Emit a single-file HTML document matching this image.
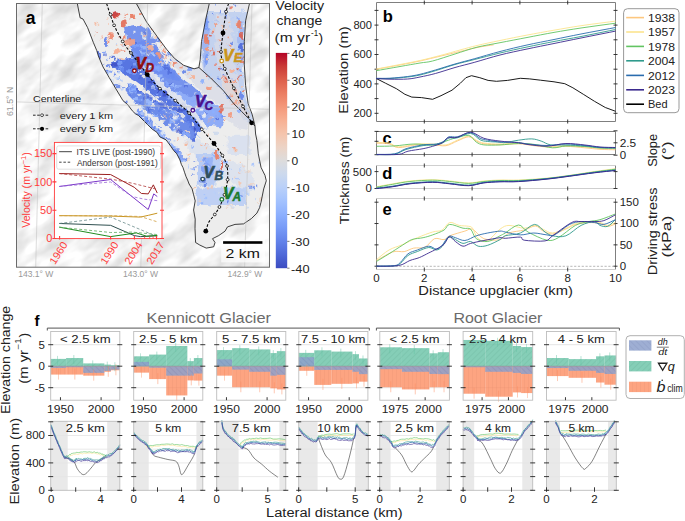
<!DOCTYPE html>
<html><head><meta charset="utf-8"><style>
html,body{margin:0;padding:0;background:#fff;}
svg{display:block;font-family:"Liberation Sans",sans-serif;}
</style></head><body>
<svg width="685" height="521" viewBox="0 0 685 521">
<defs>
<pattern id="hq" patternUnits="userSpaceOnUse" width="4" height="4" patternTransform="rotate(45)"><rect width="4" height="4" fill="#66c2a5"/><line x1="0" y1="0" x2="0" y2="4" stroke="#4fa88a" stroke-width="0.8"/></pattern>
<pattern id="hb" patternUnits="userSpaceOnUse" width="4" height="4"><rect width="4" height="4" fill="#fc8d62"/><line x1="0" y1="0" x2="0" y2="4" stroke="#e87a52" stroke-width="0.7"/></pattern>
<pattern id="hd" patternUnits="userSpaceOnUse" width="4" height="4" patternTransform="rotate(-45)"><rect width="4" height="4" fill="#8da0cb"/><line x1="0" y1="0" x2="0" y2="4" stroke="#7385b8" stroke-width="0.8"/></pattern>
</defs>
<clipPath id="mapclip"><rect x="16.5" y="3.5" width="253" height="263.7"/></clipPath>
<g clip-path="url(#mapclip)">
<rect x="16.5" y="3.5" width="253" height="263.7" fill="#f2f2f2"/>
<filter id="hs" x="0" y="0" width="100%" height="100%" color-interpolation-filters="sRGB"><feTurbulence type="fractalNoise" baseFrequency="0.03 0.065" numOctaves="3" seed="11"/><feColorMatrix type="matrix" values="0.32 0 0 0 0.79  0.32 0 0 0 0.79  0.32 0 0 0 0.79  0 0 0 0 1"/></filter>
<g transform="rotate(-35 140 135)"><rect x="-60" y="-80" width="400" height="430" filter="url(#hs)"/></g>
<path d="M77.3,3.5 L80.1,17.8 L83,19 L87.6,27.6 L93.4,42.6 L96.8,50.7 L98.4,56.1 L103,66.9 L109.2,77.6 L113.8,85.3 L118.4,93 L123,100.7 L127.7,104.6 L132.3,110.8 L135.4,113.8 L138.4,115.4 L143,120 L147.6,124.6 L152.3,129.2 L156.9,132.3 L159.9,136.9 L163,138.4 L166.1,139.9 L170.7,146.1 L173.8,150.7 L176.8,153.8 L179.9,159.9 L181.4,164.5 L183,167.6 L184.5,172.2 L186.1,176.8 L187.6,180 L189.1,184 L192.1,188.8 L193.6,194.8 L195.2,200.9 L193.6,210 L195.2,219.1 L195,228.7 L195.6,242.5 L199.7,245 L206.2,248.1 L213.7,246.8 L215,242.5 L212.5,238.7 L218.7,235.6 L225,231.2 L227.5,226.9 L235,224.4 L243.5,223.9 L251.5,218.5 L256.9,213.1 L259.6,207.7 L261,202.3 L263.7,188.9 L266.3,180.8 L265,175.4 L261,167.3 L258.3,153.8 L256.9,140.4 L255.6,134 L255,126 L252.1,114.2 L248.2,103.8 L245.6,85.6 L244.3,64.9 L244.3,41.5 L245.6,20.8 L249.5,3.5 Z M136.3,3.5 L146.6,22 L157,36.3 L166.5,49.2 L174.5,58.4 L183.7,65.3 L194.1,68.8 L198.9,67.5 L200.2,59.7 L201.5,41.5 L205.4,20.8 L209.3,3.5 Z" fill="#ededed" fill-rule="evenodd"/>
<filter id="rag" x="-5%" y="-5%" width="110%" height="110%"><feTurbulence type="fractalNoise" baseFrequency="0.18" numOctaves="2" seed="4" result="n"/><feDisplacementMap in="SourceGraphic" in2="n" scale="6" xChannelSelector="R" yChannelSelector="G"/></filter>
<clipPath id="glclip"><path clip-rule="evenodd" d="M77.3,3.5 L80.1,17.8 L83,19 L87.6,27.6 L93.4,42.6 L96.8,50.7 L98.4,56.1 L103,66.9 L109.2,77.6 L113.8,85.3 L118.4,93 L123,100.7 L127.7,104.6 L132.3,110.8 L135.4,113.8 L138.4,115.4 L143,120 L147.6,124.6 L152.3,129.2 L156.9,132.3 L159.9,136.9 L163,138.4 L166.1,139.9 L170.7,146.1 L173.8,150.7 L176.8,153.8 L179.9,159.9 L181.4,164.5 L183,167.6 L184.5,172.2 L186.1,176.8 L187.6,180 L189.1,184 L192.1,188.8 L193.6,194.8 L195.2,200.9 L193.6,210 L195.2,219.1 L195,228.7 L195.6,242.5 L199.7,245 L206.2,248.1 L213.7,246.8 L215,242.5 L212.5,238.7 L218.7,235.6 L225,231.2 L227.5,226.9 L235,224.4 L243.5,223.9 L251.5,218.5 L256.9,213.1 L259.6,207.7 L261,202.3 L263.7,188.9 L266.3,180.8 L265,175.4 L261,167.3 L258.3,153.8 L256.9,140.4 L255.6,134 L255,126 L252.1,114.2 L248.2,103.8 L245.6,85.6 L244.3,64.9 L244.3,41.5 L245.6,20.8 L249.5,3.5 Z M136.3,3.5 L146.6,22 L157,36.3 L166.5,49.2 L174.5,58.4 L183.7,65.3 L194.1,68.8 L198.9,67.5 L200.2,59.7 L201.5,41.5 L205.4,20.8 L209.3,3.5 Z"/></clipPath>
<g clip-path="url(#glclip)"><g filter="url(#rag)">
<polygon points="203,12 246.5,12 243.5,30 243,70 245,95 250,112 254,125 246,122 236,108 224,92 212,80 203,72 201,55 202,30" fill="#bfcff0" opacity="0.9"/>
<polygon points="203,3.5 247,3.5 246.5,12 203,12" fill="#e9e9ee" opacity="0.8"/>
<polygon points="216,14 230,14 233,40 236,70 240,90 246,110 240,112 230,98 222,84 217,60 215,35" fill="#d8dbe8" opacity="0.85"/>
<polygon points="222,75 232,80 242,100 250,116 244,118 234,106 224,92" fill="#e2d6d4" opacity="0.8"/>
<polygon points="203,14 208,14 209,40 208,60 204,70 202,50" fill="#8ea8f2" opacity="0.7"/>
<polygon points="239,20 243.5,20 243,60 240,62 238,40" fill="#98b0f2" opacity="0.7"/>
<polygon points="125,27 135,25 149,29 155,40 160,50 164,60 172,68 182.5,79 196,88 205.5,97.6 215,105 224,115 224,120 221,127 210.7,126.1 200,123 190.7,115.3 180,104 170,96 160,86 150,73 140,60 132,50 127,40" fill="#6b8bee" opacity="0.92"/>
<polygon points="130.7,43 146.1,41.5 153.7,44.6 160,52 165,62 172,70 180,80 165,78 152,72 140,62 132,57" fill="#6d8def" opacity="0.9"/>
<polygon points="111,62 124.6,58.5 135.3,57.5 146,70.5 161.4,84.5 176,97 186,107 196,118 203,128 198,133 188,126 180,114.5 169.1,106.8 158.3,99.1 149.1,91.5 141.5,85.3 135.3,80.7 127.6,76.1 118.4,70 112,67.5" fill="#4f6fe0" opacity="0.95"/>
<polygon points="127.6,83.3 138.4,89.4 149.1,95.6 158.3,101.7 169.1,107.8 180,115.5 190,124 198,135 196,142 185,135 172.2,130 161.4,120.6 150.7,113 143,108.3 135.3,102.2 129.2,96.1 124.6,89.9" fill="#6383e8" opacity="0.92"/>
<polygon points="138.4,108.3 146,114.5 150.7,120.6 158,130 168,140 178,150 184,158 181,163 172,154 161,144 152.2,135.5 144.5,128.5 139.9,122.2 135.3,114.5" fill="#7898f2" opacity="0.9"/>
<polygon points="169.2,89.2 183,93.8 193.8,95.4 206,98.4 218.4,106.1 224.5,115.3 221.4,127.6 210.7,126.1 200,123 190.7,115.3 180,106.1 169.2,98.4" fill="#93b0f8" opacity="0.85"/>
<polygon points="170,50 190,60 205,72 222,88 236,104 246,116 248,130 238,128 228,120 218,104 200,90 185,75 170,62" fill="#d6d9e6" opacity="0.7"/>
<polygon points="196.9,153 219.9,153 219.9,172 214,185.7 196.9,185.7" fill="#a9c2f6" opacity="0.8"/>
<polygon points="196.9,187.6 246.8,187.6 246.8,204.9 196.9,204.9" fill="#b3c9f6" opacity="0.8"/>
<polygon points="227.6,135.8 250.6,135.8 250.6,155 227.6,155" fill="#c3d2f2" opacity="0.45"/>
<ellipse cx="208" cy="167" rx="6" ry="9" fill="#7d9cf4" opacity="0.85"/>
<ellipse cx="203" cy="180" rx="4" ry="3" fill="#5a78e0" opacity="0.85"/>
<polygon points="185,140 200,140 215,150 225,160 245,165 255,180 250,195 235,185 220,175 205,160 190,152" fill="#c0d0f0" opacity="0.35"/>
<ellipse cx="115.35" cy="15.35" rx="3.85" ry="3.05" fill="#c53334" opacity="0.9"/>
<ellipse cx="123.8" cy="23.8" rx="3.1" ry="3.8" fill="#e36c55" opacity="0.9"/>
<ellipse cx="132" cy="16.9" rx="2" ry="3.1" fill="#e9785d" opacity="0.9"/>
<ellipse cx="110.7" cy="36.1" rx="2.3" ry="3.9" fill="#ee8468" opacity="0.9"/>
<ellipse cx="129.9" cy="42.2" rx="4.6" ry="3.8" fill="#f6a385" opacity="0.9"/>
<ellipse cx="116.85" cy="51.4" rx="3.85" ry="2.3" fill="#f7ac8e" opacity="0.9"/>
<ellipse cx="140.5" cy="13.5" rx="1.5" ry="1.5" fill="#f18f71" opacity="0.9"/>
<ellipse cx="154" cy="28.5" rx="2" ry="2.5" fill="#eb7d62" opacity="0.9"/>
<ellipse cx="150.5" cy="47.5" rx="2.5" ry="2.5" fill="#f7b093" opacity="0.9"/>
<ellipse cx="159" cy="54.5" rx="2" ry="2.5" fill="#f4987a" opacity="0.9"/>
<ellipse cx="241.5" cy="62" rx="1.5" ry="2" fill="#eb7d62" opacity="0.9"/>
<ellipse cx="234.5" cy="81" rx="1.5" ry="3" fill="#f4987a" opacity="0.9"/>
<ellipse cx="207" cy="41" rx="1" ry="3" fill="#eb7d62" opacity="0.9"/>
<ellipse cx="216" cy="155" rx="2" ry="5" fill="#eb7d62" opacity="0.9"/>
<ellipse cx="222.5" cy="165" rx="1.5" ry="5" fill="#dd5f4b" opacity="0.9"/>
<ellipse cx="237.5" cy="102" rx="2.5" ry="2" fill="#f6a385" opacity="0.9"/>
<ellipse cx="206" cy="39" rx="2" ry="5" fill="#eb7d62" opacity="0.9"/>
<ellipse cx="207.5" cy="48.5" rx="1.5" ry="2.5" fill="#f4987a" opacity="0.9"/>
<ellipse cx="239.5" cy="25" rx="2.5" ry="5" fill="#eb7d62" opacity="0.9"/>
<ellipse cx="241" cy="36" rx="2" ry="3" fill="#dd5f4b" opacity="0.9"/>
<ellipse cx="237.5" cy="56.5" rx="1.5" ry="2.5" fill="#f4987a" opacity="0.9"/>
<ellipse cx="231.5" cy="71" rx="2.5" ry="2" fill="#f7b093" opacity="0.9"/>
<ellipse cx="215.5" cy="25.5" rx="1.5" ry="1.5" fill="#f4987a" opacity="0.9"/>
<ellipse cx="205.5" cy="23" rx="2.5" ry="7" fill="#779af7" opacity="0.9"/>
<ellipse cx="241.5" cy="47.5" rx="2.5" ry="4.5" fill="#4e68d8" opacity="0.9"/>
<ellipse cx="207" cy="59" rx="2" ry="5" fill="#779af7" opacity="0.9"/>
<ellipse cx="241" cy="96" rx="2" ry="4" fill="#6282ea" opacity="0.9"/>
<ellipse cx="229" cy="97" rx="3" ry="2" fill="#8db0fe" opacity="0.9"/>
<ellipse cx="221.5" cy="108" rx="2.5" ry="5" fill="#e36c55" opacity="0.9"/>
<ellipse cx="230" cy="115" rx="2" ry="3" fill="#f4987a" opacity="0.9"/>
<ellipse cx="212" cy="112" rx="2" ry="2" fill="#8db0fe" opacity="0.9"/>
<ellipse cx="106" cy="42" rx="2" ry="5" fill="#6282ea" opacity="0.9"/>
<ellipse cx="99" cy="56" rx="2" ry="4" fill="#4e68d8" opacity="0.9"/>
<ellipse cx="144.5" cy="35.5" rx="2.5" ry="4.5" fill="#ccd9ed" opacity="0.9"/>
<ellipse cx="171" cy="52.5" rx="3" ry="2.5" fill="#779af7" opacity="0.9"/>
<ellipse cx="178.5" cy="60.5" rx="2.5" ry="2.5" fill="#8db0fe" opacity="0.9"/>
<ellipse cx="189" cy="68.5" rx="3" ry="2.5" fill="#779af7" opacity="0.9"/>
<ellipse cx="162" cy="42" rx="2" ry="2" fill="#f4987a" opacity="0.9"/>
<ellipse cx="193" cy="77" rx="3" ry="2" fill="#f7b093" opacity="0.9"/>
<ellipse cx="174" cy="64" rx="2" ry="2" fill="#eb7d62" opacity="0.9"/>
<ellipse cx="202.5" cy="82" rx="2.5" ry="2" fill="#8db0fe" opacity="0.9"/>
<ellipse cx="209" cy="88" rx="3" ry="2" fill="#f4987a" opacity="0.9"/>
<ellipse cx="184" cy="72" rx="2" ry="2" fill="#6282ea" opacity="0.9"/>
<rect x="106.05" y="17.54" width="2.63" height="1.11" fill="#f5c4ac" opacity="0.85"/>
<rect x="100.64" y="37.55" width="1.15" height="1.85" fill="#f4987a" opacity="0.85"/>
<rect x="125.99" y="39.15" width="1.15" height="1.88" fill="#f7b093" opacity="0.85"/>
<rect x="140.8" y="24.48" width="1.36" height="1.18" fill="#eb7d62" opacity="0.85"/>
<rect x="121.42" y="44.1" width="1.26" height="1.86" fill="#f4987a" opacity="0.85"/>
<rect x="109.21" y="37.39" width="1.16" height="1.09" fill="#f4987a" opacity="0.85"/>
<rect x="117.27" y="36.59" width="2.94" height="1.7" fill="#dd5f4b" opacity="0.85"/>
<rect x="108.5" y="22.42" width="1.45" height="2.17" fill="#f7b093" opacity="0.85"/>
<rect x="122.34" y="36.26" width="3.19" height="2.09" fill="#eb7d62" opacity="0.85"/>
<rect x="124.58" y="13.66" width="2.28" height="1.25" fill="#eb7d62" opacity="0.85"/>
<rect x="94.88" y="34.45" width="1.1" height="2" fill="#ecd3c5" opacity="0.85"/>
<rect x="121.27" y="49.45" width="3.05" height="1.51" fill="#eb7d62" opacity="0.85"/>
<rect x="123.63" y="38.99" width="2.14" height="2.26" fill="#eb7d62" opacity="0.85"/>
<rect x="115.82" y="43.21" width="1.15" height="2.05" fill="#b9d0f9" opacity="0.85"/>
<rect x="122.57" y="44.06" width="2.11" height="2.07" fill="#b9d0f9" opacity="0.85"/>
<rect x="108.11" y="40.55" width="2.23" height="1.33" fill="#eb7d62" opacity="0.85"/>
<rect x="93.41" y="22.38" width="1.98" height="2.31" fill="#f7b093" opacity="0.85"/>
<rect x="95.81" y="30.08" width="1.69" height="1.21" fill="#dd5f4b" opacity="0.85"/>
<rect x="141.16" y="23.92" width="2.04" height="1.54" fill="#dd5f4b" opacity="0.85"/>
<rect x="96.45" y="21.6" width="1.58" height="1.73" fill="#f5c4ac" opacity="0.85"/>
<rect x="96.85" y="24.1" width="1.36" height="1.8" fill="#f5c4ac" opacity="0.85"/>
<rect x="121.81" y="57.65" width="2.73" height="1.77" fill="#f5c4ac" opacity="0.85"/>
<rect x="127.57" y="46.99" width="2.14" height="2.31" fill="#ecd3c5" opacity="0.85"/>
<rect x="129.24" y="37.96" width="2" height="1.59" fill="#dd5f4b" opacity="0.85"/>
<rect x="126.23" y="13.11" width="1.17" height="1.31" fill="#f4987a" opacity="0.85"/>
<rect x="119.88" y="57.45" width="2.53" height="1.11" fill="#f4987a" opacity="0.85"/>
<rect x="124.91" y="17.43" width="1.63" height="1.52" fill="#eb7d62" opacity="0.85"/>
<rect x="115.82" y="15.77" width="2.22" height="2.47" fill="#dd5f4b" opacity="0.85"/>
<rect x="116.45" y="14.29" width="1.26" height="1.51" fill="#eb7d62" opacity="0.85"/>
<rect x="116.11" y="44.6" width="2.29" height="1.31" fill="#f5c4ac" opacity="0.85"/>
<rect x="109.04" y="70.7" width="3.29" height="2.14" fill="#779af7" opacity="0.85"/>
<rect x="117.4" y="57.83" width="1.92" height="1.25" fill="#6282ea" opacity="0.85"/>
<rect x="113.31" y="73.37" width="1.82" height="1.33" fill="#6282ea" opacity="0.85"/>
<rect x="112.94" y="60.67" width="1.07" height="1.04" fill="#779af7" opacity="0.85"/>
<rect x="111.81" y="55.81" width="2.51" height="1.52" fill="#4e68d8" opacity="0.85"/>
<rect x="109.12" y="56.61" width="1.57" height="1.3" fill="#6282ea" opacity="0.85"/>
<rect x="122.73" y="60.32" width="2.61" height="2.25" fill="#6282ea" opacity="0.85"/>
<rect x="118.75" y="64.34" width="1.45" height="2.18" fill="#779af7" opacity="0.85"/>
<rect x="118.05" y="63.89" width="2.86" height="1.13" fill="#6282ea" opacity="0.85"/>
<rect x="104.25" y="53.81" width="1.38" height="2.36" fill="#4e68d8" opacity="0.85"/>
<rect x="108.76" y="66.46" width="1.33" height="1.02" fill="#4e68d8" opacity="0.85"/>
<rect x="116.24" y="65.8" width="3.33" height="1.65" fill="#6282ea" opacity="0.85"/>
<rect x="106.3" y="58.79" width="1.6" height="1.88" fill="#779af7" opacity="0.85"/>
<rect x="113.61" y="75.03" width="1.15" height="2.11" fill="#779af7" opacity="0.85"/>
<rect x="112.92" y="74.81" width="3.2" height="1.2" fill="#6282ea" opacity="0.85"/>
<rect x="111" y="55.49" width="1.01" height="2.2" fill="#6282ea" opacity="0.85"/>
<rect x="103.01" y="51.85" width="2.71" height="1.8" fill="#779af7" opacity="0.85"/>
<rect x="114.01" y="57.45" width="1.69" height="2.16" fill="#4e68d8" opacity="0.85"/>
<rect x="106.93" y="65.24" width="3.02" height="1.76" fill="#6282ea" opacity="0.85"/>
<rect x="103.04" y="63.26" width="1.18" height="1.36" fill="#6282ea" opacity="0.85"/>
<rect x="152.76" y="45.14" width="1.31" height="2.17" fill="#dddcdc" opacity="0.85"/>
<rect x="155.19" y="36.86" width="2.17" height="2.12" fill="#f5c4ac" opacity="0.85"/>
<rect x="163.9" y="54.36" width="3.47" height="2.25" fill="#f7b093" opacity="0.85"/>
<rect x="164.23" y="51.06" width="1.89" height="1.14" fill="#f4987a" opacity="0.85"/>
<rect x="159.89" y="61.2" width="2.28" height="1.1" fill="#f7b093" opacity="0.85"/>
<rect x="147.77" y="51.11" width="3.28" height="2.23" fill="#f4987a" opacity="0.85"/>
<rect x="164.36" y="56.83" width="2.29" height="1.74" fill="#f4987a" opacity="0.85"/>
<rect x="145.37" y="32.88" width="2.72" height="1.64" fill="#f5c4ac" opacity="0.85"/>
<rect x="145.31" y="43.03" width="2.52" height="1.33" fill="#f4987a" opacity="0.85"/>
<rect x="160.35" y="57.65" width="3.32" height="1.4" fill="#f7b093" opacity="0.85"/>
<rect x="155.71" y="39.06" width="3.33" height="1.94" fill="#6282ea" opacity="0.85"/>
<rect x="151.37" y="53.74" width="3.34" height="1.16" fill="#dddcdc" opacity="0.85"/>
<rect x="165.93" y="54.75" width="3.09" height="1.59" fill="#6282ea" opacity="0.85"/>
<rect x="158.47" y="40.76" width="1.57" height="1.3" fill="#dddcdc" opacity="0.85"/>
<rect x="175.93" y="64.63" width="1.11" height="1.28" fill="#f4987a" opacity="0.85"/>
<rect x="162.9" y="53.73" width="2.26" height="1.3" fill="#6282ea" opacity="0.85"/>
<rect x="157.98" y="61.48" width="1.21" height="2.44" fill="#f7b093" opacity="0.85"/>
<rect x="179.45" y="65.8" width="3.2" height="1.58" fill="#f4987a" opacity="0.85"/>
<rect x="157.05" y="60.94" width="1.36" height="2.24" fill="#dddcdc" opacity="0.85"/>
<rect x="184.03" y="70.61" width="1.35" height="1.79" fill="#6282ea" opacity="0.85"/>
<rect x="174.11" y="70.65" width="1.04" height="2.03" fill="#dddcdc" opacity="0.85"/>
<rect x="180.97" y="64.67" width="1.57" height="1.05" fill="#f7b093" opacity="0.85"/>
<rect x="162.6" y="52.57" width="1.13" height="1.03" fill="#6282ea" opacity="0.85"/>
<rect x="172.11" y="62.96" width="1.17" height="2.11" fill="#f4987a" opacity="0.85"/>
<rect x="188.55" y="72.31" width="1.59" height="2.13" fill="#f7b093" opacity="0.85"/>
<rect x="168.74" y="64.18" width="2.92" height="1.93" fill="#dddcdc" opacity="0.85"/>
<rect x="159.91" y="62.58" width="2.73" height="1.93" fill="#f7b093" opacity="0.85"/>
<rect x="140.75" y="33.03" width="1.67" height="2.01" fill="#dddcdc" opacity="0.85"/>
<rect x="153.06" y="54.48" width="2.77" height="1.43" fill="#8db0fe" opacity="0.85"/>
<rect x="189.19" y="78.41" width="2.12" height="1.4" fill="#f7b093" opacity="0.85"/>
<rect x="144.48" y="34.52" width="2.87" height="1.39" fill="#f4987a" opacity="0.85"/>
<rect x="160.64" y="45.8" width="3.1" height="1" fill="#f4987a" opacity="0.85"/>
<rect x="162.33" y="49.64" width="3.5" height="1.88" fill="#f4987a" opacity="0.85"/>
<rect x="164.65" y="60.75" width="1.35" height="2.3" fill="#8db0fe" opacity="0.85"/>
<rect x="147.64" y="53.61" width="1.86" height="1.45" fill="#dddcdc" opacity="0.85"/>
<rect x="168.99" y="63.44" width="1.3" height="1.96" fill="#f5c4ac" opacity="0.85"/>
<rect x="154.35" y="42.92" width="2.42" height="2.33" fill="#dddcdc" opacity="0.85"/>
<rect x="169.89" y="58.71" width="1.9" height="2.03" fill="#6282ea" opacity="0.85"/>
<rect x="177.78" y="73.14" width="1.54" height="1.41" fill="#f7b093" opacity="0.85"/>
<rect x="163.07" y="62.29" width="2.08" height="1.47" fill="#f5c4ac" opacity="0.85"/>
<rect x="161.45" y="119.76" width="2.91" height="2.21" fill="#dddcdc" opacity="0.85"/>
<rect x="233.41" y="147.79" width="3.14" height="2.46" fill="#f5c4ac" opacity="0.85"/>
<rect x="213.09" y="149.26" width="3.24" height="1.13" fill="#b9d0f9" opacity="0.85"/>
<rect x="206.38" y="126.98" width="2.09" height="2.15" fill="#ccd9ed" opacity="0.85"/>
<rect x="202.46" y="117.17" width="1.56" height="1.9" fill="#b9d0f9" opacity="0.85"/>
<rect x="175.07" y="112.14" width="3.1" height="1.36" fill="#f5c4ac" opacity="0.85"/>
<rect x="187.06" y="135.48" width="1.14" height="1.29" fill="#8db0fe" opacity="0.85"/>
<rect x="157.3" y="105.95" width="2.06" height="1.56" fill="#dddcdc" opacity="0.85"/>
<rect x="187.85" y="137.78" width="1.5" height="2.2" fill="#ccd9ed" opacity="0.85"/>
<rect x="170.77" y="105.5" width="2.9" height="1.44" fill="#dddcdc" opacity="0.85"/>
<rect x="204.91" y="152.75" width="2.21" height="2.37" fill="#b9d0f9" opacity="0.85"/>
<rect x="185.41" y="104.91" width="3.44" height="1.21" fill="#b9d0f9" opacity="0.85"/>
<rect x="190.47" y="139.84" width="1.79" height="1.17" fill="#ccd9ed" opacity="0.85"/>
<rect x="209.8" y="116.5" width="1.93" height="1.5" fill="#ecd3c5" opacity="0.85"/>
<rect x="159.81" y="95.48" width="1.2" height="1.63" fill="#ccd9ed" opacity="0.85"/>
<rect x="200.5" y="143.12" width="1.95" height="2.15" fill="#f7b093" opacity="0.85"/>
<rect x="223.98" y="120.27" width="1.12" height="1.71" fill="#f4987a" opacity="0.85"/>
<rect x="198.74" y="121.24" width="1.81" height="2.11" fill="#dddcdc" opacity="0.85"/>
<rect x="223.06" y="143.67" width="1.1" height="1.05" fill="#ccd9ed" opacity="0.85"/>
<rect x="204.51" y="115.41" width="1.84" height="2.43" fill="#b9d0f9" opacity="0.85"/>
<rect x="173.6" y="140.16" width="1.79" height="1.41" fill="#b9d0f9" opacity="0.85"/>
<rect x="214.94" y="131.69" width="3.01" height="2.42" fill="#ccd9ed" opacity="0.85"/>
<rect x="172.59" y="120.1" width="2.23" height="2.39" fill="#ecd3c5" opacity="0.85"/>
<rect x="177.3" y="138.45" width="1.38" height="1.35" fill="#f4987a" opacity="0.85"/>
<rect x="191.47" y="144.87" width="2.49" height="1.77" fill="#8db0fe" opacity="0.85"/>
<rect x="155.83" y="92.37" width="2.38" height="1.49" fill="#8db0fe" opacity="0.85"/>
<rect x="213.88" y="121.29" width="1.59" height="1.63" fill="#f5c4ac" opacity="0.85"/>
<rect x="217.32" y="149.29" width="2.66" height="1.18" fill="#f7b093" opacity="0.85"/>
<rect x="176.44" y="129.68" width="1.93" height="2.11" fill="#f5c4ac" opacity="0.85"/>
<rect x="171.2" y="109.69" width="3.27" height="1.28" fill="#ccd9ed" opacity="0.85"/>
<rect x="222.76" y="135.73" width="3.48" height="1.15" fill="#dddcdc" opacity="0.85"/>
<rect x="190.35" y="116.17" width="3.19" height="1.35" fill="#b9d0f9" opacity="0.85"/>
<rect x="202.49" y="155.11" width="1.93" height="2.3" fill="#dddcdc" opacity="0.85"/>
<rect x="204.27" y="144.25" width="2.66" height="1.01" fill="#f4987a" opacity="0.85"/>
<rect x="169.59" y="115.81" width="1.35" height="1.31" fill="#f7b093" opacity="0.85"/>
<rect x="232.26" y="147.03" width="3.05" height="1.61" fill="#f4987a" opacity="0.85"/>
<rect x="166.66" y="111.85" width="1.51" height="2.19" fill="#dddcdc" opacity="0.85"/>
<rect x="155.69" y="97.1" width="1.99" height="1.83" fill="#ccd9ed" opacity="0.85"/>
<rect x="208.78" y="117.84" width="1.68" height="2.48" fill="#f7b093" opacity="0.85"/>
<rect x="217.08" y="151.86" width="2.04" height="1.03" fill="#f4987a" opacity="0.85"/>
<rect x="208" y="117.35" width="2.01" height="2.41" fill="#8db0fe" opacity="0.85"/>
<rect x="223.83" y="118.44" width="3.21" height="1.69" fill="#ecd3c5" opacity="0.85"/>
<rect x="185.7" y="130.1" width="3.32" height="2.11" fill="#ecd3c5" opacity="0.85"/>
<rect x="163.13" y="109.83" width="2.3" height="2.39" fill="#ccd9ed" opacity="0.85"/>
<rect x="184.54" y="142.75" width="2.98" height="2.21" fill="#f7b093" opacity="0.85"/>
<rect x="205.83" y="147.72" width="1.4" height="2.18" fill="#f5c4ac" opacity="0.85"/>
<rect x="205.89" y="133.03" width="1.49" height="1.71" fill="#f5c4ac" opacity="0.85"/>
<rect x="164.08" y="115.14" width="1.37" height="2.46" fill="#f5c4ac" opacity="0.85"/>
<rect x="203.96" y="128.5" width="2.57" height="1.46" fill="#8db0fe" opacity="0.85"/>
<rect x="177.74" y="107.45" width="1.97" height="1.55" fill="#dddcdc" opacity="0.85"/>
<rect x="221.45" y="75.37" width="2.7" height="2" fill="#6282ea" opacity="0.85"/>
<rect x="219.22" y="10.85" width="1.75" height="1.44" fill="#6282ea" opacity="0.85"/>
<rect x="224.21" y="79.88" width="1.08" height="1.16" fill="#eb7d62" opacity="0.85"/>
<rect x="237.33" y="62.84" width="1.11" height="1.6" fill="#dd5f4b" opacity="0.85"/>
<rect x="231.33" y="94.76" width="1.05" height="1.08" fill="#8db0fe" opacity="0.85"/>
<rect x="243.97" y="22.32" width="2.64" height="2.12" fill="#8db0fe" opacity="0.85"/>
<rect x="239.99" y="74.42" width="1.52" height="1.39" fill="#f4987a" opacity="0.85"/>
<rect x="243.44" y="56.4" width="1.53" height="2.16" fill="#6282ea" opacity="0.85"/>
<rect x="210" y="33.76" width="2.05" height="1.38" fill="#779af7" opacity="0.85"/>
<rect x="209.55" y="50.21" width="2.32" height="1.33" fill="#eb7d62" opacity="0.85"/>
<rect x="242.98" y="22.74" width="2.63" height="1.14" fill="#ccd9ed" opacity="0.85"/>
<rect x="225.03" y="83.58" width="2.86" height="1.3" fill="#ccd9ed" opacity="0.85"/>
<rect x="230.23" y="49.13" width="2.66" height="1.32" fill="#eb7d62" opacity="0.85"/>
<rect x="227.71" y="45.15" width="2.59" height="1.53" fill="#b9d0f9" opacity="0.85"/>
<rect x="214.23" y="63.38" width="1.64" height="2.16" fill="#eb7d62" opacity="0.85"/>
<rect x="235.19" y="90.41" width="1.46" height="1.35" fill="#dd5f4b" opacity="0.85"/>
<rect x="220.05" y="45.6" width="1.1" height="1.59" fill="#779af7" opacity="0.85"/>
<rect x="217.04" y="15.44" width="1.74" height="1.27" fill="#f4987a" opacity="0.85"/>
<rect x="228.28" y="26.89" width="2.3" height="1.57" fill="#b9d0f9" opacity="0.85"/>
<rect x="233.96" y="55.75" width="1.13" height="1.17" fill="#f4987a" opacity="0.85"/>
<rect x="219.29" y="33.92" width="1.02" height="1.77" fill="#ccd9ed" opacity="0.85"/>
<rect x="242.85" y="72.58" width="2.2" height="1.72" fill="#ccd9ed" opacity="0.85"/>
<rect x="235.21" y="32.07" width="2.88" height="1.05" fill="#ccd9ed" opacity="0.85"/>
<rect x="205.04" y="74.68" width="2.37" height="1.24" fill="#dd5f4b" opacity="0.85"/>
<rect x="209.58" y="74.15" width="2.05" height="1.77" fill="#b9d0f9" opacity="0.85"/>
<rect x="224.41" y="10.46" width="2.3" height="2.19" fill="#6282ea" opacity="0.85"/>
<rect x="234.34" y="3.74" width="2.76" height="1.89" fill="#6282ea" opacity="0.85"/>
<rect x="212.55" y="78.35" width="1.26" height="2.07" fill="#f4987a" opacity="0.85"/>
<rect x="234.16" y="34.12" width="2.15" height="1.52" fill="#ccd9ed" opacity="0.85"/>
<rect x="244.57" y="107.62" width="1.18" height="1.61" fill="#b9d0f9" opacity="0.85"/>
<rect x="212.5" y="30.62" width="2.55" height="2.13" fill="#eb7d62" opacity="0.85"/>
<rect x="209.21" y="48.48" width="2.25" height="1.46" fill="#ccd9ed" opacity="0.85"/>
<rect x="233.49" y="103.33" width="1.91" height="1.87" fill="#f4987a" opacity="0.85"/>
<rect x="237.88" y="48.81" width="2.22" height="1.68" fill="#b9d0f9" opacity="0.85"/>
<rect x="216.55" y="19.6" width="1.06" height="1.05" fill="#779af7" opacity="0.85"/>
<rect x="233.46" y="89.2" width="1.14" height="1.71" fill="#eb7d62" opacity="0.85"/>
<rect x="225.63" y="80.71" width="2.83" height="1.91" fill="#dd5f4b" opacity="0.85"/>
<rect x="205.14" y="27.07" width="1.23" height="1.04" fill="#8db0fe" opacity="0.85"/>
<rect x="239.6" y="76.89" width="1.6" height="1.12" fill="#8db0fe" opacity="0.85"/>
<rect x="238.01" y="78.62" width="1.61" height="1.4" fill="#f4987a" opacity="0.85"/>
<rect x="217.67" y="40.54" width="3.01" height="1.6" fill="#f4987a" opacity="0.85"/>
<rect x="229.68" y="6.62" width="1.86" height="1.52" fill="#8db0fe" opacity="0.85"/>
<rect x="216.65" y="85.45" width="2.12" height="1.26" fill="#8db0fe" opacity="0.85"/>
<rect x="227.58" y="36.59" width="1.91" height="1.63" fill="#f4987a" opacity="0.85"/>
<rect x="200.21" y="60.43" width="2.02" height="1.96" fill="#b9d0f9" opacity="0.85"/>
<rect x="227.74" y="21.59" width="2.7" height="2.13" fill="#f5c4ac" opacity="0.85"/>
<rect x="223.92" y="15.86" width="2.32" height="1.1" fill="#ccd9ed" opacity="0.85"/>
<rect x="237.77" y="76.47" width="1.74" height="1.48" fill="#dd5f4b" opacity="0.85"/>
<rect x="242.81" y="90.19" width="1.88" height="1.78" fill="#eb7d62" opacity="0.85"/>
<rect x="209.89" y="33.79" width="2.87" height="1.6" fill="#dd5f4b" opacity="0.85"/>
<rect x="245.31" y="17.85" width="2.24" height="1.83" fill="#779af7" opacity="0.85"/>
<rect x="216.73" y="41.22" width="1.32" height="2.01" fill="#ccd9ed" opacity="0.85"/>
<rect x="235.62" y="22.84" width="1.91" height="1.93" fill="#f5c4ac" opacity="0.85"/>
<rect x="206.05" y="57.06" width="2.84" height="1.29" fill="#f5c4ac" opacity="0.85"/>
<rect x="239.67" y="75.23" width="2.5" height="2.17" fill="#eb7d62" opacity="0.85"/>
<rect x="228.94" y="43.79" width="1.49" height="2.15" fill="#f4987a" opacity="0.85"/>
<rect x="204.88" y="47.96" width="3.05" height="1.95" fill="#f4987a" opacity="0.85"/>
<rect x="220.88" y="25.95" width="2.33" height="1.13" fill="#f5c4ac" opacity="0.85"/>
<rect x="242.49" y="57.28" width="1.03" height="2.03" fill="#dd5f4b" opacity="0.85"/>
<rect x="233.29" y="61.56" width="2.32" height="1.56" fill="#b9d0f9" opacity="0.85"/>
<rect x="240.94" y="85.04" width="2.22" height="1.78" fill="#f5c4ac" opacity="0.85"/>
<rect x="232.06" y="79.34" width="2.83" height="1.77" fill="#f5c4ac" opacity="0.85"/>
<rect x="232.62" y="78.06" width="1.94" height="1.38" fill="#8db0fe" opacity="0.85"/>
<rect x="242.95" y="31.36" width="1.83" height="1.86" fill="#b9d0f9" opacity="0.85"/>
<rect x="212" y="52.56" width="1.95" height="1.75" fill="#dd5f4b" opacity="0.85"/>
<rect x="224.88" y="80.35" width="2.82" height="2.07" fill="#eb7d62" opacity="0.85"/>
<rect x="237.35" y="48.48" width="2.02" height="2.17" fill="#779af7" opacity="0.85"/>
<rect x="212.06" y="28.49" width="2.49" height="2.14" fill="#f5c4ac" opacity="0.85"/>
<rect x="224.92" y="14.83" width="2.2" height="1.65" fill="#6282ea" opacity="0.85"/>
<rect x="224.59" y="77.79" width="2.72" height="1.63" fill="#dd5f4b" opacity="0.85"/>
<rect x="235.62" y="56.46" width="3.06" height="1.22" fill="#ccd9ed" opacity="0.85"/>
<rect x="236.61" y="17.32" width="3.05" height="1.43" fill="#779af7" opacity="0.85"/>
<rect x="212.12" y="47.67" width="1.13" height="1.09" fill="#dd5f4b" opacity="0.85"/>
<rect x="230.17" y="81.96" width="2.21" height="1.13" fill="#f4987a" opacity="0.85"/>
<rect x="225.3" y="28.61" width="2.67" height="1.47" fill="#f5c4ac" opacity="0.85"/>
<rect x="209.27" y="78.14" width="2.5" height="1.98" fill="#b9d0f9" opacity="0.85"/>
<rect x="216.95" y="77.74" width="2.7" height="1.98" fill="#6282ea" opacity="0.85"/>
<rect x="231.18" y="94.24" width="1.98" height="1.94" fill="#f5c4ac" opacity="0.85"/>
<rect x="212.84" y="47.01" width="1.53" height="1.51" fill="#b9d0f9" opacity="0.85"/>
<rect x="238.35" y="44.88" width="2.36" height="1.38" fill="#6282ea" opacity="0.85"/>
<rect x="220.57" y="77.56" width="2.37" height="1.43" fill="#f4987a" opacity="0.85"/>
<rect x="241.01" y="9.68" width="2.72" height="2.09" fill="#b9d0f9" opacity="0.85"/>
<rect x="225.47" y="43.38" width="2.21" height="1.79" fill="#f5c4ac" opacity="0.85"/>
<rect x="212" y="14.88" width="1.3" height="1.28" fill="#6282ea" opacity="0.85"/>
<rect x="216.63" y="20.86" width="2.88" height="1.95" fill="#b9d0f9" opacity="0.85"/>
<rect x="229.26" y="83.5" width="3.03" height="1.11" fill="#ccd9ed" opacity="0.85"/>
<rect x="237.83" y="101.14" width="1.41" height="1.83" fill="#ccd9ed" opacity="0.85"/>
<rect x="232.22" y="16.69" width="1.25" height="1.5" fill="#b9d0f9" opacity="0.85"/>
<rect x="222.72" y="68.19" width="2.01" height="2.09" fill="#6282ea" opacity="0.85"/>
<rect x="211.84" y="22.26" width="2.25" height="1.88" fill="#b9d0f9" opacity="0.85"/>
<rect x="240.36" y="57.75" width="2.17" height="1.8" fill="#6282ea" opacity="0.85"/>
<rect x="218" y="52" width="3" height="1.09" fill="#eb7d62" opacity="0.85"/>
<rect x="230.53" y="6.34" width="2.27" height="1.82" fill="#eb7d62" opacity="0.85"/>
<rect x="238.81" y="14" width="2.01" height="1.91" fill="#b9d0f9" opacity="0.85"/>
<rect x="230.01" y="42.62" width="2.79" height="1.44" fill="#6282ea" opacity="0.85"/>
<rect x="237.37" y="67.83" width="2.9" height="1.34" fill="#eb7d62" opacity="0.85"/>
<rect x="220.27" y="67.82" width="2.72" height="1.35" fill="#6282ea" opacity="0.85"/>
<rect x="219.38" y="61.94" width="1.57" height="1.61" fill="#f5c4ac" opacity="0.85"/>
<rect x="231.42" y="95.66" width="1.69" height="1.38" fill="#f4987a" opacity="0.85"/>
<rect x="219.15" y="67.85" width="1.84" height="1.69" fill="#dd5f4b" opacity="0.85"/>
<rect x="214.42" y="3.73" width="1.4" height="2.11" fill="#779af7" opacity="0.85"/>
<rect x="237.87" y="109.45" width="2.27" height="1.74" fill="#8db0fe" opacity="0.85"/>
<rect x="221.98" y="92.23" width="1.21" height="1.22" fill="#779af7" opacity="0.85"/>
<rect x="220.24" y="14.77" width="2.94" height="1.02" fill="#b9d0f9" opacity="0.85"/>
<rect x="237.75" y="68.77" width="1.54" height="1.36" fill="#dd5f4b" opacity="0.85"/>
<rect x="227.18" y="70.66" width="2.9" height="1.6" fill="#ccd9ed" opacity="0.85"/>
<rect x="238.9" y="70.31" width="2.91" height="1.54" fill="#779af7" opacity="0.85"/>
<rect x="232.64" y="72.48" width="3.07" height="1.79" fill="#b9d0f9" opacity="0.85"/>
<rect x="222.82" y="51.25" width="1.21" height="1.77" fill="#f5c4ac" opacity="0.85"/>
<rect x="243" y="76.35" width="1.89" height="1.01" fill="#8db0fe" opacity="0.85"/>
<rect x="201.8" y="157.28" width="2.18" height="1.41" fill="#f5c4ac" opacity="0.85"/>
<rect x="203.65" y="194.01" width="1.47" height="1.08" fill="#a3c2fe" opacity="0.85"/>
<rect x="242.54" y="191.69" width="1.36" height="2.14" fill="#ccd9ed" opacity="0.85"/>
<rect x="233.4" y="192.55" width="2.15" height="2.4" fill="#ccd9ed" opacity="0.85"/>
<rect x="187.46" y="153.63" width="3.21" height="2.03" fill="#f5c4ac" opacity="0.85"/>
<rect x="191.14" y="168.66" width="2.82" height="1.25" fill="#a3c2fe" opacity="0.85"/>
<rect x="249.29" y="186.54" width="1.79" height="2.42" fill="#6282ea" opacity="0.85"/>
<rect x="218.78" y="190.61" width="1.36" height="2.2" fill="#ccd9ed" opacity="0.85"/>
<rect x="258.45" y="159.84" width="3" height="1.72" fill="#a3c2fe" opacity="0.85"/>
<rect x="245.54" y="206.7" width="2.96" height="1.85" fill="#ccd9ed" opacity="0.85"/>
<rect x="206.55" y="187.31" width="2.63" height="2.2" fill="#f5c4ac" opacity="0.85"/>
<rect x="210.57" y="186.35" width="3.44" height="2.25" fill="#f5c4ac" opacity="0.85"/>
<rect x="249.11" y="185.08" width="3.44" height="1.37" fill="#ecd3c5" opacity="0.85"/>
<rect x="237.73" y="186.11" width="3.24" height="2.21" fill="#ccd9ed" opacity="0.85"/>
<rect x="238.02" y="169.29" width="1.67" height="1.24" fill="#a3c2fe" opacity="0.85"/>
<rect x="243.78" y="196.99" width="1.72" height="1.21" fill="#a3c2fe" opacity="0.85"/>
<rect x="260.1" y="197.84" width="2.37" height="2.17" fill="#ecd3c5" opacity="0.85"/>
<rect x="211.71" y="155.1" width="2.38" height="2.2" fill="#8db0fe" opacity="0.85"/>
<rect x="245.65" y="193.33" width="3.46" height="1.46" fill="#b9d0f9" opacity="0.85"/>
<rect x="237.18" y="177.92" width="1.52" height="1.38" fill="#a3c2fe" opacity="0.85"/>
<rect x="226.62" y="182.17" width="1.89" height="1.09" fill="#ecd3c5" opacity="0.85"/>
<rect x="229.63" y="203.82" width="3.21" height="1.78" fill="#ecd3c5" opacity="0.85"/>
<rect x="223.97" y="162.11" width="1.53" height="1.14" fill="#a3c2fe" opacity="0.85"/>
<rect x="238.98" y="171.77" width="2.41" height="1.6" fill="#f5c4ac" opacity="0.85"/>
<rect x="250.99" y="164.78" width="3.31" height="1.74" fill="#a3c2fe" opacity="0.85"/>
<rect x="193.17" y="187.96" width="2.97" height="1.23" fill="#f5c4ac" opacity="0.85"/>
<rect x="200.76" y="202.25" width="2.41" height="1.88" fill="#8db0fe" opacity="0.85"/>
<rect x="205.14" y="196.75" width="2.06" height="2.42" fill="#a3c2fe" opacity="0.85"/>
<rect x="230.67" y="186.52" width="1.33" height="2.27" fill="#ccd9ed" opacity="0.85"/>
<rect x="200.48" y="160.84" width="1.21" height="1.08" fill="#f5c4ac" opacity="0.85"/>
<rect x="213.46" y="192.33" width="2.22" height="2.27" fill="#b9d0f9" opacity="0.85"/>
<rect x="251.45" y="188.39" width="3.31" height="2.06" fill="#b9d0f9" opacity="0.85"/>
<rect x="204.8" y="183.87" width="2.6" height="2.43" fill="#6282ea" opacity="0.85"/>
<rect x="224" y="160.96" width="3.12" height="1.56" fill="#8db0fe" opacity="0.85"/>
<rect x="187.97" y="165.35" width="1.88" height="2.35" fill="#b9d0f9" opacity="0.85"/>
<rect x="245.55" y="192.58" width="2.62" height="2.48" fill="#b9d0f9" opacity="0.85"/>
<rect x="192.78" y="169.06" width="1.01" height="1.3" fill="#6282ea" opacity="0.85"/>
<rect x="208.01" y="185.49" width="2.89" height="1.16" fill="#ccd9ed" opacity="0.85"/>
<rect x="213.62" y="173.4" width="1.94" height="1.57" fill="#ecd3c5" opacity="0.85"/>
<rect x="203.36" y="158.59" width="2.69" height="1.02" fill="#6282ea" opacity="0.85"/>
<rect x="255.27" y="197.93" width="1.39" height="2.25" fill="#b9d0f9" opacity="0.85"/>
<rect x="256.92" y="202.01" width="3.22" height="1.21" fill="#ecd3c5" opacity="0.85"/>
<rect x="258.76" y="205.56" width="1.96" height="1.03" fill="#b9d0f9" opacity="0.85"/>
<rect x="219.83" y="170.39" width="3.06" height="1.72" fill="#6282ea" opacity="0.85"/>
<rect x="213.18" y="169.92" width="2.84" height="1.27" fill="#ecd3c5" opacity="0.85"/>
<rect x="227.61" y="158.68" width="3.18" height="1.4" fill="#ecd3c5" opacity="0.85"/>
<rect x="228.97" y="167.79" width="3.01" height="1.39" fill="#b9d0f9" opacity="0.85"/>
<rect x="209.49" y="204.19" width="1.29" height="2.47" fill="#b9d0f9" opacity="0.85"/>
<rect x="233.59" y="197.26" width="3.31" height="1.84" fill="#a3c2fe" opacity="0.85"/>
<rect x="207.04" y="165.47" width="1.5" height="1.55" fill="#ccd9ed" opacity="0.85"/>
<rect x="192.51" y="167.37" width="3.24" height="1.09" fill="#6282ea" opacity="0.85"/>
<rect x="234.27" y="176.53" width="2.27" height="1.77" fill="#ecd3c5" opacity="0.85"/>
<rect x="225.55" y="161.15" width="2.09" height="2.37" fill="#8db0fe" opacity="0.85"/>
<rect x="206.32" y="160.84" width="3.11" height="1.78" fill="#8db0fe" opacity="0.85"/>
<rect x="239.79" y="161.8" width="1.2" height="1.13" fill="#f5c4ac" opacity="0.85"/>
<rect x="241.28" y="195.68" width="1.44" height="1.21" fill="#6282ea" opacity="0.85"/>
<rect x="239.5" y="198.7" width="2.46" height="1.3" fill="#b9d0f9" opacity="0.85"/>
<rect x="238.3" y="181.17" width="3.1" height="2.37" fill="#f5c4ac" opacity="0.85"/>
<rect x="247.42" y="170.11" width="3.1" height="2.3" fill="#ecd3c5" opacity="0.85"/>
<rect x="191.96" y="174.57" width="2.91" height="1.2" fill="#6282ea" opacity="0.85"/>
<rect x="205.5" y="161.16" width="3.08" height="1.55" fill="#8db0fe" opacity="0.85"/>
<rect x="239.07" y="184.5" width="3.15" height="1.53" fill="#ecd3c5" opacity="0.85"/>
<rect x="212.47" y="164.68" width="3.08" height="2.37" fill="#a3c2fe" opacity="0.85"/>
<rect x="239.76" y="172.88" width="2.88" height="1.09" fill="#a3c2fe" opacity="0.85"/>
<rect x="246.95" y="158.06" width="1.61" height="1.13" fill="#f5c4ac" opacity="0.85"/>
<rect x="199.04" y="156.16" width="1.63" height="2.23" fill="#b9d0f9" opacity="0.85"/>
<rect x="241.88" y="165.69" width="3.09" height="1.96" fill="#ecd3c5" opacity="0.85"/>
<rect x="225.26" y="192.16" width="1.26" height="2.3" fill="#6282ea" opacity="0.85"/>
<rect x="198.78" y="166.38" width="2.16" height="1.88" fill="#a3c2fe" opacity="0.85"/>
<rect x="206.53" y="157.32" width="2.01" height="1.21" fill="#f5c4ac" opacity="0.85"/>
<rect x="202.51" y="163.62" width="2.67" height="1.69" fill="#ecd3c5" opacity="0.85"/>
<rect x="197.65" y="199.56" width="3.34" height="1.58" fill="#ecd3c5" opacity="0.85"/>
<rect x="230.97" y="186.17" width="1.09" height="2.46" fill="#b9d0f9" opacity="0.85"/>
<rect x="244.82" y="170.31" width="1.6" height="1.5" fill="#ecd3c5" opacity="0.85"/>
<rect x="249.91" y="183.87" width="3.46" height="1.48" fill="#ecd3c5" opacity="0.85"/>
<rect x="224.84" y="207.47" width="3.34" height="1.37" fill="#ecd3c5" opacity="0.85"/>
<rect x="193.39" y="161.25" width="1.81" height="1.3" fill="#6282ea" opacity="0.85"/>
<rect x="186.6" y="158.36" width="3.42" height="2.16" fill="#ecd3c5" opacity="0.85"/>
<rect x="233.76" y="198.56" width="3.21" height="2.33" fill="#b9d0f9" opacity="0.85"/>
<rect x="251.65" y="187.26" width="3.29" height="1.94" fill="#6282ea" opacity="0.85"/>
<rect x="226.75" y="205.46" width="2.55" height="1.38" fill="#f5c4ac" opacity="0.85"/>
<rect x="188.04" y="156.78" width="1.87" height="1.25" fill="#b9d0f9" opacity="0.85"/>
<rect x="230.76" y="207.37" width="2.28" height="1.4" fill="#ecd3c5" opacity="0.85"/>
<rect x="230.45" y="205.92" width="2.1" height="1.77" fill="#ccd9ed" opacity="0.85"/>
<rect x="255.5" y="184.64" width="1.69" height="2.1" fill="#6282ea" opacity="0.85"/>
<rect x="227.07" y="200.38" width="2.52" height="1.86" fill="#6282ea" opacity="0.85"/>
<rect x="214.77" y="182.91" width="1.92" height="2.34" fill="#ccd9ed" opacity="0.85"/>
<rect x="232.19" y="178.14" width="1.78" height="1.36" fill="#8db0fe" opacity="0.85"/>
<rect x="199.54" y="182.75" width="3.42" height="1.59" fill="#ccd9ed" opacity="0.85"/>
<rect x="209.94" y="169.53" width="1.67" height="2.32" fill="#8db0fe" opacity="0.85"/>
<rect x="161.49" y="131.76" width="2.9" height="1.71" fill="#b9d0f9" opacity="0.85"/>
<rect x="147.73" y="104.77" width="3.41" height="1.86" fill="#8db0fe" opacity="0.85"/>
<rect x="120.93" y="88.79" width="1.88" height="1.79" fill="#b9d0f9" opacity="0.85"/>
<rect x="129.61" y="85.42" width="2.97" height="2.27" fill="#8db0fe" opacity="0.85"/>
<rect x="129.26" y="83" width="2.34" height="2.2" fill="#8db0fe" opacity="0.85"/>
<rect x="146.79" y="113.97" width="1.22" height="2.38" fill="#8db0fe" opacity="0.85"/>
<rect x="116.84" y="85.84" width="3.43" height="2.34" fill="#6282ea" opacity="0.85"/>
<rect x="133.71" y="101.07" width="1.1" height="2.01" fill="#8db0fe" opacity="0.85"/>
<rect x="128.7" y="94.1" width="2.4" height="1.86" fill="#6282ea" opacity="0.85"/>
<rect x="141.04" y="105.54" width="1.47" height="1.27" fill="#b9d0f9" opacity="0.85"/>
<rect x="146.29" y="119.45" width="2.81" height="2.04" fill="#6282ea" opacity="0.85"/>
<rect x="147.76" y="123.49" width="1.49" height="1.75" fill="#b9d0f9" opacity="0.85"/>
<rect x="107.93" y="71.84" width="2.5" height="1.22" fill="#b9d0f9" opacity="0.85"/>
<rect x="110.25" y="79.33" width="1.25" height="2.36" fill="#b9d0f9" opacity="0.85"/>
<rect x="115.06" y="67.53" width="2.47" height="1.26" fill="#6282ea" opacity="0.85"/>
<rect x="114.93" y="84.01" width="3.19" height="1.73" fill="#6282ea" opacity="0.85"/>
<rect x="127.66" y="86.85" width="3.18" height="1.5" fill="#b9d0f9" opacity="0.85"/>
<rect x="117.04" y="71.03" width="1.71" height="1.36" fill="#6282ea" opacity="0.85"/>
<rect x="106.69" y="71.59" width="2.36" height="2.18" fill="#b9d0f9" opacity="0.85"/>
<rect x="141.17" y="109.69" width="1.68" height="2.16" fill="#8db0fe" opacity="0.85"/>
<rect x="158.96" y="126.41" width="2.94" height="1.35" fill="#6282ea" opacity="0.85"/>
<rect x="156.17" y="123" width="1.88" height="1.62" fill="#b9d0f9" opacity="0.85"/>
<rect x="121.23" y="79.8" width="2.52" height="1.33" fill="#b9d0f9" opacity="0.85"/>
<rect x="98.64" y="54.4" width="1.41" height="1.3" fill="#8db0fe" opacity="0.85"/>
<rect x="144.71" y="119.24" width="3.35" height="1.85" fill="#6282ea" opacity="0.85"/>
<rect x="157.25" y="131.25" width="3.07" height="1.94" fill="#8db0fe" opacity="0.85"/>
<rect x="116.24" y="78.63" width="3.41" height="1.25" fill="#8db0fe" opacity="0.85"/>
<rect x="158.63" y="123.74" width="1.59" height="1.36" fill="#b9d0f9" opacity="0.85"/>
<rect x="152.68" y="126.79" width="1.33" height="2.06" fill="#b9d0f9" opacity="0.85"/>
<rect x="154.99" y="115.86" width="2.15" height="2.15" fill="#6282ea" opacity="0.85"/>
<rect x="124.2" y="101.55" width="1.91" height="1.25" fill="#6282ea" opacity="0.85"/>
<rect x="123.96" y="89.52" width="1.23" height="1.43" fill="#b9d0f9" opacity="0.85"/>
<rect x="117.63" y="77.06" width="1.35" height="1.04" fill="#8db0fe" opacity="0.85"/>
<rect x="146.02" y="119.1" width="3.05" height="2.06" fill="#6282ea" opacity="0.85"/>
<rect x="132.91" y="87.25" width="2.1" height="2" fill="#6282ea" opacity="0.85"/>
<rect x="124.13" y="100.65" width="3.43" height="2.36" fill="#6282ea" opacity="0.85"/>
<rect x="121.94" y="87.77" width="3.21" height="1.04" fill="#6282ea" opacity="0.85"/>
<rect x="147.12" y="111.04" width="3.36" height="1.54" fill="#6282ea" opacity="0.85"/>
<rect x="105.28" y="69.86" width="3.22" height="1.82" fill="#6282ea" opacity="0.85"/>
<rect x="155.32" y="128" width="1.57" height="1.69" fill="#b9d0f9" opacity="0.85"/>
<rect x="141.19" y="114.73" width="1.2" height="1.61" fill="#6282ea" opacity="0.85"/>
<rect x="140.28" y="105.8" width="3.1" height="2.42" fill="#b9d0f9" opacity="0.85"/>
<rect x="114.18" y="82.99" width="2.77" height="1.64" fill="#6282ea" opacity="0.85"/>
<rect x="117.91" y="71.25" width="2.12" height="2.26" fill="#b9d0f9" opacity="0.85"/>
<rect x="138.85" y="103.24" width="1.08" height="2.26" fill="#6282ea" opacity="0.85"/>
<rect x="137.1" y="113.47" width="1.97" height="1.53" fill="#6282ea" opacity="0.85"/>
<rect x="115.4" y="77.36" width="3.19" height="1.91" fill="#b9d0f9" opacity="0.85"/>
<rect x="119.54" y="80.07" width="2.25" height="1.39" fill="#b9d0f9" opacity="0.85"/>
<rect x="146.62" y="114.29" width="1.35" height="2.05" fill="#b9d0f9" opacity="0.85"/>
<rect x="166.27" y="137.23" width="1.6" height="2.2" fill="#6282ea" opacity="0.85"/>
<rect x="200.57" y="100.43" width="4.04" height="3.41" fill="#84a7fc" opacity="0.75"/>
<rect x="191.5" y="115.13" width="5.13" height="3.01" fill="#6a8bef" opacity="0.75"/>
<rect x="139.93" y="45.95" width="5.56" height="3.51" fill="#a3c2fe" opacity="0.75"/>
<rect x="169.11" y="83.01" width="3.21" height="2.01" fill="#4e68d8" opacity="0.75"/>
<rect x="132.28" y="44.4" width="5.7" height="3.25" fill="#84a7fc" opacity="0.75"/>
<rect x="141.29" y="52.34" width="4.82" height="2.15" fill="#a3c2fe" opacity="0.75"/>
<rect x="152.98" y="76.2" width="2.4" height="2.23" fill="#4e68d8" opacity="0.75"/>
<rect x="138.53" y="44.19" width="4.15" height="4.13" fill="#84a7fc" opacity="0.75"/>
<rect x="158.12" y="75.42" width="4.39" height="2.27" fill="#a3c2fe" opacity="0.75"/>
<rect x="156.03" y="67.34" width="4.84" height="4" fill="#6a8bef" opacity="0.75"/>
<rect x="134.25" y="40.93" width="2.57" height="3.8" fill="#4e68d8" opacity="0.75"/>
<rect x="160.43" y="61.9" width="3.38" height="3.54" fill="#b9d0f9" opacity="0.75"/>
<rect x="186.25" y="107.97" width="3.91" height="1.59" fill="#84a7fc" opacity="0.75"/>
<rect x="160.77" y="79.02" width="3.1" height="2.26" fill="#b9d0f9" opacity="0.75"/>
<rect x="172.1" y="91.85" width="5.1" height="2.59" fill="#6a8bef" opacity="0.75"/>
<rect x="198.02" y="117.09" width="5.48" height="4.07" fill="#6a8bef" opacity="0.75"/>
<rect x="215.32" y="116.91" width="3.56" height="2.14" fill="#4e68d8" opacity="0.75"/>
<rect x="147.18" y="50.7" width="3.05" height="2.8" fill="#6a8bef" opacity="0.75"/>
<rect x="160.08" y="58.26" width="3.7" height="2.34" fill="#a3c2fe" opacity="0.75"/>
<rect x="199.4" y="108.93" width="3.13" height="2.49" fill="#a3c2fe" opacity="0.75"/>
<rect x="168.47" y="69.35" width="2.56" height="4.31" fill="#4e68d8" opacity="0.75"/>
<rect x="154.97" y="76.27" width="3.41" height="3.75" fill="#a3c2fe" opacity="0.75"/>
<rect x="195.92" y="114.96" width="5.92" height="1.6" fill="#6a8bef" opacity="0.75"/>
<rect x="183.92" y="83.63" width="4.79" height="3.69" fill="#4e68d8" opacity="0.75"/>
<rect x="220.78" y="115.08" width="4.93" height="2.32" fill="#6a8bef" opacity="0.75"/>
<rect x="157.74" y="66.86" width="5.97" height="3.74" fill="#84a7fc" opacity="0.75"/>
<rect x="163.32" y="64.31" width="3.64" height="1.93" fill="#4e68d8" opacity="0.75"/>
<rect x="165.18" y="81.97" width="4.74" height="2.83" fill="#84a7fc" opacity="0.75"/>
<rect x="170.09" y="83.93" width="3.89" height="3.44" fill="#a3c2fe" opacity="0.75"/>
<rect x="175.5" y="85.41" width="5.98" height="2.2" fill="#a3c2fe" opacity="0.75"/>
<rect x="190.3" y="109.27" width="2.29" height="3.89" fill="#6a8bef" opacity="0.75"/>
<rect x="183.36" y="83.21" width="6" height="1.7" fill="#b9d0f9" opacity="0.75"/>
<rect x="218.79" y="112.29" width="4.61" height="4.23" fill="#84a7fc" opacity="0.75"/>
<rect x="140.23" y="50.65" width="2.41" height="2.57" fill="#b9d0f9" opacity="0.75"/>
<rect x="169.48" y="73.79" width="5.19" height="3.78" fill="#6a8bef" opacity="0.75"/>
<rect x="173.39" y="92.35" width="4.49" height="3.07" fill="#a3c2fe" opacity="0.75"/>
<rect x="150.31" y="52.07" width="3.75" height="3.08" fill="#a3c2fe" opacity="0.75"/>
<rect x="154.23" y="66.61" width="4.59" height="3.93" fill="#84a7fc" opacity="0.75"/>
<rect x="163.93" y="67.3" width="5.74" height="3.43" fill="#4e68d8" opacity="0.75"/>
<rect x="142.45" y="31.64" width="3.59" height="1.91" fill="#4e68d8" opacity="0.75"/>
<rect x="191.37" y="100.53" width="3.61" height="1.62" fill="#84a7fc" opacity="0.75"/>
<rect x="179.83" y="103.46" width="5.08" height="1.85" fill="#6a8bef" opacity="0.75"/>
<rect x="144.78" y="59.23" width="5.45" height="3.15" fill="#a3c2fe" opacity="0.75"/>
<rect x="154.58" y="65.27" width="5.54" height="3.54" fill="#84a7fc" opacity="0.75"/>
<rect x="204.4" y="112.38" width="3.03" height="2.11" fill="#4e68d8" opacity="0.75"/>
<rect x="111.78" y="62.61" width="5.81" height="3.97" fill="#3b4cc0" opacity="0.75"/>
<rect x="172.99" y="108.46" width="3.18" height="2.13" fill="#4e68d8" opacity="0.75"/>
<rect x="130.04" y="65.12" width="2.38" height="3.85" fill="#3b4cc0" opacity="0.75"/>
<rect x="138.01" y="75.07" width="4.33" height="2.46" fill="#4e68d8" opacity="0.75"/>
<rect x="139.48" y="76.98" width="4.19" height="2.14" fill="#4e68d8" opacity="0.75"/>
<rect x="166" y="98.32" width="2.35" height="1.92" fill="#6282ea" opacity="0.75"/>
<rect x="181.64" y="115.26" width="5.62" height="3.24" fill="#6282ea" opacity="0.75"/>
<rect x="126.08" y="70.31" width="5.77" height="2.49" fill="#84a7fc" opacity="0.75"/>
<rect x="138.91" y="77.23" width="2.43" height="2.22" fill="#4e68d8" opacity="0.75"/>
<rect x="157.62" y="85.2" width="2.79" height="2.71" fill="#4e68d8" opacity="0.75"/>
<rect x="133.05" y="64.67" width="2.42" height="1.66" fill="#4e68d8" opacity="0.75"/>
<rect x="135.3" y="59.83" width="3.57" height="3.05" fill="#6282ea" opacity="0.75"/>
<rect x="184.38" y="115.65" width="2.81" height="4.27" fill="#6282ea" opacity="0.75"/>
<rect x="183.54" y="108.85" width="2.66" height="2.66" fill="#6282ea" opacity="0.75"/>
<rect x="179.82" y="102.32" width="4.62" height="3.4" fill="#3b4cc0" opacity="0.75"/>
<rect x="132.35" y="72.45" width="3.83" height="2.21" fill="#84a7fc" opacity="0.75"/>
<rect x="142.52" y="86.12" width="5.79" height="2.19" fill="#6282ea" opacity="0.75"/>
<rect x="150.25" y="80.51" width="3.2" height="3.31" fill="#3b4cc0" opacity="0.75"/>
<rect x="148.79" y="80.11" width="2.58" height="3.14" fill="#3b4cc0" opacity="0.75"/>
<rect x="173.89" y="99.58" width="3.79" height="3.75" fill="#4e68d8" opacity="0.75"/>
<rect x="165.05" y="101.05" width="2.19" height="2.68" fill="#6282ea" opacity="0.75"/>
<rect x="161.44" y="88.27" width="2.34" height="4.35" fill="#84a7fc" opacity="0.75"/>
<rect x="157.12" y="88.32" width="2.64" height="4.18" fill="#3b4cc0" opacity="0.75"/>
<rect x="133.39" y="62.77" width="4.19" height="3.76" fill="#84a7fc" opacity="0.75"/>
<rect x="187.76" y="111.24" width="5.72" height="2" fill="#4e68d8" opacity="0.75"/>
<rect x="143.17" y="71.52" width="5.49" height="3.1" fill="#84a7fc" opacity="0.75"/>
<rect x="172.44" y="101.13" width="3.61" height="3.22" fill="#6282ea" opacity="0.75"/>
<rect x="183.24" y="108.81" width="5.41" height="1.9" fill="#4e68d8" opacity="0.75"/>
<rect x="175.78" y="110.64" width="4.45" height="2.33" fill="#3b4cc0" opacity="0.75"/>
<rect x="181.98" y="103.17" width="4.04" height="3.32" fill="#4e68d8" opacity="0.75"/>
<rect x="160.48" y="92.8" width="3.93" height="2.38" fill="#6282ea" opacity="0.75"/>
<rect x="119.24" y="65.98" width="3.56" height="4.36" fill="#84a7fc" opacity="0.75"/>
<rect x="142.43" y="71.84" width="3.61" height="2.35" fill="#4e68d8" opacity="0.75"/>
<rect x="183.7" y="113.6" width="5.09" height="2.1" fill="#6282ea" opacity="0.75"/>
<rect x="129.92" y="58.48" width="5.45" height="3.67" fill="#6282ea" opacity="0.75"/>
<rect x="179.02" y="109.69" width="3.68" height="1.59" fill="#84a7fc" opacity="0.75"/>
<rect x="146.78" y="84.21" width="4.63" height="4.31" fill="#4e68d8" opacity="0.75"/>
<rect x="185.69" y="121.02" width="2.54" height="1.54" fill="#4e68d8" opacity="0.75"/>
<rect x="162.48" y="92.36" width="5.08" height="4.21" fill="#3b4cc0" opacity="0.75"/>
<rect x="135.19" y="69.08" width="2.07" height="3.77" fill="#3b4cc0" opacity="0.75"/>
<rect x="119.88" y="68.32" width="4.12" height="3.35" fill="#6282ea" opacity="0.75"/>
<rect x="192.85" y="126.68" width="2.01" height="4.05" fill="#3b4cc0" opacity="0.75"/>
<rect x="118.14" y="61.59" width="4.18" height="2.37" fill="#84a7fc" opacity="0.75"/>
<rect x="172.7" y="99.77" width="2.83" height="2.06" fill="#84a7fc" opacity="0.75"/>
<rect x="178.67" y="108.22" width="5.93" height="3.34" fill="#3b4cc0" opacity="0.75"/>
<rect x="186.97" y="133.1" width="2.41" height="2.6" fill="#8db0fe" opacity="0.75"/>
<rect x="147.3" y="100.66" width="3.98" height="3.23" fill="#8db0fe" opacity="0.75"/>
<rect x="130.1" y="89.97" width="4.77" height="3.3" fill="#a3c2fe" opacity="0.75"/>
<rect x="158.04" y="107.21" width="4.44" height="3.45" fill="#4e68d8" opacity="0.75"/>
<rect x="191.6" y="132.44" width="4.87" height="1.59" fill="#6a8bef" opacity="0.75"/>
<rect x="146.66" y="103.76" width="3.3" height="1.78" fill="#a3c2fe" opacity="0.75"/>
<rect x="172.74" y="111.08" width="4.49" height="3.76" fill="#8db0fe" opacity="0.75"/>
<rect x="144.73" y="97.96" width="3.65" height="1.56" fill="#6a8bef" opacity="0.75"/>
<rect x="191.93" y="137.97" width="4.08" height="3.83" fill="#4e68d8" opacity="0.75"/>
<rect x="169.42" y="119.36" width="2.67" height="4.34" fill="#8db0fe" opacity="0.75"/>
<rect x="171.82" y="118" width="4.62" height="3.29" fill="#a3c2fe" opacity="0.75"/>
<rect x="137.66" y="89.18" width="3.21" height="2.73" fill="#6a8bef" opacity="0.75"/>
<rect x="183.53" y="122.67" width="3.11" height="1.53" fill="#6a8bef" opacity="0.75"/>
<rect x="129.93" y="88.55" width="5.13" height="3.48" fill="#8db0fe" opacity="0.75"/>
<rect x="135.14" y="89" width="5.93" height="2.65" fill="#4e68d8" opacity="0.75"/>
<rect x="132.78" y="97.87" width="5.18" height="2.36" fill="#a3c2fe" opacity="0.75"/>
<rect x="151.71" y="99.84" width="3.89" height="2.96" fill="#4e68d8" opacity="0.75"/>
<rect x="131.48" y="90.21" width="3.92" height="2.02" fill="#6a8bef" opacity="0.75"/>
<rect x="138.6" y="98.92" width="3.78" height="2.22" fill="#8db0fe" opacity="0.75"/>
<rect x="195.24" y="133.66" width="2.44" height="4.33" fill="#4e68d8" opacity="0.75"/>
<rect x="142.2" y="93.32" width="5.46" height="2.14" fill="#4e68d8" opacity="0.75"/>
<rect x="159.64" y="110.8" width="5.78" height="3.86" fill="#6a8bef" opacity="0.75"/>
<rect x="147.93" y="95.35" width="4.65" height="2.58" fill="#4e68d8" opacity="0.75"/>
<rect x="172.19" y="128.65" width="4.66" height="1.92" fill="#8db0fe" opacity="0.75"/>
<rect x="148.22" y="107.19" width="3.37" height="3.51" fill="#4e68d8" opacity="0.75"/>
<rect x="169.13" y="111.19" width="4.19" height="2.66" fill="#8db0fe" opacity="0.75"/>
<rect x="157.81" y="107.3" width="5.55" height="3.49" fill="#6a8bef" opacity="0.75"/>
<rect x="145.86" y="100.26" width="5.87" height="4.11" fill="#a3c2fe" opacity="0.75"/>
<rect x="176.4" y="117.53" width="3.79" height="3" fill="#8db0fe" opacity="0.75"/>
<rect x="143.37" y="97.19" width="3.47" height="3.07" fill="#4e68d8" opacity="0.75"/>
<rect x="157.26" y="103.26" width="5.04" height="4.37" fill="#6a8bef" opacity="0.75"/>
<rect x="158.77" y="102.33" width="5.88" height="4.43" fill="#4e68d8" opacity="0.75"/>
<rect x="173.29" y="128.32" width="2.51" height="2.17" fill="#6a8bef" opacity="0.75"/>
<rect x="169.81" y="121.24" width="3.88" height="2.86" fill="#8db0fe" opacity="0.75"/>
<rect x="185.93" y="120.99" width="4.54" height="3.61" fill="#6a8bef" opacity="0.75"/>
<rect x="173.48" y="128.31" width="2.18" height="4.19" fill="#a3c2fe" opacity="0.75"/>
<rect x="148.1" y="107.8" width="3.92" height="2.28" fill="#4e68d8" opacity="0.75"/>
<rect x="179.74" y="132.55" width="3.69" height="2.39" fill="#4e68d8" opacity="0.75"/>
<rect x="176.55" y="130.5" width="5.17" height="2.19" fill="#4e68d8" opacity="0.75"/>
<rect x="197.66" y="136.05" width="2.52" height="1.69" fill="#a3c2fe" opacity="0.75"/>
<rect x="181.22" y="131.84" width="4.87" height="4.38" fill="#8db0fe" opacity="0.75"/>
<rect x="153.7" y="113.99" width="3.23" height="3.82" fill="#8db0fe" opacity="0.75"/>
<rect x="131.14" y="86.18" width="4.05" height="1.95" fill="#6a8bef" opacity="0.75"/>
<rect x="162.86" y="104.6" width="4.87" height="3.09" fill="#4e68d8" opacity="0.75"/>
<rect x="132.4" y="87.41" width="3.55" height="2.95" fill="#8db0fe" opacity="0.75"/>
<rect x="173.27" y="147.94" width="3.26" height="1.65" fill="#b9d0f9" opacity="0.75"/>
<rect x="170.16" y="148.56" width="2.13" height="4.23" fill="#84a7fc" opacity="0.75"/>
<rect x="146.97" y="129.46" width="5.23" height="3.62" fill="#a3c2fe" opacity="0.75"/>
<rect x="141.3" y="121.58" width="5.89" height="1.85" fill="#a3c2fe" opacity="0.75"/>
<rect x="181.22" y="159.71" width="4.88" height="2.66" fill="#84a7fc" opacity="0.75"/>
<rect x="170.17" y="148.45" width="2.52" height="2.08" fill="#b9d0f9" opacity="0.75"/>
<rect x="176.62" y="153.09" width="3.06" height="2.6" fill="#a3c2fe" opacity="0.75"/>
<rect x="172.13" y="150.4" width="4.27" height="4.24" fill="#6282ea" opacity="0.75"/>
<rect x="172.06" y="152.77" width="3.01" height="3.47" fill="#b9d0f9" opacity="0.75"/>
<rect x="176.08" y="148.2" width="3.44" height="1.69" fill="#6282ea" opacity="0.75"/>
<rect x="138.74" y="112" width="4.96" height="2.1" fill="#b9d0f9" opacity="0.75"/>
<rect x="146.36" y="119.7" width="4.17" height="4.28" fill="#6282ea" opacity="0.75"/>
<rect x="167.19" y="139.39" width="3.85" height="3.21" fill="#6282ea" opacity="0.75"/>
<rect x="175.25" y="151.45" width="3.43" height="2.17" fill="#6282ea" opacity="0.75"/>
<rect x="150" y="126.3" width="4.93" height="2.06" fill="#6282ea" opacity="0.75"/>
<rect x="179.06" y="157.55" width="5.82" height="3.03" fill="#84a7fc" opacity="0.75"/>
<rect x="147.92" y="123.4" width="3.68" height="3.04" fill="#b9d0f9" opacity="0.75"/>
<rect x="160.18" y="135.02" width="2.01" height="4.11" fill="#6282ea" opacity="0.75"/>
<rect x="143.66" y="120.14" width="4.17" height="2.72" fill="#84a7fc" opacity="0.75"/>
<rect x="160.55" y="134.11" width="4.04" height="3" fill="#84a7fc" opacity="0.75"/>
<rect x="152.54" y="131.56" width="3.41" height="3.57" fill="#b9d0f9" opacity="0.75"/>
<rect x="158.52" y="136.14" width="4.85" height="3.54" fill="#b9d0f9" opacity="0.75"/>
<rect x="167.07" y="149.14" width="2.02" height="3.56" fill="#a3c2fe" opacity="0.75"/>
<rect x="165.96" y="147.08" width="2.72" height="1.88" fill="#a3c2fe" opacity="0.75"/>
<rect x="137.16" y="111.36" width="2.5" height="1.57" fill="#84a7fc" opacity="0.75"/>
<rect x="140.77" y="117.16" width="2.72" height="3.33" fill="#84a7fc" opacity="0.75"/>
<rect x="156.46" y="129.68" width="3.01" height="2.2" fill="#6282ea" opacity="0.75"/>
<rect x="143.83" y="118.14" width="2.61" height="2.55" fill="#6282ea" opacity="0.75"/>
<rect x="151.55" y="134.53" width="4.32" height="4.44" fill="#84a7fc" opacity="0.75"/>
<rect x="150.71" y="128.9" width="3.08" height="4.21" fill="#6282ea" opacity="0.75"/>
<rect x="170.87" y="143.79" width="2.39" height="2.98" fill="#a3c2fe" opacity="0.75"/>
<rect x="148.83" y="128.57" width="5.68" height="4.33" fill="#b9d0f9" opacity="0.75"/>
<rect x="172.74" y="146.19" width="4.59" height="2.33" fill="#a3c2fe" opacity="0.75"/>
<rect x="157.92" y="133.96" width="4.87" height="3.69" fill="#a3c2fe" opacity="0.75"/>
<rect x="146.2" y="122.5" width="2.24" height="1.98" fill="#a3c2fe" opacity="0.75"/>
<rect x="182.15" y="158.8" width="2.64" height="3.55" fill="#a3c2fe" opacity="0.75"/>
<rect x="145.26" y="115.08" width="3.14" height="3.39" fill="#a3c2fe" opacity="0.75"/>
<rect x="144.47" y="118.72" width="3.17" height="3.63" fill="#6282ea" opacity="0.75"/>
<rect x="167.57" y="149.5" width="2.95" height="1.83" fill="#a3c2fe" opacity="0.75"/>
<rect x="168.33" y="147.31" width="2.01" height="1.65" fill="#b9d0f9" opacity="0.75"/>
<rect x="183.42" y="157.87" width="2.9" height="2.13" fill="#6282ea" opacity="0.75"/>
<rect x="143" y="116.47" width="4.35" height="3.9" fill="#84a7fc" opacity="0.75"/>
<rect x="156.21" y="134.36" width="2.17" height="4.43" fill="#6282ea" opacity="0.75"/>
<rect x="157.34" y="135.82" width="5.69" height="3.31" fill="#84a7fc" opacity="0.75"/>
<rect x="144.95" y="122.51" width="5.1" height="3.76" fill="#a3c2fe" opacity="0.75"/>
<rect x="155.54" y="77.24" width="4.31" height="1.99" fill="#f0f0f0" opacity="0.9"/>
<rect x="198.48" y="108.51" width="3.87" height="2.07" fill="#eeeeee" opacity="0.9"/>
<rect x="198.51" y="98.11" width="3.03" height="1.84" fill="#f0f0f0" opacity="0.9"/>
<rect x="167.9" y="92.45" width="1.77" height="3.31" fill="#eeeeee" opacity="0.9"/>
<rect x="194.46" y="92.51" width="1.8" height="2.32" fill="#e9e9ea" opacity="0.9"/>
<rect x="147.04" y="65.88" width="3.57" height="2.36" fill="#f0f0f0" opacity="0.9"/>
<rect x="133.4" y="30.8" width="2.08" height="2.03" fill="#eeeeee" opacity="0.9"/>
<rect x="150.05" y="35.12" width="4.27" height="2.63" fill="#aebff0" opacity="0.9"/>
<rect x="195.81" y="106.69" width="1.84" height="2.14" fill="#eeeeee" opacity="0.9"/>
<rect x="151.56" y="42.4" width="3.99" height="2.31" fill="#e9e9ea" opacity="0.9"/>
<rect x="142.79" y="38.47" width="3.13" height="2.36" fill="#f0f0f0" opacity="0.9"/>
<rect x="202.82" y="113.24" width="3.26" height="3.44" fill="#f0f0f0" opacity="0.9"/>
<rect x="139.63" y="72.91" width="3.68" height="1.75" fill="#e9e9ea" opacity="0.9"/>
<rect x="157.27" y="95.54" width="2.76" height="2.83" fill="#f0f0f0" opacity="0.9"/>
<rect x="152.02" y="85.81" width="2.93" height="2.91" fill="#aebff0" opacity="0.9"/>
<rect x="192.88" y="123.06" width="2.42" height="3.09" fill="#e9e9ea" opacity="0.9"/>
<rect x="142" y="65.7" width="3.89" height="2.97" fill="#aebff0" opacity="0.9"/>
<rect x="137.55" y="69.23" width="1.96" height="2.78" fill="#f0f0f0" opacity="0.9"/>
<rect x="140.54" y="67.07" width="1.61" height="2.93" fill="#f0f0f0" opacity="0.9"/>
<rect x="164.91" y="100.89" width="2.47" height="1.57" fill="#e9e9ea" opacity="0.9"/>
<rect x="141.68" y="75.66" width="3.4" height="2.54" fill="#e9e9ea" opacity="0.9"/>
<rect x="161.45" y="86.74" width="3.9" height="1.71" fill="#e9e9ea" opacity="0.9"/>
<rect x="180.81" y="113.97" width="4.32" height="3.26" fill="#e9e9ea" opacity="0.9"/>
<rect x="156.42" y="85.57" width="4.08" height="1.92" fill="#aebff0" opacity="0.9"/>
<rect x="150.86" y="102.99" width="3.34" height="2.63" fill="#e9e9ea" opacity="0.9"/>
<rect x="180.49" y="119.58" width="3.65" height="3.19" fill="#e9e9ea" opacity="0.9"/>
<rect x="172.79" y="114.53" width="2.48" height="2.16" fill="#eeeeee" opacity="0.9"/>
<rect x="149.45" y="107.8" width="4.37" height="2.22" fill="#aebff0" opacity="0.9"/>
<rect x="151.08" y="98.47" width="2.02" height="2.91" fill="#f0f0f0" opacity="0.9"/>
<rect x="174.68" y="122.96" width="2.99" height="2.44" fill="#f0f0f0" opacity="0.9"/>
<rect x="137.41" y="94.23" width="3.93" height="2.5" fill="#f0f0f0" opacity="0.9"/>
<rect x="177.19" y="126.31" width="1.83" height="2.05" fill="#e9e9ea" opacity="0.9"/>
<rect x="174.41" y="115.36" width="3.35" height="3.06" fill="#f0f0f0" opacity="0.9"/>
<rect x="173.92" y="126.91" width="2.46" height="1.75" fill="#e9e9ea" opacity="0.9"/>
<rect x="160.83" y="115.58" width="1.99" height="1.62" fill="#eeeeee" opacity="0.9"/>
<rect x="168.05" y="123.74" width="3.04" height="1.8" fill="#eeeeee" opacity="0.9"/>
<rect x="141.18" y="117.03" width="2.38" height="2.06" fill="#eeeeee" opacity="0.9"/>
<rect x="174.78" y="148.35" width="2.18" height="1.68" fill="#aebff0" opacity="0.9"/>
<rect x="153.23" y="136.19" width="3" height="1.55" fill="#e9e9ea" opacity="0.9"/>
<rect x="148.14" y="127.37" width="1.86" height="2.06" fill="#f0f0f0" opacity="0.9"/>
<rect x="162.21" y="139.11" width="4.19" height="2.9" fill="#f0f0f0" opacity="0.9"/>
<rect x="144.51" y="113.81" width="2.74" height="2.52" fill="#f0f0f0" opacity="0.9"/>
<rect x="166" y="140.82" width="4.32" height="1.84" fill="#e9e9ea" opacity="0.9"/>
<rect x="153.4" y="134.55" width="1.7" height="2.79" fill="#e9e9ea" opacity="0.9"/>
<rect x="176.16" y="155.91" width="1.65" height="2" fill="#eeeeee" opacity="0.9"/>
<rect x="148.1" y="118.28" width="1.5" height="3.34" fill="#f0f0f0" opacity="0.9"/>
<rect x="169.25" y="150.98" width="4.49" height="1.92" fill="#eeeeee" opacity="0.9"/>
<rect x="150.56" y="129.54" width="3.45" height="2.57" fill="#f0f0f0" opacity="0.9"/>
<polyline points="149.4,72.2 162.1,86.2 177.5,98.2 191.3,110.7 204,126.9" fill="none" stroke="#ededed" stroke-width="5" stroke-linejoin="round" opacity="0.85" stroke-linecap="round"/>
</g></g>
<polyline points="77.3,3.5 80.1,17.8 83,19 87.6,27.6 93.4,42.6 96.8,50.7 98.4,56.1 103,66.9 109.2,77.6 113.8,85.3 118.4,93 123,100.7 127.7,104.6 132.3,110.8 135.4,113.8 138.4,115.4 143,120 147.6,124.6 152.3,129.2 156.9,132.3 159.9,136.9 163,138.4 166.1,139.9 170.7,146.1 173.8,150.7 176.8,153.8 179.9,159.9 181.4,164.5 183,167.6 184.5,172.2 186.1,176.8 187.6,180 189.1,184 192.1,188.8 193.6,194.8 195.2,200.9 193.6,210 195.2,219.1 195,228.7 195.6,242.5 199.7,245 206.2,248.1 213.7,246.8 215,242.5 212.5,238.7 218.7,235.6 225,231.2 227.5,226.9 235,224.4 243.5,223.9 251.5,218.5 256.9,213.1 259.6,207.7 261,202.3 263.7,188.9 266.3,180.8 265,175.4 261,167.3 258.3,153.8 256.9,140.4 255.6,134 255,126 252.1,114.2 248.2,103.8 245.6,85.6 244.3,64.9 244.3,41.5 245.6,20.8 249.5,3.5" fill="none" stroke="#111" stroke-width="0.8" stroke-linejoin="round"/>
<polyline points="136.3,3.5 146.6,22 157,36.3 166.5,49.2 174.5,58.4 183.7,65.3 194.1,68.8 198.9,67.5 200.2,59.7 201.5,41.5 205.4,20.8 209.3,3.5" fill="none" stroke="#111" stroke-width="0.8" stroke-linejoin="round"/>
<polyline points="198.9,67.5 210.6,77.9 223.5,90.8 233.9,103.8 241.7,111.6 249.5,119.4 252.1,123.3 255,126" fill="none" stroke="#111" stroke-width="0.8" stroke-linejoin="round"/>
<line x1="42.3" y1="3.5" x2="35.7" y2="267.2" stroke="#c4c4c4" stroke-width="0.6"/>
<line x1="147.6" y1="3.5" x2="140.8" y2="267.2" stroke="#c4c4c4" stroke-width="0.6"/>
<line x1="252" y1="3.5" x2="244.6" y2="267.2" stroke="#c4c4c4" stroke-width="0.6"/>
<line x1="16.5" y1="101.9" x2="269.5" y2="109.3" stroke="#c4c4c4" stroke-width="0.6"/>
<polyline points="106.6,3.5 108.5,9.36 111.24,17.65 114.1,25.3 116.97,31.34 119.96,36.75 122.7,41.4 124.87,44.93 126.79,47.7 129,50.7 131.79,54.27 134.89,58.06 138,62 140.92,66.05 143.87,70.25 147.2,74.6 151.07,79.24 155.34,84.03 159.9,88.6 164.89,92.73 170.19,96.64 175.3,100.6 180.06,104.59 184.64,108.64 189.1,113.1 193.43,118.3 197.64,123.91 201.8,129.3 206.04,134.26 210.23,139 214,143.5 217.22,147.72 220.02,151.69 222.4,155.5 224.36,158.99 225.9,162.32 227,166 227.63,170.28 227.82,174.91 227.6,179.7 226.91,184.74 225.82,189.93 224.5,194.8 222.93,199.26 221.14,203.39 219.4,207 217.88,209.84 216.42,212.17 214.8,214.5 212.79,216.97 210.63,219.45 208.8,222.1 207.47,225.36 206.47,228.79 205.8,231.2" fill="none" stroke="#000" stroke-width="1.05" stroke-linejoin="round" stroke-dasharray="2.7,1.7"/>
<polyline points="228.7,3.5 228.04,5.14 227.1,7.69 226.1,11.7 225.06,17.92 223.97,25.59 223,33 222.13,39.84 221.38,46.41 221,51.9 221.14,55.71 221.66,58.43 222.3,61 222.8,63.27 223.43,65.39 224.8,68.8 227.34,74.45 230.62,81.39 233.9,88.2 236.95,94.42 240,100.51 243,106.4 246.22,112.61 249.39,118.61 251.6,122.8" fill="none" stroke="#000" stroke-width="1.05" stroke-linejoin="round" stroke-dasharray="2.7,1.7"/>
<circle cx="114.1" cy="25.3" r="1.4" fill="#fff" stroke="#000" stroke-width="0.75"/>
<circle cx="122.7" cy="41.4" r="1.4" fill="#fff" stroke="#000" stroke-width="0.75"/>
<circle cx="159.9" cy="88.6" r="1.4" fill="#fff" stroke="#000" stroke-width="0.75"/>
<circle cx="175.3" cy="100.6" r="1.4" fill="#fff" stroke="#000" stroke-width="0.75"/>
<circle cx="189.1" cy="113.1" r="1.4" fill="#fff" stroke="#000" stroke-width="0.75"/>
<circle cx="201.8" cy="129.3" r="1.4" fill="#fff" stroke="#000" stroke-width="0.75"/>
<circle cx="222.4" cy="155.5" r="1.4" fill="#fff" stroke="#000" stroke-width="0.75"/>
<circle cx="227" cy="166" r="1.4" fill="#fff" stroke="#000" stroke-width="0.75"/>
<circle cx="227.6" cy="179.7" r="1.4" fill="#fff" stroke="#000" stroke-width="0.75"/>
<circle cx="224.5" cy="194.8" r="1.4" fill="#fff" stroke="#000" stroke-width="0.75"/>
<circle cx="219.4" cy="207" r="1.4" fill="#fff" stroke="#000" stroke-width="0.75"/>
<circle cx="214.8" cy="214.5" r="1.4" fill="#fff" stroke="#000" stroke-width="0.75"/>
<circle cx="110.5" cy="14.5" r="1.4" fill="#fff" stroke="#000" stroke-width="0.75"/>
<circle cx="131" cy="53" r="1.4" fill="#fff" stroke="#000" stroke-width="0.75"/>
<circle cx="226.1" cy="11.7" r="1.4" fill="#fff" stroke="#000" stroke-width="0.75"/>
<circle cx="221" cy="51.9" r="1.4" fill="#fff" stroke="#000" stroke-width="0.75"/>
<circle cx="224.8" cy="68.8" r="1.4" fill="#fff" stroke="#000" stroke-width="0.75"/>
<circle cx="233.9" cy="88.2" r="1.4" fill="#fff" stroke="#000" stroke-width="0.75"/>
<circle cx="243" cy="106.4" r="1.4" fill="#fff" stroke="#000" stroke-width="0.75"/>
<circle cx="147.2" cy="74.6" r="2.4" fill="#000"/>
<circle cx="214" cy="143.5" r="2.4" fill="#000"/>
<circle cx="205.8" cy="231.2" r="2.4" fill="#000"/>
<circle cx="223" cy="33" r="2.4" fill="#000"/>
<circle cx="251.6" cy="122.8" r="2.4" fill="#000"/>
<circle cx="134.4" cy="70.8" r="1.8" fill="#fff" stroke="#8e0c10" stroke-width="1.3"/>
<text x="135.6" y="69" font-size="16" fill="#8e0c10" textLength="10.5" lengthAdjust="spacingAndGlyphs" font-weight="bold" font-style="italic" stroke="#8e0c10" stroke-width="0.6">V</text>
<text x="145.5" y="72.2" font-size="12.8" fill="#8e0c10" textLength="8.6" lengthAdjust="spacingAndGlyphs" font-weight="bold" font-style="italic" stroke="#8e0c10" stroke-width="0.5">D</text>
<circle cx="192.8" cy="110.3" r="1.8" fill="#fff" stroke="#4b108c" stroke-width="1.3"/>
<text x="194.9" y="107.3" font-size="16" fill="#4b108c" textLength="10.5" lengthAdjust="spacingAndGlyphs" font-weight="bold" font-style="italic" stroke="#4b108c" stroke-width="0.6">V</text>
<text x="204.5" y="110.3" font-size="12.8" fill="#4b108c" textLength="8.6" lengthAdjust="spacingAndGlyphs" font-weight="bold" font-style="italic" stroke="#4b108c" stroke-width="0.5">C</text>
<circle cx="221.7" cy="61" r="1.8" fill="#fff" stroke="#c9951c" stroke-width="1.3"/>
<text x="223" y="61" font-size="16" fill="#c9951c" textLength="10.5" lengthAdjust="spacingAndGlyphs" font-weight="bold" font-style="italic" stroke="#c9951c" stroke-width="0.6">V</text>
<text x="233.8" y="62.3" font-size="12.8" fill="#c9951c" textLength="8.6" lengthAdjust="spacingAndGlyphs" font-weight="bold" font-style="italic" stroke="#c9951c" stroke-width="0.5">E</text>
<circle cx="202.7" cy="179.1" r="1.8" fill="#fff" stroke="#2f4f5c" stroke-width="1.3"/>
<text x="203.4" y="178.2" font-size="16" fill="#2f4f5c" textLength="10.5" lengthAdjust="spacingAndGlyphs" font-weight="bold" font-style="italic" stroke="#2f4f5c" stroke-width="0.6">V</text>
<text x="214.5" y="180.3" font-size="12.8" fill="#2f4f5c" textLength="8.6" lengthAdjust="spacingAndGlyphs" font-weight="bold" font-style="italic" stroke="#2f4f5c" stroke-width="0.5">B</text>
<circle cx="221.8" cy="199.4" r="1.8" fill="#fff" stroke="#1c7a2c" stroke-width="1.3"/>
<text x="222.9" y="199.4" font-size="16" fill="#1c7a2c" textLength="10.5" lengthAdjust="spacingAndGlyphs" font-weight="bold" font-style="italic" stroke="#1c7a2c" stroke-width="0.6">V</text>
<text x="232.6" y="201" font-size="12.8" fill="#1c7a2c" textLength="8.6" lengthAdjust="spacingAndGlyphs" font-weight="bold" font-style="italic" stroke="#1c7a2c" stroke-width="0.5">A</text>
<text x="33" y="101.8" font-size="9.6" fill="#222" textLength="48.2" lengthAdjust="spacingAndGlyphs">Centerline</text>
<line x1="33" y1="115.2" x2="49.8" y2="115.2" stroke="#111" stroke-width="0.9" stroke-dasharray="2.6,1.6"/>
<circle cx="42" cy="115.2" r="1.4" fill="#fff" stroke="#111" stroke-width="0.7"/>
<line x1="33" y1="128.8" x2="49.8" y2="128.8" stroke="#111" stroke-width="0.9" stroke-dasharray="2.6,1.6"/>
<circle cx="42" cy="128.8" r="2.1" fill="#000"/>
<text x="59.7" y="118.6" font-size="9.6" fill="#222" textLength="53.3" lengthAdjust="spacingAndGlyphs">every 1 km</text>
<text x="59.7" y="132" font-size="9.6" fill="#222" textLength="53.3" lengthAdjust="spacingAndGlyphs">every 5 km</text>
<rect x="221.2" y="240" width="43.7" height="22.4" fill="#fff" opacity="0.7"/>
<rect x="223.1" y="241.2" width="39.3" height="2.6" fill="#000"/>
<text x="225.6" y="257.5" font-size="13.6" fill="#111" textLength="34.3" lengthAdjust="spacingAndGlyphs">2 km</text>
<rect x="54.4" y="142.4" width="107.6" height="96.2" fill="#fff"/>
<polyline points="59.25,173.55 110.61,174.57 134.24,187.31 141.43,193.48 148.21,193.89 153.35,184.85 157.25,193.06" fill="none" stroke="#9b2020" stroke-width="1" stroke-linejoin="round"/>
<polyline points="59.25,173.55 110.61,179.09 132.19,183.2 157.25,189.37" fill="none" stroke="#b03a3a" stroke-width="0.8" stroke-linejoin="round" stroke-dasharray="3,2"/>
<polyline points="59.25,186.49 110.61,179.5 148.21,209.5 153.76,193.89 157.25,196.56" fill="none" stroke="#7a36c8" stroke-width="1" stroke-linejoin="round"/>
<polyline points="59.25,186.49 110.61,181.97 132.19,196.56 144.51,199.23 157.25,200.67" fill="none" stroke="#9c6ad8" stroke-width="0.8" stroke-linejoin="round" stroke-dasharray="3,2"/>
<polyline points="59.25,215.67 110.61,216.08 140.4,217.1 148.62,215.25 157.25,213.2" fill="none" stroke="#c89520" stroke-width="1" stroke-linejoin="round"/>
<polyline points="59.25,215.67 110.61,215.67 140.4,216.49 157.25,221.83" fill="none" stroke="#d0a040" stroke-width="0.8" stroke-linejoin="round" stroke-dasharray="3,2"/>
<polyline points="59.25,223.47 110.61,225.32 134.24,235.6 140.4,236.62 157.25,235.8" fill="none" stroke="#2f5050" stroke-width="1" stroke-linejoin="round"/>
<polyline points="59.25,223.47 110.61,217.1 157.25,236.62" fill="none" stroke="#6a8a8a" stroke-width="0.8" stroke-linejoin="round" stroke-dasharray="3,2"/>
<polyline points="59.25,227.17 110.61,236.62 136.3,232.93 146.57,236.21 157.25,235.39" fill="none" stroke="#228b22" stroke-width="1" stroke-linejoin="round"/>
<polyline points="59.25,227.17 110.61,232.51 132.19,232.1 157.25,234.57" fill="none" stroke="#5aa85a" stroke-width="0.8" stroke-linejoin="round" stroke-dasharray="3,2"/>
<rect x="56.7" y="145.9" width="104" height="23.3" rx="2" fill="#fff" stroke="#d0d0d0" stroke-width="0.7" opacity="0.9"/>
<line x1="59.1" y1="151.7" x2="71.9" y2="151.7" stroke="#444" stroke-width="1"/>
<line x1="59.1" y1="162.2" x2="71.9" y2="162.2" stroke="#444" stroke-width="1" stroke-dasharray="2.5,1.8"/>
<text x="76.6" y="155" font-size="8.8" fill="#333" textLength="78.5" lengthAdjust="spacingAndGlyphs">ITS LIVE (post-1990)</text>
<text x="76.9" y="165.7" font-size="8.8" fill="#333" textLength="80.8" lengthAdjust="spacingAndGlyphs">Anderson (post-1991)</text>
<rect x="54.4" y="142.4" width="107.6" height="96.2" fill="none" stroke="#ff3b3b" stroke-width="0.9"/>
<line x1="52.4" y1="238.5" x2="56.4" y2="238.5" stroke="#ff3b3b" stroke-width="1.1"/>
<line x1="160" y1="238.5" x2="164" y2="238.5" stroke="#ff3b3b" stroke-width="1.1"/>
<text x="52.3" y="242.1" font-size="10.4" text-anchor="end" fill="#ff3b3b" textLength="6.1" lengthAdjust="spacingAndGlyphs">0</text>
<line x1="52.4" y1="210.2" x2="56.4" y2="210.2" stroke="#ff3b3b" stroke-width="1.1"/>
<line x1="160" y1="210.2" x2="164" y2="210.2" stroke="#ff3b3b" stroke-width="1.1"/>
<text x="52.3" y="213.8" font-size="10.4" text-anchor="end" fill="#ff3b3b" textLength="12.2" lengthAdjust="spacingAndGlyphs">50</text>
<line x1="52.4" y1="181.9" x2="56.4" y2="181.9" stroke="#ff3b3b" stroke-width="1.1"/>
<line x1="160" y1="181.9" x2="164" y2="181.9" stroke="#ff3b3b" stroke-width="1.1"/>
<text x="52.3" y="185.5" font-size="10.4" text-anchor="end" fill="#ff3b3b" textLength="18.3" lengthAdjust="spacingAndGlyphs">100</text>
<line x1="52.4" y1="153.6" x2="56.4" y2="153.6" stroke="#ff3b3b" stroke-width="1.1"/>
<line x1="160" y1="153.6" x2="164" y2="153.6" stroke="#ff3b3b" stroke-width="1.1"/>
<text x="52.3" y="157.2" font-size="10.4" text-anchor="end" fill="#ff3b3b" textLength="18.3" lengthAdjust="spacingAndGlyphs">150</text>
<line x1="59.6" y1="236.1" x2="59.6" y2="239.6" stroke="#ff3b3b" stroke-width="1.1"/>
<text x="68.1" y="244.5" font-size="10.4" text-anchor="end" fill="#ff3b3b" textLength="24.5" lengthAdjust="spacingAndGlyphs" transform="rotate(-58 68.1 244.5)">1960</text>
<line x1="110.6" y1="236.1" x2="110.6" y2="239.6" stroke="#ff3b3b" stroke-width="1.1"/>
<text x="119.1" y="244.5" font-size="10.4" text-anchor="end" fill="#ff3b3b" textLength="24.5" lengthAdjust="spacingAndGlyphs" transform="rotate(-58 119.1 244.5)">1990</text>
<line x1="134.4" y1="236.1" x2="134.4" y2="239.6" stroke="#ff3b3b" stroke-width="1.1"/>
<text x="142.9" y="244.5" font-size="10.4" text-anchor="end" fill="#ff3b3b" textLength="24.5" lengthAdjust="spacingAndGlyphs" transform="rotate(-58 142.9 244.5)">2004</text>
<line x1="156.5" y1="236.1" x2="156.5" y2="239.6" stroke="#ff3b3b" stroke-width="1.1"/>
<text x="165" y="244.5" font-size="10.4" text-anchor="end" fill="#ff3b3b" textLength="24.5" lengthAdjust="spacingAndGlyphs" transform="rotate(-58 165 244.5)">2017</text>
<line x1="144.6" y1="236.6" x2="144.6" y2="238.6" stroke="#ff3b3b" stroke-width="0.8"/>
<line x1="149.7" y1="236.6" x2="149.7" y2="238.6" stroke="#ff3b3b" stroke-width="0.8"/>
<line x1="153.1" y1="236.6" x2="153.1" y2="238.6" stroke="#ff3b3b" stroke-width="0.8"/>
<text x="29.5" y="190" font-size="10.6" text-anchor="middle" fill="#ff3b3b" transform="rotate(-90 29.5 190)">Velocity (m yr<tspan font-size="7.5" dy="-3.8">−1</tspan><tspan dy="3.8">)</tspan></text>
</g>
<rect x="16.5" y="3.5" width="253" height="263.7" fill="none" stroke="#6a6a6a" stroke-width="1"/>
<text x="25.8" y="24" font-size="17.5" font-weight="bold">a</text>
<text x="13.2" y="101.4" font-size="8.2" text-anchor="middle" fill="#999" textLength="29.2" lengthAdjust="spacingAndGlyphs" transform="rotate(-90 13.2 101.4)">61.5° N</text>
<text x="18.2" y="276.9" font-size="8.2" fill="#999" textLength="35.2" lengthAdjust="spacingAndGlyphs">143.1° W</text>
<text x="122.9" y="276.9" font-size="8.2" fill="#999" textLength="35.2" lengthAdjust="spacingAndGlyphs">143.0° W</text>
<text x="227.5" y="276.9" font-size="8.2" fill="#999" textLength="34.7" lengthAdjust="spacingAndGlyphs">142.9° W</text>
<linearGradient id="cwg" x1="0" y1="1" x2="0" y2="0"><stop offset="0.0000" stop-color="#3b4cc0"/><stop offset="0.0625" stop-color="#4e68d8"/><stop offset="0.1250" stop-color="#6282ea"/><stop offset="0.1875" stop-color="#779af7"/><stop offset="0.2500" stop-color="#8db0fe"/><stop offset="0.3125" stop-color="#a3c2fe"/><stop offset="0.3750" stop-color="#b9d0f9"/><stop offset="0.4375" stop-color="#ccd9ed"/><stop offset="0.5000" stop-color="#dddcdc"/><stop offset="0.5625" stop-color="#ecd3c5"/><stop offset="0.6250" stop-color="#f5c4ac"/><stop offset="0.6875" stop-color="#f7b093"/><stop offset="0.7500" stop-color="#f4987a"/><stop offset="0.8125" stop-color="#eb7d62"/><stop offset="0.8750" stop-color="#dd5f4b"/><stop offset="0.9375" stop-color="#ca3b37"/><stop offset="1.0000" stop-color="#b40426"/></linearGradient>
<rect x="275.8" y="52.9" width="11.4" height="215.3" fill="url(#cwg)"/>
<line x1="287.2" y1="53.4" x2="289.5" y2="53.4" stroke="#555" stroke-width="0.8"/>
<text x="291.5" y="57.7" font-size="11.6" fill="#222" textLength="13.3" lengthAdjust="spacingAndGlyphs">40</text>
<line x1="287.2" y1="80.25" x2="289.5" y2="80.25" stroke="#555" stroke-width="0.8"/>
<text x="291.5" y="84.55" font-size="11.6" fill="#222" textLength="13.3" lengthAdjust="spacingAndGlyphs">30</text>
<line x1="287.2" y1="107.1" x2="289.5" y2="107.1" stroke="#555" stroke-width="0.8"/>
<text x="291.5" y="111.4" font-size="11.6" fill="#222" textLength="13.3" lengthAdjust="spacingAndGlyphs">20</text>
<line x1="287.2" y1="133.95" x2="289.5" y2="133.95" stroke="#555" stroke-width="0.8"/>
<text x="291.5" y="138.25" font-size="11.6" fill="#222" textLength="13.3" lengthAdjust="spacingAndGlyphs">10</text>
<line x1="287.2" y1="160.8" x2="289.5" y2="160.8" stroke="#555" stroke-width="0.8"/>
<text x="291.5" y="165.1" font-size="11.6" fill="#222" textLength="6.7" lengthAdjust="spacingAndGlyphs">0</text>
<line x1="287.2" y1="187.65" x2="289.5" y2="187.65" stroke="#555" stroke-width="0.8"/>
<text x="291" y="191.95" font-size="11.6" fill="#222" textLength="18.5" lengthAdjust="spacingAndGlyphs">-10</text>
<line x1="287.2" y1="214.5" x2="289.5" y2="214.5" stroke="#555" stroke-width="0.8"/>
<text x="291" y="218.8" font-size="11.6" fill="#222" textLength="18.5" lengthAdjust="spacingAndGlyphs">-20</text>
<line x1="287.2" y1="241.35" x2="289.5" y2="241.35" stroke="#555" stroke-width="0.8"/>
<text x="291" y="245.65" font-size="11.6" fill="#222" textLength="18.5" lengthAdjust="spacingAndGlyphs">-30</text>
<line x1="287.2" y1="268.2" x2="289.5" y2="268.2" stroke="#555" stroke-width="0.8"/>
<text x="291" y="272.5" font-size="11.6" fill="#222" textLength="18.5" lengthAdjust="spacingAndGlyphs">-40</text>
<text x="275.2" y="9.9" font-size="12.7" fill="#222" textLength="49" lengthAdjust="spacingAndGlyphs">Velocity</text>
<text x="276.6" y="24.6" font-size="12.7" fill="#222" textLength="45.5" lengthAdjust="spacingAndGlyphs">change</text>
<text x="274.6" y="41.7" font-size="12.7" fill="#222" textLength="35.5" lengthAdjust="spacingAndGlyphs">(m yr</text>
<text x="311" y="35.5" font-size="8.6" fill="#222" textLength="7.2" lengthAdjust="spacingAndGlyphs">-1</text>
<text x="318.6" y="41.7" font-size="12.7" fill="#222" textLength="4.6" lengthAdjust="spacingAndGlyphs">)</text>
<line x1="376.5" y1="2.5" x2="376.5" y2="121.5" stroke="#7f7f7f" stroke-width="1"/>
<line x1="615.5" y1="2.5" x2="615.5" y2="121.5" stroke="#7f7f7f" stroke-width="1"/>
<line x1="376.5" y1="2.5" x2="615.5" y2="2.5" stroke="#7f7f7f" stroke-width="1"/>
<line x1="376.5" y1="121.5" x2="615.5" y2="121.5" stroke="#7f7f7f" stroke-width="1"/>
<line x1="374.5" y1="113.3" x2="378.5" y2="113.3" stroke="#222" stroke-width="0.9"/>
<line x1="374.5" y1="98.6" x2="378.5" y2="98.6" stroke="#222" stroke-width="0.9"/>
<line x1="374.5" y1="83.9" x2="378.5" y2="83.9" stroke="#222" stroke-width="0.9"/>
<line x1="374.5" y1="69.2" x2="378.5" y2="69.2" stroke="#222" stroke-width="0.9"/>
<line x1="374.5" y1="54.5" x2="378.5" y2="54.5" stroke="#222" stroke-width="0.9"/>
<line x1="374.5" y1="39.8" x2="378.5" y2="39.8" stroke="#222" stroke-width="0.9"/>
<line x1="374.5" y1="25.1" x2="378.5" y2="25.1" stroke="#222" stroke-width="0.9"/>
<line x1="374.5" y1="10.4" x2="378.5" y2="10.4" stroke="#222" stroke-width="0.9"/>
<line x1="613.5" y1="113.3" x2="617.5" y2="113.3" stroke="#222" stroke-width="0.9"/>
<line x1="613.5" y1="98.6" x2="617.5" y2="98.6" stroke="#222" stroke-width="0.9"/>
<line x1="613.5" y1="83.9" x2="617.5" y2="83.9" stroke="#222" stroke-width="0.9"/>
<line x1="613.5" y1="69.2" x2="617.5" y2="69.2" stroke="#222" stroke-width="0.9"/>
<line x1="613.5" y1="54.5" x2="617.5" y2="54.5" stroke="#222" stroke-width="0.9"/>
<line x1="613.5" y1="39.8" x2="617.5" y2="39.8" stroke="#222" stroke-width="0.9"/>
<line x1="613.5" y1="25.1" x2="617.5" y2="25.1" stroke="#222" stroke-width="0.9"/>
<line x1="613.5" y1="10.4" x2="617.5" y2="10.4" stroke="#222" stroke-width="0.9"/>
<line x1="424.3" y1="0.5" x2="424.3" y2="4.5" stroke="#222" stroke-width="0.9"/>
<line x1="424.3" y1="119.5" x2="424.3" y2="123.5" stroke="#222" stroke-width="0.9"/>
<line x1="472.1" y1="0.5" x2="472.1" y2="4.5" stroke="#222" stroke-width="0.9"/>
<line x1="472.1" y1="119.5" x2="472.1" y2="123.5" stroke="#222" stroke-width="0.9"/>
<line x1="519.9" y1="0.5" x2="519.9" y2="4.5" stroke="#222" stroke-width="0.9"/>
<line x1="519.9" y1="119.5" x2="519.9" y2="123.5" stroke="#222" stroke-width="0.9"/>
<line x1="567.7" y1="0.5" x2="567.7" y2="4.5" stroke="#222" stroke-width="0.9"/>
<line x1="567.7" y1="119.5" x2="567.7" y2="123.5" stroke="#222" stroke-width="0.9"/>
<text x="372" y="117.2" font-size="11" text-anchor="end" fill="#222" textLength="18.6" lengthAdjust="spacingAndGlyphs">200</text>
<text x="372" y="87.8" font-size="11" text-anchor="end" fill="#222" textLength="18.6" lengthAdjust="spacingAndGlyphs">400</text>
<text x="372" y="58.4" font-size="11" text-anchor="end" fill="#222" textLength="18.6" lengthAdjust="spacingAndGlyphs">600</text>
<text x="372" y="29" font-size="11" text-anchor="end" fill="#222" textLength="18.6" lengthAdjust="spacingAndGlyphs">800</text>
<text x="382.8" y="22" font-size="16.5" font-weight="bold">b</text>
<text x="347.5" y="70" font-size="12" text-anchor="middle" fill="#222" textLength="87.5" lengthAdjust="spacingAndGlyphs" transform="rotate(-90 347.5 70)">Elevation (m)</text>
<polyline points="376.3,78.5 385.5,83.2 396.6,88.8 404.9,94.3 411.8,97.1 421.5,97.6 432.6,99.3 441,95.7 452,90.2 460.4,83.2 465.9,77.7 471.5,75.7 479.8,77.7 488.1,80.4 496.4,81.3 507.5,80.4 520.3,78.3 529.7,78.9 540.5,80.2 554,81.8 564.8,83.7 572.9,87.8 583.7,94.5 594.5,101.3 605.3,107.5 615.6,111.3" fill="none" stroke="#000" stroke-width="0.9" stroke-linejoin="round"/>
<polyline points="376.3,69.3 380.65,68.52 386.9,67.4 393.78,66.15 400,65 405.24,64 410.17,63.04 415.02,62.06 420,61 425.23,59.81 430.56,58.53 435.87,57.24 441,56 445.94,54.83 450.75,53.69 455.44,52.58 460,51.5 464.4,50.43 468.64,49.39 472.82,48.4 477,47.5 481.59,46.67 486.41,45.9 490.71,45.25 493.7,44.8" fill="none" stroke="#fdc77f" stroke-width="0.9" stroke-linejoin="round"/>
<polyline points="376.3,69 380.65,68.18 386.9,67 393.78,65.7 400,64.5 405.24,63.49 410.17,62.54 415.02,61.57 420,60.5 425.23,59.29 430.56,57.98 435.87,56.64 441,55.3 445.94,53.96 450.75,52.61 455.44,51.27 460,50 464.25,48.83 468.25,47.73 472.38,46.64 477,45.5 482.23,44.29 487.88,43.06 493.83,41.79 500,40.5 506.47,39.17 513.25,37.79 520.16,36.42 527,35.1 533.75,33.83 540.5,32.59 547.25,31.39 554,30.2 560.57,29.05 567.02,27.93 573.72,26.82 581,25.7 589.93,24.45 599.99,23.12 609.2,21.93 615.6,21.1" fill="none" stroke="#fbe48f" stroke-width="0.9" stroke-linejoin="round"/>
<polyline points="376.3,70.7 380.65,69.93 386.9,68.82 393.78,67.6 400,66.5 405.43,65.54 410.69,64.61 415.61,63.75 420,63 423.44,62.51 426.15,62.22 428.93,61.82 432.6,61 437.52,59.6 443.21,57.8 449.2,55.85 455,54 460.5,52.23 465.96,50.44 471.44,48.73 477,47.2 482.59,45.93 488.19,44.85 493.95,43.82 500,42.7 506.47,41.45 513.25,40.14 520.16,38.81 527,37.5 533.75,36.2 540.5,34.9 547.25,33.62 554,32.4 560.57,31.26 567.02,30.18 573.72,29.11 581,28 589.93,26.72 599.99,25.32 609.2,24.07 615.6,23.2" fill="none" stroke="#62c462" stroke-width="0.9" stroke-linejoin="round"/>
<polyline points="376.3,78.5 378.67,78.54 382.04,78.59 385.97,78.61 390,78.5 394.27,78.24 398.94,77.88 403.56,77.45 407.7,77 411.08,76.59 413.99,76.17 416.83,75.67 420,75 423.53,74.13 427.24,73.11 431.18,71.96 435.4,70.7 440.01,69.25 444.96,67.64 450.03,66 455,64.5 459.67,63.22 464.21,62.08 468.95,60.91 474.2,59.6 480.16,58.06 486.61,56.37 493.31,54.65 500,53 506.67,51.45 513.42,49.93 520.22,48.45 527,47 533.75,45.58 540.5,44.19 547.25,42.83 554,41.5 560.57,40.26 567.02,39.09 573.72,37.88 581,36.5 589.93,34.73 599.99,32.69 609.2,30.8 615.6,29.5" fill="none" stroke="#2f9a8c" stroke-width="0.9" stroke-linejoin="round"/>
<polyline points="376.3,78.3 378.67,78.32 382.04,78.36 385.97,78.34 390,78.2 394.27,77.9 398.94,77.48 403.56,77 407.7,76.5 411.08,76.03 413.99,75.56 416.83,75.01 420,74.3 423.53,73.41 427.24,72.39 431.18,71.24 435.4,70 440.01,68.6 444.96,67.06 450.03,65.48 455,64 459.67,62.69 464.21,61.48 468.95,60.23 474.2,58.8 480.16,57.1 486.61,55.23 493.31,53.32 500,51.5 506.67,49.8 513.42,48.14 520.22,46.54 527,45 533.75,43.55 540.5,42.19 547.25,40.85 554,39.5 560.57,38.15 567.02,36.81 573.72,35.45 581,34 589.93,32.29 599.99,30.41 609.2,28.69 615.6,27.5" fill="none" stroke="#2a6cae" stroke-width="0.9" stroke-linejoin="round"/>
<polyline points="376.3,78.6 378.67,78.73 382.04,78.91 385.97,79.09 390,79.2 394.27,79.25 398.94,79.26 403.56,79.2 407.7,79 411.08,78.66 413.99,78.21 416.83,77.65 420,77 423.53,76.29 427.24,75.5 431.18,74.59 435.4,73.5 440.01,72.15 444.96,70.6 450.03,69 455,67.5 459.67,66.22 464.21,65.04 468.95,63.82 474.2,62.4 480.16,60.68 486.61,58.76 493.31,56.81 500,55 506.67,53.39 513.42,51.88 520.22,50.43 527,49 533.75,47.59 540.5,46.22 547.25,44.86 554,43.5 560.57,42.16 567.02,40.84 573.72,39.47 581,38 589.93,36.21 599.99,34.21 609.2,32.37 615.6,31.1" fill="none" stroke="#3b2a8e" stroke-width="0.9" stroke-linejoin="round"/>
<rect x="623.6" y="8.7" width="55.4" height="104" rx="4" ry="4" fill="#fff" stroke="#999" stroke-width="1"/>
<line x1="626.2" y1="17.6" x2="644" y2="17.6" stroke="#fdc77f" stroke-width="1.6"/>
<text x="648" y="21.7" font-size="11.6" fill="#222" textLength="27" lengthAdjust="spacingAndGlyphs">1938</text>
<line x1="626.2" y1="32" x2="644" y2="32" stroke="#fbe48f" stroke-width="1.6"/>
<text x="648" y="36.1" font-size="11.6" fill="#222" textLength="27" lengthAdjust="spacingAndGlyphs">1957</text>
<line x1="626.2" y1="46.4" x2="644" y2="46.4" stroke="#62c462" stroke-width="1.6"/>
<text x="648" y="50.5" font-size="11.6" fill="#222" textLength="27" lengthAdjust="spacingAndGlyphs">1978</text>
<line x1="626.2" y1="60.8" x2="644" y2="60.8" stroke="#2f9a8c" stroke-width="1.6"/>
<text x="648" y="64.9" font-size="11.6" fill="#222" textLength="27" lengthAdjust="spacingAndGlyphs">2004</text>
<line x1="626.2" y1="75.4" x2="644" y2="75.4" stroke="#2a6cae" stroke-width="1.6"/>
<text x="648" y="79.5" font-size="11.6" fill="#222" textLength="27" lengthAdjust="spacingAndGlyphs">2012</text>
<line x1="626.2" y1="89.8" x2="644" y2="89.8" stroke="#3b2a8e" stroke-width="1.6"/>
<text x="648" y="93.9" font-size="11.6" fill="#222" textLength="27" lengthAdjust="spacingAndGlyphs">2023</text>
<line x1="626.2" y1="104.2" x2="644" y2="104.2" stroke="#000" stroke-width="1.6"/>
<text x="648" y="108.3" font-size="11.6" fill="#222" textLength="19.6" lengthAdjust="spacingAndGlyphs">Bed</text>
<line x1="376.5" y1="131.5" x2="376.5" y2="154.5" stroke="#7f7f7f" stroke-width="1"/>
<line x1="615.5" y1="131.5" x2="615.5" y2="154.5" stroke="#7f7f7f" stroke-width="1"/>
<line x1="376.5" y1="131.5" x2="615.5" y2="131.5" stroke="#7f7f7f" stroke-width="1"/>
<line x1="376.5" y1="154.5" x2="615.5" y2="154.5" stroke="#7f7f7f" stroke-width="1"/>
<line x1="374.5" y1="131.4" x2="378.5" y2="131.4" stroke="#222" stroke-width="0.9"/>
<line x1="374.5" y1="141.3" x2="378.5" y2="141.3" stroke="#222" stroke-width="0.9"/>
<line x1="374.5" y1="154.7" x2="378.5" y2="154.7" stroke="#222" stroke-width="0.9"/>
<line x1="613.5" y1="130.8" x2="617.5" y2="130.8" stroke="#222" stroke-width="0.9"/>
<line x1="613.5" y1="142.8" x2="617.5" y2="142.8" stroke="#222" stroke-width="0.9"/>
<line x1="613.5" y1="155.2" x2="617.5" y2="155.2" stroke="#222" stroke-width="0.9"/>
<line x1="424.3" y1="129.5" x2="424.3" y2="133.5" stroke="#222" stroke-width="0.9"/>
<line x1="424.3" y1="152.5" x2="424.3" y2="156.5" stroke="#222" stroke-width="0.9"/>
<line x1="472.1" y1="129.5" x2="472.1" y2="133.5" stroke="#222" stroke-width="0.9"/>
<line x1="472.1" y1="152.5" x2="472.1" y2="156.5" stroke="#222" stroke-width="0.9"/>
<line x1="519.9" y1="129.5" x2="519.9" y2="133.5" stroke="#222" stroke-width="0.9"/>
<line x1="519.9" y1="152.5" x2="519.9" y2="156.5" stroke="#222" stroke-width="0.9"/>
<line x1="567.7" y1="129.5" x2="567.7" y2="133.5" stroke="#222" stroke-width="0.9"/>
<line x1="567.7" y1="152.5" x2="567.7" y2="156.5" stroke="#222" stroke-width="0.9"/>
<text x="382.6" y="144" font-size="16.5" font-weight="bold">c</text>
<polyline points="376.6,142.5 378.9,142.51 382.21,142.51 385.81,142.63 389,143 391.36,143.87 393.34,145.11 395.53,146.24 398.5,146.8 402.65,146.5 407.59,145.64 412.71,144.66 417.4,144 421.5,143.78 425.35,143.77 429.02,143.87 432.6,144 436.1,144.29 439.49,144.74 442.75,145.05 445.9,144.9 448.88,144.11 451.72,142.87 454.49,141.47 457.3,140.2 460.24,138.92 463.24,137.54 466.12,136.45 468.7,136 470.87,136.49 472.74,137.66 474.49,139.05 476.3,140.2 478,141.04 479.57,141.8 481.4,142.46 483.9,143 487.27,143.42 491.27,143.74 495.61,143.93 500,144 504.5,143.82 509.23,143.44 513.96,143.09 518.5,143 522.74,143.3 526.81,143.84 530.84,144.46 535,145 539.42,145.47 544,145.94 548.48,146.31 552.6,146.5 556.09,146.37 559.16,146 562.28,145.63 565.9,145.5 570.34,145.7 575.29,146.09 580.29,146.57 584.9,147 588.94,147.4 592.68,147.81 596.3,148.2 600,148.5 604.17,148.71 608.59,148.84 612.55,148.93 615.3,149" fill="none" stroke="#fbe48f" stroke-width="0.9" stroke-linejoin="round"/>
<polyline points="376.6,143.3 378.9,143.31 382.21,143.31 385.81,143.43 389,143.8 391.36,144.67 393.34,145.91 395.53,147.04 398.5,147.6 402.65,147.3 407.59,146.44 412.71,145.46 417.4,144.8 421.5,144.58 425.35,144.57 429.02,144.67 432.6,144.8 436.1,145.09 439.49,145.54 442.75,145.85 445.9,145.7 448.88,144.91 451.72,143.67 454.49,142.27 457.3,141 460.24,139.72 463.24,138.34 466.12,137.25 468.7,136.8 470.87,137.29 472.74,138.46 474.49,139.85 476.3,141 478,141.84 479.57,142.6 481.4,143.26 483.9,143.8 487.27,144.22 491.27,144.54 495.61,144.73 500,144.8 504.5,144.62 509.23,144.24 513.96,143.89 518.5,143.8 522.74,144.1 526.81,144.64 530.84,145.26 535,145.8 539.42,146.27 544,146.74 548.48,147.11 552.6,147.3 556.09,147.17 559.16,146.8 562.28,146.43 565.9,146.3 570.34,146.5 575.29,146.89 580.29,147.37 584.9,147.8 588.94,148.2 592.68,148.61 596.3,149 600,149.3 604.17,149.51 608.59,149.64 612.55,149.73 615.3,149.8" fill="none" stroke="#fdc77f" stroke-width="0.9" stroke-linejoin="round"/>
<polyline points="376.6,146.3 379.83,146.26 384.46,146.22 389.69,146.11 394.7,145.9 399.39,145.46 404.15,144.87 408.94,144.31 413.7,144 418.56,144.14 423.51,144.57 428.27,144.94 432.6,144.9 436.41,144.27 439.84,143.26 442.97,142.12 445.9,141.1 448.45,140.24 450.65,139.42 452.85,138.64 455.4,137.9 458.59,137.01 462.17,136.03 465.69,135.36 468.7,135.4 471,136.52 472.86,138.42 474.53,140.48 476.3,142.1 478,143.14 479.57,143.92 481.4,144.49 483.9,144.9 487.27,145.13 491.27,145.16 495.61,145.06 500,144.9 504.5,144.59 509.23,144.14 513.96,143.71 518.5,143.5 522.74,143.53 526.81,143.71 530.84,144.03 535,144.5 539.42,145.28 544,146.32 548.48,147.28 552.6,147.8 556.09,147.65 559.16,147.08 562.28,146.41 565.9,146 570.34,145.94 575.29,146.04 580.29,146.25 584.9,146.5 588.94,146.84 592.68,147.27 596.3,147.69 600,148 604.17,148.15 608.59,148.19 612.55,148.19 615.3,148.2" fill="none" stroke="#62c462" stroke-width="0.9" stroke-linejoin="round"/>
<polyline points="376.6,154.6 380.01,154.63 384.94,154.69 390.23,154.61 394.7,154.2 397.87,153.31 400.41,152.07 402.93,150.72 406,149.5 409.96,148.4 414.43,147.32 418.96,146.35 423.1,145.6 426.83,145.18 430.34,145.01 433.56,144.89 436.4,144.6 438.77,144.12 440.73,143.54 442.43,142.87 444,142.1 445.31,141.1 446.34,139.91 447.41,138.79 448.8,138 450.55,137.77 452.52,137.92 454.75,138.05 457.3,137.8 460.38,136.74 463.89,135.19 467.43,133.84 470.6,133.4 473.29,134.35 475.71,136.22 477.95,138.28 480.1,139.8 482.02,140.58 483.73,141.01 485.51,141.26 487.7,141.5 490.61,141.73 494,141.88 497.31,141.98 500,142.1 501.61,142.3 502.54,142.54 503.5,142.68 505.2,142.6 507.96,142.18 511.34,141.51 514.99,140.79 518.5,140.2 521.92,139.72 525.39,139.26 528.75,138.95 531.8,138.9 534.42,139.17 536.74,139.68 538.93,140.36 541.2,141.1 543.43,142.02 545.59,143.13 547.92,144.17 550.7,144.9 554.01,145.16 557.71,145.12 561.7,145 565.9,145 570.47,145.17 575.41,145.41 580.34,145.69 584.9,146 588.94,146.39 592.68,146.84 596.3,147.27 600,147.6 604.17,147.79 608.59,147.9 612.55,147.96 615.3,148" fill="none" stroke="#2f9a8c" stroke-width="0.9" stroke-linejoin="round"/>
<polyline points="376.6,154.4 380.01,154.4 384.94,154.42 390.23,154.28 394.7,153.8 397.87,152.81 400.41,151.45 402.93,149.99 406,148.7 409.96,147.59 414.43,146.54 418.96,145.62 423.1,144.9 426.83,144.52 430.34,144.39 433.56,144.3 436.4,144 438.77,143.45 440.73,142.76 442.43,141.97 444,141.1 445.31,140.02 446.34,138.77 447.41,137.61 448.8,136.8 450.55,136.6 452.52,136.79 454.75,136.99 457.3,136.8 460.38,135.81 463.89,134.34 467.43,133.05 470.6,132.6 473.29,133.42 475.71,135.07 477.95,136.91 480.1,138.3 482.02,139.04 483.73,139.49 485.51,139.81 487.7,140.2 490.61,140.72 494,141.27 497.31,141.76 500,142.1 501.61,142.22 502.54,142.19 503.5,142.12 505.2,142.1 508.04,142.15 511.58,142.21 515.25,142.31 518.5,142.5 520.92,142.8 522.89,143.18 525.05,143.6 528,144 532.08,144.45 536.91,144.94 542.03,145.34 547,145.5 551.73,145.27 556.45,144.75 561.17,144.23 565.9,144 570.73,144.15 575.64,144.54 580.42,145.03 584.9,145.5 588.94,145.98 592.68,146.52 596.3,147.02 600,147.4 604.17,147.61 608.59,147.72 612.55,147.76 615.3,147.8" fill="none" stroke="#2a6cae" stroke-width="0.9" stroke-linejoin="round"/>
<polyline points="376.6,154.6 380.83,154.63 386.96,154.7 393.38,154.67 398.5,154.4 401.62,153.79 403.68,152.94 405.52,152.02 408,151.2 411.51,150.52 415.55,149.9 419.59,149.3 423.1,148.7 425.87,148.11 428.2,147.55 430.36,146.96 432.6,146.3 435.06,145.58 437.59,144.82 439.99,143.97 442.1,143 443.7,141.75 444.95,140.28 446.2,138.9 447.8,137.9 449.82,137.54 452.08,137.6 454.57,137.66 457.3,137.3 460.36,136.08 463.71,134.33 467.19,132.79 470.6,132.2 473.86,133.01 477.07,134.76 480.38,136.74 483.9,138.3 487.67,139.26 491.62,139.98 495.74,140.55 500,141.1 504.67,141.6 509.66,142.02 514.45,142.4 518.5,142.8 521.29,143.23 523.22,143.65 525.17,144.08 528,144.5 532.08,145.03 536.91,145.62 542.03,146.08 547,146.2 551.73,145.74 556.45,144.86 561.17,143.98 565.9,143.5 570.73,143.57 575.64,143.96 580.42,144.49 584.9,145 588.94,145.5 592.68,146.06 596.3,146.59 600,147 604.17,147.24 608.59,147.38 612.55,147.45 615.3,147.5" fill="none" stroke="#3b2a8e" stroke-width="0.9" stroke-linejoin="round"/>
<text x="619.7" y="146.7" font-size="11" fill="#222" textLength="16.5" lengthAdjust="spacingAndGlyphs">2.5</text>
<text x="619.7" y="159.4" font-size="11" fill="#222" textLength="6.4" lengthAdjust="spacingAndGlyphs">0</text>
<text x="657" y="150.3" font-size="12" text-anchor="middle" fill="#222" textLength="32.8" lengthAdjust="spacingAndGlyphs" transform="rotate(-90 657 150.3)">Slope</text>
<text x="671.5" y="150.8" font-size="12" text-anchor="middle" fill="#222" textLength="18.7" lengthAdjust="spacingAndGlyphs" transform="rotate(-90 671.5 150.8)">(°)</text>
<line x1="376.5" y1="165.5" x2="376.5" y2="188.5" stroke="#7f7f7f" stroke-width="1"/>
<line x1="615.5" y1="165.5" x2="615.5" y2="188.5" stroke="#7f7f7f" stroke-width="1"/>
<line x1="376.5" y1="165.5" x2="615.5" y2="165.5" stroke="#cfcfcf" stroke-width="1"/>
<line x1="376.5" y1="188.5" x2="615.5" y2="188.5" stroke="#cfcfcf" stroke-width="1"/>
<line x1="374.5" y1="171.6" x2="378.5" y2="171.6" stroke="#222" stroke-width="0.9"/>
<line x1="374.5" y1="188.5" x2="378.5" y2="188.5" stroke="#222" stroke-width="0.9"/>
<line x1="613.5" y1="171.6" x2="617.5" y2="171.6" stroke="#222" stroke-width="0.9"/>
<line x1="613.5" y1="188.5" x2="617.5" y2="188.5" stroke="#222" stroke-width="0.9"/>
<line x1="424.3" y1="163.5" x2="424.3" y2="167.5" stroke="#222" stroke-width="0.9"/>
<line x1="424.3" y1="186.5" x2="424.3" y2="190.5" stroke="#222" stroke-width="0.9"/>
<line x1="472.1" y1="163.5" x2="472.1" y2="167.5" stroke="#222" stroke-width="0.9"/>
<line x1="472.1" y1="186.5" x2="472.1" y2="190.5" stroke="#222" stroke-width="0.9"/>
<line x1="519.9" y1="163.5" x2="519.9" y2="167.5" stroke="#222" stroke-width="0.9"/>
<line x1="519.9" y1="186.5" x2="519.9" y2="190.5" stroke="#222" stroke-width="0.9"/>
<line x1="567.7" y1="163.5" x2="567.7" y2="167.5" stroke="#222" stroke-width="0.9"/>
<line x1="567.7" y1="186.5" x2="567.7" y2="190.5" stroke="#222" stroke-width="0.9"/>
<text x="382.3" y="179.3" font-size="16.5" font-weight="bold">d</text>
<text x="372" y="175.5" font-size="11" text-anchor="end" fill="#222" textLength="19.2" lengthAdjust="spacingAndGlyphs">500</text>
<text x="372" y="192.4" font-size="11" text-anchor="end" fill="#222" textLength="6.4" lengthAdjust="spacingAndGlyphs">0</text>
<polyline points="376.6,186.7 379.49,186.18 383.63,185.43 388.31,184.59 392.8,183.8 396.88,183.06 400.94,182.3 405.21,181.59 409.9,181 415.31,180.51 421.25,180.09 427.19,179.81 432.6,179.7 437.22,179.83 441.38,180.15 445.42,180.57 449.7,181 454.41,181.52 459.32,182.15 464.17,182.68 468.7,182.9 472.75,182.67 476.48,182.13 480.13,181.5 483.9,181 487.81,180.66 491.74,180.38 495.79,180.16 500,180 504.22,179.97 508.48,180.06 513.12,180.11 518.5,180 525.06,179.68 532.49,179.22 540.05,178.68 547,178.1 553.04,177.49 558.59,176.82 564.02,176.09 569.7,175.3 575.82,174.4 582.16,173.4 588.45,172.4 594.4,171.5 600.38,170.66 606.39,169.86 611.63,169.18 615.3,168.7" fill="none" stroke="#fbe48f" stroke-width="0.9" stroke-linejoin="round"/>
<polyline points="376.6,187.2 379.49,186.68 383.63,185.93 388.31,185.09 392.8,184.3 396.88,183.56 400.94,182.8 405.21,182.09 409.9,181.5 415.31,181.01 421.25,180.59 427.19,180.31 432.6,180.2 437.22,180.33 441.38,180.65 445.42,181.07 449.7,181.5 454.41,182.02 459.32,182.65 464.17,183.18 468.7,183.4 472.75,183.17 476.48,182.63 480.13,182 483.9,181.5 487.81,181.16 491.74,180.88 495.79,180.66 500,180.5 504.22,180.47 508.48,180.56 513.12,180.61 518.5,180.5 525.06,180.18 532.49,179.72 540.05,179.18 547,178.6 553.04,177.99 558.59,177.32 564.02,176.59 569.7,175.8 575.82,174.9 582.16,173.9 588.45,172.9 594.4,172 600.38,171.16 606.39,170.36 611.63,169.68 615.3,169.2" fill="none" stroke="#62c462" stroke-width="0.9" stroke-linejoin="round"/>
<polyline points="376.6,188 379.49,187.68 383.63,187.23 388.31,186.69 392.8,186.1 396.88,185.41 400.94,184.63 405.21,183.85 409.9,183.2 415.31,182.66 421.25,182.18 427.19,181.83 432.6,181.7 437.22,181.85 441.38,182.24 445.42,182.73 449.7,183.2 454.41,183.76 459.32,184.42 464.17,184.95 468.7,185.1 472.75,184.69 476.48,183.89 480.13,182.99 483.9,182.3 487.81,181.88 491.74,181.59 495.79,181.37 500,181.2 504.22,181.14 508.48,181.19 513.12,181.19 518.5,181 525.06,180.55 532.49,179.92 540.05,179.21 547,178.5 553.04,177.81 558.59,177.11 564.02,176.37 569.7,175.6 575.82,174.76 582.16,173.86 588.45,172.98 594.4,172.2 600.38,171.49 606.39,170.84 611.63,170.29 615.3,169.9" fill="none" stroke="#2f9a8c" stroke-width="0.9" stroke-linejoin="round"/>
<polyline points="376.6,188.4 379.49,188.08 383.63,187.63 388.31,187.09 392.8,186.5 396.88,185.81 400.94,185.03 405.21,184.25 409.9,183.6 415.31,183.06 421.25,182.58 427.19,182.23 432.6,182.1 437.22,182.25 441.38,182.64 445.42,183.13 449.7,183.6 454.41,184.16 459.32,184.82 464.17,185.35 468.7,185.5 472.75,185.09 476.48,184.29 480.13,183.39 483.9,182.7 487.81,182.28 491.74,181.99 495.79,181.77 500,181.6 504.22,181.54 508.48,181.59 513.12,181.59 518.5,181.4 525.06,180.95 532.49,180.32 540.05,179.61 547,178.9 553.04,178.21 558.59,177.51 564.02,176.77 569.7,176 575.82,175.16 582.16,174.26 588.45,173.38 594.4,172.6 600.38,171.89 606.39,171.24 611.63,170.69 615.3,170.3" fill="none" stroke="#2a6cae" stroke-width="0.9" stroke-linejoin="round"/>
<polyline points="376.6,188.6 379.49,188.28 383.63,187.83 388.31,187.29 392.8,186.7 396.88,186.01 400.94,185.22 405.21,184.45 409.9,183.8 415.31,183.26 421.25,182.78 427.19,182.43 432.6,182.3 437.22,182.45 441.38,182.84 445.42,183.33 449.7,183.8 454.41,184.36 459.32,185.02 464.17,185.55 468.7,185.7 472.75,185.29 476.48,184.49 480.13,183.59 483.9,182.9 487.81,182.48 491.74,182.19 495.79,181.97 500,181.8 504.22,181.74 508.48,181.79 513.12,181.79 518.5,181.6 525.06,181.15 532.49,180.52 540.05,179.81 547,179.1 553.04,178.41 558.59,177.71 564.02,176.97 569.7,176.2 575.82,175.36 582.16,174.46 588.45,173.58 594.4,172.8 600.38,172.09 606.39,171.44 611.63,170.89 615.3,170.5" fill="none" stroke="#3b2a8e" stroke-width="1" stroke-linejoin="round"/>
<text x="349.3" y="180.4" font-size="12" text-anchor="middle" fill="#222" textLength="87.6" lengthAdjust="spacingAndGlyphs" transform="rotate(-90 349.3 180.4)">Thickness (m)</text>
<line x1="376.5" y1="198.5" x2="376.5" y2="269.5" stroke="#7f7f7f" stroke-width="1"/>
<line x1="615.5" y1="198.5" x2="615.5" y2="269.5" stroke="#7f7f7f" stroke-width="1"/>
<line x1="376.5" y1="198.5" x2="615.5" y2="198.5" stroke="#cfcfcf" stroke-width="1"/>
<line x1="376.5" y1="269.5" x2="615.5" y2="269.5" stroke="#cfcfcf" stroke-width="1"/>
<line x1="374.5" y1="266.2" x2="378.5" y2="266.2" stroke="#222" stroke-width="0.9"/>
<line x1="374.5" y1="244.87" x2="378.5" y2="244.87" stroke="#222" stroke-width="0.9"/>
<line x1="374.5" y1="223.53" x2="378.5" y2="223.53" stroke="#222" stroke-width="0.9"/>
<line x1="374.5" y1="202.2" x2="378.5" y2="202.2" stroke="#222" stroke-width="0.9"/>
<line x1="613.5" y1="266.2" x2="617.5" y2="266.2" stroke="#222" stroke-width="0.9"/>
<line x1="613.5" y1="244.87" x2="617.5" y2="244.87" stroke="#222" stroke-width="0.9"/>
<line x1="613.5" y1="223.53" x2="617.5" y2="223.53" stroke="#222" stroke-width="0.9"/>
<line x1="613.5" y1="202.2" x2="617.5" y2="202.2" stroke="#222" stroke-width="0.9"/>
<line x1="424.3" y1="196.5" x2="424.3" y2="200.5" stroke="#222" stroke-width="0.9"/>
<line x1="424.3" y1="267.5" x2="424.3" y2="271.5" stroke="#222" stroke-width="0.9"/>
<line x1="472.1" y1="196.5" x2="472.1" y2="200.5" stroke="#222" stroke-width="0.9"/>
<line x1="472.1" y1="267.5" x2="472.1" y2="271.5" stroke="#222" stroke-width="0.9"/>
<line x1="519.9" y1="196.5" x2="519.9" y2="200.5" stroke="#222" stroke-width="0.9"/>
<line x1="519.9" y1="267.5" x2="519.9" y2="271.5" stroke="#222" stroke-width="0.9"/>
<line x1="567.7" y1="196.5" x2="567.7" y2="200.5" stroke="#222" stroke-width="0.9"/>
<line x1="567.7" y1="267.5" x2="567.7" y2="271.5" stroke="#222" stroke-width="0.9"/>
<line x1="376.5" y1="266.3" x2="615.5" y2="266.3" stroke="#999" stroke-width="0.7" stroke-dasharray="2.2,1.6"/>
<text x="382.6" y="215.2" font-size="16.5" font-weight="bold">e</text>
<polyline points="376.6,260.5 379.62,258.76 383.99,256.22 388.71,253.67 392.8,251.9 396.03,251.32 398.92,251.43 401.6,251.71 404.2,251.6 406.67,250.89 408.96,249.89 411.24,248.87 413.7,248.1 416.44,247.87 419.35,247.96 422.26,247.9 425,247.2 427.5,245.39 429.86,242.84 432.17,240.34 434.5,238.7 436.96,238.37 439.49,238.86 441.89,239.49 444,239.6 445.47,239 446.49,238.05 447.7,236.92 449.7,235.8 453.01,234.62 457.18,233.33 461.41,232.1 464.9,231.1 467.25,230.16 468.94,229.26 470.51,228.81 472.5,229.2 474.97,230.97 477.67,233.78 480.63,236.66 483.9,238.7 487.76,239.71 492.1,240.16 496.36,240.1 500,239.6 502.6,238.39 504.56,236.54 506.48,234.57 509,233 512.46,232.02 516.46,231.34 520.53,230.74 524.2,230 527.39,228.86 530.33,227.5 533.03,226.39 535.5,226 537.62,226.66 539.41,228.06 541.15,229.68 543.1,231 545.25,232.08 547.49,233.12 549.91,233.86 552.6,234 555.75,233.3 559.25,231.97 562.75,230.4 565.9,229 568.45,227.78 570.65,226.56 572.85,225.43 575.4,224.5 578.5,223.78 581.94,223.21 585.43,222.82 588.7,222.6 591.75,222.58 594.7,222.75 597.48,223.07 600,223.5 602.18,224.21 604.08,225.16 605.87,226 607.7,226.4 609.79,226.12 611.98,225.38 613.94,224.56 615.3,224" fill="none" stroke="#fdc77f" stroke-width="0.9" stroke-linejoin="round"/>
<polyline points="376.6,259.5 378.81,257.69 381.97,255.08 385.55,252.3 389,250 392.22,248.42 395.48,247.19 398.83,246.05 402.3,244.7 405.95,243.04 409.73,241.22 413.58,239.4 417.4,237.7 421.33,236.09 425.35,234.53 429.2,233.13 432.6,232 435.42,231.39 437.83,231.17 439.99,230.89 442.1,230.1 444.09,228.35 445.9,226 447.71,223.8 449.7,222.5 451.94,222.53 454.33,223.42 456.78,224.57 459.2,225.4 461.71,225.74 464.31,225.91 466.73,226.05 468.7,226.3 470.01,226.5 470.84,226.65 471.55,227.1 472.5,228.2 473.7,230.42 474.99,233.46 476.46,236.49 478.2,238.7 480.24,240.07 482.54,240.96 485.04,241.17 487.7,240.5 490.66,238.42 493.88,235.2 497.09,231.8 500,229.2 502.34,227.57 504.32,226.42 506.39,225.71 509,225.4 512.46,225.77 516.46,226.74 520.53,227.74 524.2,228.2 527.39,227.74 530.33,226.74 533.03,225.77 535.5,225.4 537.62,225.89 539.41,226.89 541.15,228.1 543.1,229.2 545.25,230.35 547.49,231.64 549.91,232.65 552.6,233 555.75,232.4 559.25,231.13 562.75,229.59 565.9,228.2 568.45,226.95 570.65,225.67 572.85,224.48 575.4,223.5 578.5,222.76 581.94,222.2 585.43,221.81 588.7,221.6 591.75,221.58 594.7,221.75 597.48,222.07 600,222.5 602.18,223.22 604.08,224.19 605.87,225.04 607.7,225.4 609.79,225.01 611.98,224.13 613.94,223.16 615.3,222.5" fill="none" stroke="#fbe48f" stroke-width="0.9" stroke-linejoin="round"/>
<polyline points="376.6,261.4 378.81,260.06 381.97,258.13 385.55,255.94 389,253.8 392.35,251.67 395.83,249.43 399.22,247.25 402.3,245.3 404.9,243.59 407.18,242.04 409.39,240.69 411.8,239.6 414.54,238.88 417.45,238.47 420.36,238.15 423.1,237.7 425.56,237.11 427.84,236.48 430.13,235.76 432.6,234.9 435.45,233.86 438.54,232.68 441.51,231.41 444,230.1 445.65,228.52 446.73,226.71 447.87,225.18 449.7,224.4 452.62,224.75 456.23,225.88 459.9,227.22 463,228.2 465.35,228.45 467.28,228.34 468.97,228.42 470.6,229.2 472.03,231.13 473.21,233.84 474.52,236.6 476.3,238.7 478.73,240.07 481.59,241.05 484.65,241.55 487.7,241.5 490.88,240.6 494.24,239 497.4,237.22 500,235.8 501.61,235.02 502.54,234.54 503.5,234 505.2,233 508.04,231.01 511.58,228.39 515.25,226.07 518.5,225 520.92,225.67 522.9,227.49 525.05,229.81 528,232 532.24,234.22 537.33,236.69 542.48,238.87 546.9,240.2 550.14,240.56 552.71,240.23 555.22,239.26 558.3,237.7 562.26,235.11 566.73,231.63 571.26,228.11 575.4,225.4 579.04,223.81 582.41,222.85 585.6,222.22 588.7,221.6 591.57,221.08 594.23,220.77 596.94,220.4 600,219.7 603.9,218.41 608.36,216.73 612.46,215.11 615.3,214" fill="none" stroke="#62c462" stroke-width="0.9" stroke-linejoin="round"/>
<polyline points="376.6,266.2 380.14,266.18 385.29,266.15 390.62,266.05 394.7,265.8 396.95,265.47 398.21,265.07 399.13,264.43 400.4,263.4 402.12,261.72 403.97,259.55 405.93,257.33 408,255.5 410.18,254.23 412.46,253.26 414.87,252.41 417.4,251.5 420.2,250.35 423.21,249.09 426.17,248.04 428.8,247.5 431.01,247.81 432.96,248.72 434.72,249.64 436.4,250 437.94,249.68 439.31,248.99 440.65,247.92 442.1,246.5 443.71,244.31 445.39,241.48 447.11,238.84 448.8,237.2 450.43,236.94 452.04,237.58 453.68,238.63 455.4,239.6 457.23,240.59 459.14,241.77 461.08,242.82 463,243.4 464.9,243.17 466.8,242.39 468.7,241.64 470.6,241.5 472.46,242.34 474.28,243.79 476.17,245.26 478.2,246.2 480.38,246.48 482.66,246.4 485.08,245.99 487.7,245.3 490.74,244.17 494.12,242.63 497.36,241 500,239.6 501.56,238.49 502.42,237.52 503.36,236.64 505.2,235.8 508.32,235.17 512.24,234.7 516.44,234.08 520.4,233 524.11,230.88 527.8,228.05 531.34,225.55 534.6,224.4 537.53,225.25 540.21,227.43 542.69,229.99 545,232 546.96,233.31 548.62,234.38 550.36,235.21 552.6,235.8 555.48,236.31 558.78,236.69 562.31,236.62 565.9,235.8 569.61,233.78 573.5,230.84 577.39,227.78 581.1,225.4 584.74,223.81 588.35,222.61 591.66,221.86 594.4,221.6 596.29,222.08 597.55,223.21 598.63,224.48 600,225.4 601.78,226 603.73,226.5 605.73,226.67 607.7,226.3 609.79,225.02 611.98,223.06 613.94,221.06 615.3,219.7" fill="none" stroke="#2f9a8c" stroke-width="0.9" stroke-linejoin="round"/>
<polyline points="376.6,266.2 380.14,266.15 385.29,266.1 390.62,265.95 394.7,265.6 396.95,265.11 398.21,264.5 399.13,263.64 400.4,262.4 402.12,260.52 403.97,258.14 405.93,255.74 408,253.8 410.18,252.51 412.46,251.6 414.87,250.84 417.4,250 420.2,248.89 423.21,247.68 426.17,246.68 428.8,246.2 431.01,246.61 432.96,247.65 434.72,248.69 436.4,249.1 437.94,248.74 439.31,247.94 440.65,246.77 442.1,245.3 443.71,243.19 445.39,240.53 447.11,238.03 448.8,236.4 450.39,235.97 451.93,236.32 453.55,237.03 455.4,237.7 457.53,238.47 459.85,239.47 462.32,240.29 464.9,240.5 467.62,239.81 470.48,238.5 473.41,237.02 476.3,235.8 479.13,234.95 481.94,234.23 484.79,233.59 487.7,233 490.88,232.4 494.24,231.82 497.4,231.36 500,231.1 501.56,231.08 502.42,231.25 503.36,231.57 505.2,232 508.34,232.7 512.29,233.62 516.5,234.47 520.4,234.9 523.86,234.67 527.17,234.01 530.43,233.32 533.7,233 537.14,233.25 540.66,233.83 544,234.47 546.9,234.9 549.02,235.28 550.57,235.68 552.2,235.68 554.5,234.9 557.85,232.83 561.86,229.82 565.99,226.73 569.7,224.4 572.77,223.07 575.52,222.29 578.21,221.86 581.1,221.6 584.38,221.54 587.87,221.76 591.3,222.12 594.4,222.5 597,223.06 599.27,223.8 601.48,224.37 603.9,224.4 606.88,223.58 610.19,222.17 613.21,220.7 615.3,219.7" fill="none" stroke="#2a6cae" stroke-width="0.9" stroke-linejoin="round"/>
<polyline points="376.6,266.2 380.78,266.2 386.84,266.22 393.25,266.08 398.5,265.6 402.14,264.59 404.98,263.19 407.44,261.73 409.9,260.5 412.39,259.66 414.72,259.03 416.99,258.4 419.3,257.6 421.71,256.53 424.16,255.31 426.56,254.05 428.8,252.9 430.83,251.91 432.72,251.01 434.54,250.1 436.4,249.1 438.35,248.03 440.34,246.93 442.26,245.71 444,244.3 445.47,242.33 446.74,239.96 447.97,237.88 449.3,236.8 450.73,237.12 452.21,238.39 453.75,240.04 455.4,241.5 457.19,242.85 459.11,244.32 461.06,245.55 463,246.2 464.77,246.03 466.44,245.27 468.3,244.28 470.6,243.4 473.46,242.68 476.72,241.95 480.24,241.22 483.9,240.5 487.98,239.71 492.46,238.88 496.68,238.16 500,237.7 501.83,237.65 502.66,237.9 503.45,238.2 505.2,238.3 508.56,238.03 512.89,237.54 517.17,237.14 520.4,237.1 521.75,237.63 521.95,238.53 522.32,239.49 524.2,240.2 528.51,240.68 534.36,241.06 540.33,241.19 545,240.9 547.56,240.23 548.91,239.22 550.21,237.79 552.6,235.8 556.77,232.76 561.98,228.89 567.25,225.15 571.6,222.5 574.55,221.38 576.71,221.22 578.68,221.47 581.1,221.6 584.25,221.56 587.75,221.61 591.25,221.65 594.4,221.6 597,221.53 599.27,221.46 601.48,221.2 603.9,220.6 606.88,219.37 610.19,217.69 613.21,216.03 615.3,214.9" fill="none" stroke="#3b2a8e" stroke-width="0.9" stroke-linejoin="round"/>
<text x="619.7" y="270.1" font-size="11" fill="#222" textLength="6.4" lengthAdjust="spacingAndGlyphs">0</text>
<text x="619.7" y="248.77" font-size="11" fill="#222" textLength="12.8" lengthAdjust="spacingAndGlyphs">50</text>
<text x="619.7" y="227.43" font-size="11" fill="#222" textLength="19.2" lengthAdjust="spacingAndGlyphs">100</text>
<text x="619.7" y="206.1" font-size="11" fill="#222" textLength="19.2" lengthAdjust="spacingAndGlyphs">150</text>
<text x="657" y="231.4" font-size="12" text-anchor="middle" fill="#222" textLength="87.8" lengthAdjust="spacingAndGlyphs" transform="rotate(-90 657 231.4)">Driving stress</text>
<text x="671.5" y="236.6" font-size="12" text-anchor="middle" fill="#222" textLength="41.6" lengthAdjust="spacingAndGlyphs" transform="rotate(-90 671.5 236.6)">(kPa)</text>
<text x="376.5" y="282.4" font-size="11" text-anchor="middle" fill="#222" textLength="6.4" lengthAdjust="spacingAndGlyphs">0</text>
<text x="424.3" y="282.4" font-size="11" text-anchor="middle" fill="#222" textLength="6.4" lengthAdjust="spacingAndGlyphs">2</text>
<text x="472.1" y="282.4" font-size="11" text-anchor="middle" fill="#222" textLength="6.4" lengthAdjust="spacingAndGlyphs">4</text>
<text x="519.9" y="282.4" font-size="11" text-anchor="middle" fill="#222" textLength="6.4" lengthAdjust="spacingAndGlyphs">6</text>
<text x="567.7" y="282.4" font-size="11" text-anchor="middle" fill="#222" textLength="6.4" lengthAdjust="spacingAndGlyphs">8</text>
<text x="615.5" y="282.4" font-size="11" text-anchor="middle" fill="#222" textLength="12.8" lengthAdjust="spacingAndGlyphs">10</text>
<text x="418.3" y="294.7" font-size="12" fill="#222" textLength="154.5" lengthAdjust="spacingAndGlyphs">Distance upglacier (km)</text>
<text x="34.6" y="325.6" font-size="15" font-weight="bold">f</text>
<polyline points="47.3,330.5 47.3,328.1 369.3,328.1 369.3,330.5" fill="none" stroke="#555" stroke-width="1" stroke-linejoin="round"/>
<polyline points="376.4,330.5 376.4,328.1 619.4,328.1 619.4,330.5" fill="none" stroke="#555" stroke-width="1" stroke-linejoin="round"/>
<text x="146.6" y="323.2" font-size="14.2" fill="#6b6b6b" textLength="124.4" lengthAdjust="spacingAndGlyphs">Kennicott Glacier</text>
<text x="453.4" y="323.2" font-size="14.2" fill="#6b6b6b" textLength="89" lengthAdjust="spacingAndGlyphs">Root Glacier</text>
<line x1="50.7" y1="344.7" x2="119.8" y2="344.7" stroke="#dcdcdc" stroke-width="0.8"/>
<line x1="50.7" y1="387.7" x2="119.8" y2="387.7" stroke="#dcdcdc" stroke-width="0.8"/>
<rect x="50.7" y="366.2" width="15.45" height="8.38" fill="url(#hb)" opacity="0.8"/>
<rect x="50.7" y="358.89" width="15.45" height="7.31" fill="url(#hq)" opacity="0.8"/>
<rect x="50.7" y="366.2" width="15.45" height="1.72" fill="url(#hd)" opacity="0.85"/>
<line x1="57.65" y1="355.89" x2="57.65" y2="364.89" stroke="#66c2a5" stroke-width="0.6" opacity="0.8"/>
<line x1="58.65" y1="368.58" x2="58.65" y2="379.58" stroke="#fc8d62" stroke-width="0.6" opacity="0.8"/>
<rect x="66.15" y="366.2" width="17.07" height="8.38" fill="url(#hb)" opacity="0.8"/>
<rect x="66.15" y="358.03" width="17.07" height="8.17" fill="url(#hq)" opacity="0.8"/>
<rect x="66.15" y="366.2" width="17.07" height="1.07" fill="url(#hd)" opacity="0.85"/>
<line x1="73.83" y1="355.03" x2="73.83" y2="364.03" stroke="#66c2a5" stroke-width="0.6" opacity="0.8"/>
<line x1="74.83" y1="368.58" x2="74.83" y2="379.58" stroke="#fc8d62" stroke-width="0.6" opacity="0.8"/>
<rect x="83.22" y="366.2" width="21.14" height="9.46" fill="url(#hb)" opacity="0.8"/>
<rect x="83.22" y="363.4" width="21.14" height="2.8" fill="url(#hq)" opacity="0.8"/>
<rect x="83.22" y="366.2" width="21.14" height="6.67" fill="url(#hd)" opacity="0.85"/>
<line x1="92.73" y1="360.4" x2="92.73" y2="369.4" stroke="#66c2a5" stroke-width="0.6" opacity="0.8"/>
<line x1="93.73" y1="369.66" x2="93.73" y2="380.66" stroke="#fc8d62" stroke-width="0.6" opacity="0.8"/>
<rect x="104.35" y="366.2" width="6.5" height="5.59" fill="url(#hb)" opacity="0.8"/>
<rect x="104.35" y="364.61" width="6.5" height="1.59" fill="url(#hq)" opacity="0.8"/>
<rect x="104.35" y="366.2" width="6.5" height="4.73" fill="url(#hd)" opacity="0.85"/>
<line x1="107.28" y1="361.61" x2="107.28" y2="370.61" stroke="#66c2a5" stroke-width="0.6" opacity="0.8"/>
<line x1="108.28" y1="365.79" x2="108.28" y2="376.79" stroke="#fc8d62" stroke-width="0.6" opacity="0.8"/>
<rect x="110.86" y="366.2" width="8.94" height="4.08" fill="url(#hb)" opacity="0.8"/>
<rect x="110.86" y="365.21" width="8.94" height="0.99" fill="url(#hq)" opacity="0.8"/>
<rect x="110.86" y="366.2" width="8.94" height="3.44" fill="url(#hd)" opacity="0.85"/>
<line x1="114.88" y1="362.21" x2="114.88" y2="371.21" stroke="#66c2a5" stroke-width="0.6" opacity="0.8"/>
<line x1="115.88" y1="364.28" x2="115.88" y2="375.28" stroke="#fc8d62" stroke-width="0.6" opacity="0.8"/>
<line x1="50.7" y1="366.2" x2="119.8" y2="366.2" stroke="#888" stroke-width="0.5"/>
<rect x="50.7" y="331.5" width="69.1" height="68.7" fill="none" stroke="#bdbdbd" stroke-width="0.9"/>
<line x1="48.2" y1="344.7" x2="53.2" y2="344.7" stroke="#222" stroke-width="0.9"/>
<line x1="117.3" y1="344.7" x2="122.3" y2="344.7" stroke="#222" stroke-width="0.9"/>
<line x1="48.2" y1="366.2" x2="53.2" y2="366.2" stroke="#222" stroke-width="0.9"/>
<line x1="117.3" y1="366.2" x2="122.3" y2="366.2" stroke="#222" stroke-width="0.9"/>
<line x1="48.2" y1="387.7" x2="53.2" y2="387.7" stroke="#222" stroke-width="0.9"/>
<line x1="117.3" y1="387.7" x2="122.3" y2="387.7" stroke="#222" stroke-width="0.9"/>
<line x1="60.46" y1="397.2" x2="60.46" y2="400.2" stroke="#222" stroke-width="0.9"/>
<text x="60.46" y="412.7" font-size="11" text-anchor="middle" fill="#222" textLength="26.8" lengthAdjust="spacingAndGlyphs">1950</text>
<line x1="101.1" y1="397.2" x2="101.1" y2="400.2" stroke="#222" stroke-width="0.9"/>
<text x="101.1" y="412.7" font-size="11" text-anchor="middle" fill="#222" textLength="26.8" lengthAdjust="spacingAndGlyphs">2000</text>
<text x="85.25" y="342.7" font-size="11" text-anchor="middle" fill="#222" textLength="50.7" lengthAdjust="spacingAndGlyphs">&lt; 2.5 km</text>
<text x="45" y="348.6" font-size="11" text-anchor="end" fill="#222" textLength="6.4" lengthAdjust="spacingAndGlyphs">5</text>
<text x="45" y="370.1" font-size="11" text-anchor="end" fill="#222" textLength="6.4" lengthAdjust="spacingAndGlyphs">0</text>
<text x="45" y="391.6" font-size="11" text-anchor="end" fill="#222" textLength="10.3" lengthAdjust="spacingAndGlyphs">-5</text>
<line x1="133.7" y1="344.7" x2="202.8" y2="344.7" stroke="#dcdcdc" stroke-width="0.8"/>
<line x1="133.7" y1="387.7" x2="202.8" y2="387.7" stroke="#dcdcdc" stroke-width="0.8"/>
<rect x="133.7" y="366.2" width="15.45" height="6.45" fill="url(#hb)" opacity="0.8"/>
<rect x="133.7" y="356.31" width="15.45" height="9.89" fill="url(#hq)" opacity="0.8"/>
<rect x="133.7" y="361.9" width="15.45" height="4.3" fill="url(#hd)" opacity="0.85"/>
<line x1="140.65" y1="353.31" x2="140.65" y2="362.31" stroke="#66c2a5" stroke-width="0.6" opacity="0.8"/>
<line x1="141.65" y1="366.65" x2="141.65" y2="377.65" stroke="#fc8d62" stroke-width="0.6" opacity="0.8"/>
<rect x="149.15" y="366.2" width="17.07" height="12.9" fill="url(#hb)" opacity="0.8"/>
<rect x="149.15" y="354.59" width="17.07" height="11.61" fill="url(#hq)" opacity="0.8"/>
<rect x="149.15" y="366.2" width="17.07" height="1.5" fill="url(#hd)" opacity="0.85"/>
<line x1="156.83" y1="351.59" x2="156.83" y2="360.59" stroke="#66c2a5" stroke-width="0.6" opacity="0.8"/>
<line x1="157.83" y1="373.1" x2="157.83" y2="384.1" stroke="#fc8d62" stroke-width="0.6" opacity="0.8"/>
<rect x="166.22" y="366.2" width="21.14" height="29.24" fill="url(#hb)" opacity="0.8"/>
<rect x="166.22" y="345.99" width="21.14" height="20.21" fill="url(#hq)" opacity="0.8"/>
<rect x="166.22" y="366.2" width="21.14" height="9.46" fill="url(#hd)" opacity="0.85"/>
<line x1="175.73" y1="342.99" x2="175.73" y2="351.99" stroke="#66c2a5" stroke-width="0.6" opacity="0.8"/>
<line x1="176.73" y1="389.44" x2="176.73" y2="400.44" stroke="#fc8d62" stroke-width="0.6" opacity="0.8"/>
<rect x="187.35" y="366.2" width="6.5" height="14.19" fill="url(#hb)" opacity="0.8"/>
<rect x="187.35" y="361.13" width="6.5" height="5.07" fill="url(#hq)" opacity="0.8"/>
<rect x="187.35" y="366.2" width="6.5" height="9.46" fill="url(#hd)" opacity="0.85"/>
<line x1="190.28" y1="358.13" x2="190.28" y2="367.13" stroke="#66c2a5" stroke-width="0.6" opacity="0.8"/>
<line x1="191.28" y1="374.39" x2="191.28" y2="385.39" stroke="#fc8d62" stroke-width="0.6" opacity="0.8"/>
<rect x="193.86" y="366.2" width="8.94" height="14.4" fill="url(#hb)" opacity="0.8"/>
<rect x="193.86" y="358.03" width="8.94" height="8.17" fill="url(#hq)" opacity="0.8"/>
<rect x="193.86" y="366.2" width="8.94" height="7.31" fill="url(#hd)" opacity="0.85"/>
<line x1="197.88" y1="355.03" x2="197.88" y2="364.03" stroke="#66c2a5" stroke-width="0.6" opacity="0.8"/>
<line x1="198.88" y1="374.6" x2="198.88" y2="385.6" stroke="#fc8d62" stroke-width="0.6" opacity="0.8"/>
<line x1="133.7" y1="366.2" x2="202.8" y2="366.2" stroke="#888" stroke-width="0.5"/>
<rect x="133.7" y="331.5" width="69.1" height="68.7" fill="none" stroke="#bdbdbd" stroke-width="0.9"/>
<line x1="131.2" y1="344.7" x2="136.2" y2="344.7" stroke="#222" stroke-width="0.9"/>
<line x1="200.3" y1="344.7" x2="205.3" y2="344.7" stroke="#222" stroke-width="0.9"/>
<line x1="131.2" y1="366.2" x2="136.2" y2="366.2" stroke="#222" stroke-width="0.9"/>
<line x1="200.3" y1="366.2" x2="205.3" y2="366.2" stroke="#222" stroke-width="0.9"/>
<line x1="131.2" y1="387.7" x2="136.2" y2="387.7" stroke="#222" stroke-width="0.9"/>
<line x1="200.3" y1="387.7" x2="205.3" y2="387.7" stroke="#222" stroke-width="0.9"/>
<line x1="143.46" y1="397.2" x2="143.46" y2="400.2" stroke="#222" stroke-width="0.9"/>
<text x="143.46" y="412.7" font-size="11" text-anchor="middle" fill="#222" textLength="26.8" lengthAdjust="spacingAndGlyphs">1950</text>
<line x1="184.1" y1="397.2" x2="184.1" y2="400.2" stroke="#222" stroke-width="0.9"/>
<text x="184.1" y="412.7" font-size="11" text-anchor="middle" fill="#222" textLength="26.8" lengthAdjust="spacingAndGlyphs">2000</text>
<text x="168.25" y="342.7" font-size="11" text-anchor="middle" fill="#222" textLength="58.4" lengthAdjust="spacingAndGlyphs">2.5 - 5 km</text>
<line x1="216.7" y1="344.7" x2="285.8" y2="344.7" stroke="#dcdcdc" stroke-width="0.8"/>
<line x1="216.7" y1="387.7" x2="285.8" y2="387.7" stroke="#dcdcdc" stroke-width="0.8"/>
<rect x="216.7" y="366.2" width="15.45" height="9.46" fill="url(#hb)" opacity="0.8"/>
<rect x="216.7" y="350.07" width="15.45" height="16.12" fill="url(#hq)" opacity="0.8"/>
<rect x="216.7" y="359.32" width="15.45" height="6.88" fill="url(#hd)" opacity="0.85"/>
<line x1="223.65" y1="347.07" x2="223.65" y2="356.07" stroke="#66c2a5" stroke-width="0.6" opacity="0.8"/>
<line x1="224.65" y1="369.66" x2="224.65" y2="380.66" stroke="#fc8d62" stroke-width="0.6" opacity="0.8"/>
<rect x="232.15" y="366.2" width="17.07" height="21.07" fill="url(#hb)" opacity="0.8"/>
<rect x="232.15" y="348.14" width="17.07" height="18.06" fill="url(#hq)" opacity="0.8"/>
<rect x="232.15" y="366.2" width="17.07" height="3.44" fill="url(#hd)" opacity="0.85"/>
<line x1="239.83" y1="345.14" x2="239.83" y2="354.14" stroke="#66c2a5" stroke-width="0.6" opacity="0.8"/>
<line x1="240.83" y1="381.27" x2="240.83" y2="392.27" stroke="#fc8d62" stroke-width="0.6" opacity="0.8"/>
<rect x="249.22" y="366.2" width="21.14" height="21.07" fill="url(#hb)" opacity="0.8"/>
<rect x="249.22" y="349.43" width="21.14" height="16.77" fill="url(#hq)" opacity="0.8"/>
<rect x="249.22" y="366.2" width="21.14" height="5.59" fill="url(#hd)" opacity="0.85"/>
<line x1="258.73" y1="346.43" x2="258.73" y2="355.43" stroke="#66c2a5" stroke-width="0.6" opacity="0.8"/>
<line x1="259.73" y1="381.27" x2="259.73" y2="392.27" stroke="#fc8d62" stroke-width="0.6" opacity="0.8"/>
<rect x="270.35" y="366.2" width="6.5" height="22.14" fill="url(#hb)" opacity="0.8"/>
<rect x="270.35" y="353.08" width="6.5" height="13.12" fill="url(#hq)" opacity="0.8"/>
<rect x="270.35" y="366.2" width="6.5" height="9.46" fill="url(#hd)" opacity="0.85"/>
<line x1="273.28" y1="350.08" x2="273.28" y2="359.08" stroke="#66c2a5" stroke-width="0.6" opacity="0.8"/>
<line x1="274.28" y1="382.34" x2="274.28" y2="393.34" stroke="#fc8d62" stroke-width="0.6" opacity="0.8"/>
<rect x="276.86" y="366.2" width="8.94" height="23.22" fill="url(#hb)" opacity="0.8"/>
<rect x="276.86" y="351.15" width="8.94" height="15.05" fill="url(#hq)" opacity="0.8"/>
<rect x="276.86" y="366.2" width="8.94" height="8.6" fill="url(#hd)" opacity="0.85"/>
<line x1="280.88" y1="348.15" x2="280.88" y2="357.15" stroke="#66c2a5" stroke-width="0.6" opacity="0.8"/>
<line x1="281.88" y1="383.42" x2="281.88" y2="394.42" stroke="#fc8d62" stroke-width="0.6" opacity="0.8"/>
<line x1="216.7" y1="366.2" x2="285.8" y2="366.2" stroke="#888" stroke-width="0.5"/>
<rect x="216.7" y="331.5" width="69.1" height="68.7" fill="none" stroke="#bdbdbd" stroke-width="0.9"/>
<line x1="214.2" y1="344.7" x2="219.2" y2="344.7" stroke="#222" stroke-width="0.9"/>
<line x1="283.3" y1="344.7" x2="288.3" y2="344.7" stroke="#222" stroke-width="0.9"/>
<line x1="214.2" y1="366.2" x2="219.2" y2="366.2" stroke="#222" stroke-width="0.9"/>
<line x1="283.3" y1="366.2" x2="288.3" y2="366.2" stroke="#222" stroke-width="0.9"/>
<line x1="214.2" y1="387.7" x2="219.2" y2="387.7" stroke="#222" stroke-width="0.9"/>
<line x1="283.3" y1="387.7" x2="288.3" y2="387.7" stroke="#222" stroke-width="0.9"/>
<line x1="226.46" y1="397.2" x2="226.46" y2="400.2" stroke="#222" stroke-width="0.9"/>
<text x="226.46" y="412.7" font-size="11" text-anchor="middle" fill="#222" textLength="26.8" lengthAdjust="spacingAndGlyphs">1950</text>
<line x1="267.1" y1="397.2" x2="267.1" y2="400.2" stroke="#222" stroke-width="0.9"/>
<text x="267.1" y="412.7" font-size="11" text-anchor="middle" fill="#222" textLength="26.8" lengthAdjust="spacingAndGlyphs">2000</text>
<text x="251.25" y="342.7" font-size="11" text-anchor="middle" fill="#222" textLength="58.4" lengthAdjust="spacingAndGlyphs">5 - 7.5 km</text>
<line x1="298.8" y1="344.7" x2="367.9" y2="344.7" stroke="#dcdcdc" stroke-width="0.8"/>
<line x1="298.8" y1="387.7" x2="367.9" y2="387.7" stroke="#dcdcdc" stroke-width="0.8"/>
<rect x="298.8" y="366.2" width="15.45" height="4.6" fill="url(#hb)" opacity="0.8"/>
<rect x="298.8" y="352.87" width="15.45" height="13.33" fill="url(#hq)" opacity="0.8"/>
<rect x="298.8" y="357.17" width="15.45" height="9.03" fill="url(#hd)" opacity="0.85"/>
<line x1="305.75" y1="349.87" x2="305.75" y2="358.87" stroke="#66c2a5" stroke-width="0.6" opacity="0.8"/>
<line x1="306.75" y1="364.8" x2="306.75" y2="375.8" stroke="#fc8d62" stroke-width="0.6" opacity="0.8"/>
<rect x="314.25" y="366.2" width="17.07" height="18.7" fill="url(#hb)" opacity="0.8"/>
<rect x="314.25" y="350.29" width="17.07" height="15.91" fill="url(#hq)" opacity="0.8"/>
<rect x="314.25" y="366.2" width="17.07" height="3.7" fill="url(#hd)" opacity="0.85"/>
<line x1="321.93" y1="347.29" x2="321.93" y2="356.29" stroke="#66c2a5" stroke-width="0.6" opacity="0.8"/>
<line x1="322.93" y1="378.9" x2="322.93" y2="389.9" stroke="#fc8d62" stroke-width="0.6" opacity="0.8"/>
<rect x="331.32" y="366.2" width="21.14" height="17.63" fill="url(#hb)" opacity="0.8"/>
<rect x="331.32" y="351.58" width="21.14" height="14.62" fill="url(#hq)" opacity="0.8"/>
<rect x="331.32" y="366.2" width="21.14" height="3.7" fill="url(#hd)" opacity="0.85"/>
<line x1="340.83" y1="348.58" x2="340.83" y2="357.58" stroke="#66c2a5" stroke-width="0.6" opacity="0.8"/>
<line x1="341.83" y1="377.83" x2="341.83" y2="388.83" stroke="#fc8d62" stroke-width="0.6" opacity="0.8"/>
<rect x="352.45" y="366.2" width="6.5" height="17.2" fill="url(#hb)" opacity="0.8"/>
<rect x="352.45" y="354.16" width="6.5" height="12.04" fill="url(#hq)" opacity="0.8"/>
<rect x="352.45" y="366.2" width="6.5" height="5.59" fill="url(#hd)" opacity="0.85"/>
<line x1="355.38" y1="351.16" x2="355.38" y2="360.16" stroke="#66c2a5" stroke-width="0.6" opacity="0.8"/>
<line x1="356.38" y1="377.4" x2="356.38" y2="388.4" stroke="#fc8d62" stroke-width="0.6" opacity="0.8"/>
<rect x="358.96" y="366.2" width="8.94" height="15.48" fill="url(#hb)" opacity="0.8"/>
<rect x="358.96" y="358.46" width="8.94" height="7.74" fill="url(#hq)" opacity="0.8"/>
<rect x="358.96" y="366.2" width="8.94" height="7.95" fill="url(#hd)" opacity="0.85"/>
<line x1="362.98" y1="355.46" x2="362.98" y2="364.46" stroke="#66c2a5" stroke-width="0.6" opacity="0.8"/>
<line x1="363.98" y1="375.68" x2="363.98" y2="386.68" stroke="#fc8d62" stroke-width="0.6" opacity="0.8"/>
<line x1="298.8" y1="366.2" x2="367.9" y2="366.2" stroke="#888" stroke-width="0.5"/>
<rect x="298.8" y="331.5" width="69.1" height="68.7" fill="none" stroke="#bdbdbd" stroke-width="0.9"/>
<line x1="296.3" y1="344.7" x2="301.3" y2="344.7" stroke="#222" stroke-width="0.9"/>
<line x1="365.4" y1="344.7" x2="370.4" y2="344.7" stroke="#222" stroke-width="0.9"/>
<line x1="296.3" y1="366.2" x2="301.3" y2="366.2" stroke="#222" stroke-width="0.9"/>
<line x1="365.4" y1="366.2" x2="370.4" y2="366.2" stroke="#222" stroke-width="0.9"/>
<line x1="296.3" y1="387.7" x2="301.3" y2="387.7" stroke="#222" stroke-width="0.9"/>
<line x1="365.4" y1="387.7" x2="370.4" y2="387.7" stroke="#222" stroke-width="0.9"/>
<line x1="308.56" y1="397.2" x2="308.56" y2="400.2" stroke="#222" stroke-width="0.9"/>
<text x="308.56" y="412.7" font-size="11" text-anchor="middle" fill="#222" textLength="26.8" lengthAdjust="spacingAndGlyphs">1950</text>
<line x1="349.2" y1="397.2" x2="349.2" y2="400.2" stroke="#222" stroke-width="0.9"/>
<text x="349.2" y="412.7" font-size="11" text-anchor="middle" fill="#222" textLength="26.8" lengthAdjust="spacingAndGlyphs">2000</text>
<text x="333.35" y="342.7" font-size="11" text-anchor="middle" fill="#222" textLength="64.5" lengthAdjust="spacingAndGlyphs">7.5 - 10 km</text>
<line x1="379.8" y1="344.7" x2="449.4" y2="344.7" stroke="#dcdcdc" stroke-width="0.8"/>
<line x1="379.8" y1="387.7" x2="449.4" y2="387.7" stroke="#dcdcdc" stroke-width="0.8"/>
<rect x="379.8" y="366.2" width="22.15" height="21.07" fill="url(#hb)" opacity="0.8"/>
<rect x="379.8" y="347.28" width="22.15" height="18.92" fill="url(#hq)" opacity="0.8"/>
<rect x="379.8" y="366.2" width="22.15" height="3.01" fill="url(#hd)" opacity="0.85"/>
<line x1="389.77" y1="344.28" x2="389.77" y2="353.28" stroke="#66c2a5" stroke-width="0.6" opacity="0.8"/>
<line x1="390.77" y1="381.27" x2="390.77" y2="392.27" stroke="#fc8d62" stroke-width="0.6" opacity="0.8"/>
<rect x="401.95" y="366.2" width="27.42" height="23.22" fill="url(#hb)" opacity="0.8"/>
<rect x="401.95" y="348.14" width="27.42" height="18.06" fill="url(#hq)" opacity="0.8"/>
<rect x="401.95" y="366.2" width="27.42" height="5.59" fill="url(#hd)" opacity="0.85"/>
<line x1="414.28" y1="345.14" x2="414.28" y2="354.14" stroke="#66c2a5" stroke-width="0.6" opacity="0.8"/>
<line x1="415.28" y1="383.42" x2="415.28" y2="394.42" stroke="#fc8d62" stroke-width="0.6" opacity="0.8"/>
<rect x="429.36" y="366.2" width="8.44" height="21.07" fill="url(#hb)" opacity="0.8"/>
<rect x="429.36" y="353.3" width="8.44" height="12.9" fill="url(#hq)" opacity="0.8"/>
<rect x="429.36" y="366.2" width="8.44" height="7.74" fill="url(#hd)" opacity="0.85"/>
<line x1="433.16" y1="350.3" x2="433.16" y2="359.3" stroke="#66c2a5" stroke-width="0.6" opacity="0.8"/>
<line x1="434.16" y1="381.27" x2="434.16" y2="392.27" stroke="#fc8d62" stroke-width="0.6" opacity="0.8"/>
<rect x="437.8" y="366.2" width="11.6" height="21.07" fill="url(#hb)" opacity="0.8"/>
<rect x="437.8" y="352.22" width="11.6" height="13.98" fill="url(#hq)" opacity="0.8"/>
<rect x="437.8" y="366.2" width="11.6" height="7.95" fill="url(#hd)" opacity="0.85"/>
<line x1="443.02" y1="349.22" x2="443.02" y2="358.22" stroke="#66c2a5" stroke-width="0.6" opacity="0.8"/>
<line x1="444.02" y1="381.27" x2="444.02" y2="392.27" stroke="#fc8d62" stroke-width="0.6" opacity="0.8"/>
<line x1="379.8" y1="366.2" x2="449.4" y2="366.2" stroke="#888" stroke-width="0.5"/>
<rect x="379.8" y="331.5" width="69.6" height="68.7" fill="none" stroke="#bdbdbd" stroke-width="0.9"/>
<line x1="377.3" y1="344.7" x2="382.3" y2="344.7" stroke="#222" stroke-width="0.9"/>
<line x1="446.9" y1="344.7" x2="451.9" y2="344.7" stroke="#222" stroke-width="0.9"/>
<line x1="377.3" y1="366.2" x2="382.3" y2="366.2" stroke="#222" stroke-width="0.9"/>
<line x1="446.9" y1="366.2" x2="451.9" y2="366.2" stroke="#222" stroke-width="0.9"/>
<line x1="377.3" y1="387.7" x2="382.3" y2="387.7" stroke="#222" stroke-width="0.9"/>
<line x1="446.9" y1="387.7" x2="451.9" y2="387.7" stroke="#222" stroke-width="0.9"/>
<line x1="398.78" y1="397.2" x2="398.78" y2="400.2" stroke="#222" stroke-width="0.9"/>
<text x="395.08" y="412.7" font-size="11" text-anchor="middle" fill="#222" textLength="26.8" lengthAdjust="spacingAndGlyphs">1975</text>
<line x1="425.15" y1="397.2" x2="425.15" y2="400.2" stroke="#222" stroke-width="0.9"/>
<text x="428.45" y="412.7" font-size="11" text-anchor="middle" fill="#222" textLength="26.8" lengthAdjust="spacingAndGlyphs">2000</text>
<text x="414.6" y="342.7" font-size="11" text-anchor="middle" fill="#222" textLength="50" lengthAdjust="spacingAndGlyphs">&lt; 2.5 km</text>
<line x1="463.1" y1="344.7" x2="532.7" y2="344.7" stroke="#dcdcdc" stroke-width="0.8"/>
<line x1="463.1" y1="387.7" x2="532.7" y2="387.7" stroke="#dcdcdc" stroke-width="0.8"/>
<rect x="463.1" y="366.2" width="22.15" height="27.52" fill="url(#hb)" opacity="0.8"/>
<rect x="463.1" y="339.97" width="22.15" height="26.23" fill="url(#hq)" opacity="0.8"/>
<rect x="463.1" y="366.2" width="22.15" height="1.07" fill="url(#hd)" opacity="0.85"/>
<line x1="473.07" y1="336.97" x2="473.07" y2="345.97" stroke="#66c2a5" stroke-width="0.6" opacity="0.8"/>
<line x1="474.07" y1="387.72" x2="474.07" y2="398.72" stroke="#fc8d62" stroke-width="0.6" opacity="0.8"/>
<rect x="485.25" y="366.2" width="27.42" height="30.53" fill="url(#hb)" opacity="0.8"/>
<rect x="485.25" y="340.83" width="27.42" height="25.37" fill="url(#hq)" opacity="0.8"/>
<rect x="485.25" y="366.2" width="27.42" height="5.59" fill="url(#hd)" opacity="0.85"/>
<line x1="497.58" y1="337.83" x2="497.58" y2="346.83" stroke="#66c2a5" stroke-width="0.6" opacity="0.8"/>
<line x1="498.58" y1="390.73" x2="498.58" y2="401.73" stroke="#fc8d62" stroke-width="0.6" opacity="0.8"/>
<rect x="512.66" y="366.2" width="8.44" height="26.23" fill="url(#hb)" opacity="0.8"/>
<rect x="512.66" y="345.99" width="8.44" height="20.21" fill="url(#hq)" opacity="0.8"/>
<rect x="512.66" y="366.2" width="8.44" height="6.67" fill="url(#hd)" opacity="0.85"/>
<line x1="516.46" y1="342.99" x2="516.46" y2="351.99" stroke="#66c2a5" stroke-width="0.6" opacity="0.8"/>
<line x1="517.46" y1="386.43" x2="517.46" y2="397.43" stroke="#fc8d62" stroke-width="0.6" opacity="0.8"/>
<rect x="521.1" y="366.2" width="11.6" height="26.88" fill="url(#hb)" opacity="0.8"/>
<rect x="521.1" y="347.06" width="11.6" height="19.13" fill="url(#hq)" opacity="0.8"/>
<rect x="521.1" y="366.2" width="11.6" height="7.74" fill="url(#hd)" opacity="0.85"/>
<line x1="526.32" y1="344.06" x2="526.32" y2="353.06" stroke="#66c2a5" stroke-width="0.6" opacity="0.8"/>
<line x1="527.32" y1="387.07" x2="527.32" y2="398.07" stroke="#fc8d62" stroke-width="0.6" opacity="0.8"/>
<line x1="463.1" y1="366.2" x2="532.7" y2="366.2" stroke="#888" stroke-width="0.5"/>
<rect x="463.1" y="331.5" width="69.6" height="68.7" fill="none" stroke="#bdbdbd" stroke-width="0.9"/>
<line x1="460.6" y1="344.7" x2="465.6" y2="344.7" stroke="#222" stroke-width="0.9"/>
<line x1="530.2" y1="344.7" x2="535.2" y2="344.7" stroke="#222" stroke-width="0.9"/>
<line x1="460.6" y1="366.2" x2="465.6" y2="366.2" stroke="#222" stroke-width="0.9"/>
<line x1="530.2" y1="366.2" x2="535.2" y2="366.2" stroke="#222" stroke-width="0.9"/>
<line x1="460.6" y1="387.7" x2="465.6" y2="387.7" stroke="#222" stroke-width="0.9"/>
<line x1="530.2" y1="387.7" x2="535.2" y2="387.7" stroke="#222" stroke-width="0.9"/>
<line x1="482.08" y1="397.2" x2="482.08" y2="400.2" stroke="#222" stroke-width="0.9"/>
<text x="478.38" y="412.7" font-size="11" text-anchor="middle" fill="#222" textLength="26.8" lengthAdjust="spacingAndGlyphs">1975</text>
<line x1="508.45" y1="397.2" x2="508.45" y2="400.2" stroke="#222" stroke-width="0.9"/>
<text x="511.75" y="412.7" font-size="11" text-anchor="middle" fill="#222" textLength="26.8" lengthAdjust="spacingAndGlyphs">2000</text>
<text x="497.9" y="342.7" font-size="11" text-anchor="middle" fill="#222" textLength="58" lengthAdjust="spacingAndGlyphs">2.5 - 4 km</text>
<line x1="546.5" y1="344.7" x2="616.1" y2="344.7" stroke="#dcdcdc" stroke-width="0.8"/>
<line x1="546.5" y1="387.7" x2="616.1" y2="387.7" stroke="#dcdcdc" stroke-width="0.8"/>
<rect x="546.5" y="366.2" width="22.15" height="9.89" fill="url(#hb)" opacity="0.8"/>
<rect x="546.5" y="358.03" width="22.15" height="8.17" fill="url(#hq)" opacity="0.8"/>
<rect x="546.5" y="366.2" width="22.15" height="1.85" fill="url(#hd)" opacity="0.85"/>
<line x1="556.47" y1="355.03" x2="556.47" y2="364.03" stroke="#66c2a5" stroke-width="0.6" opacity="0.8"/>
<line x1="557.47" y1="370.09" x2="557.47" y2="381.09" stroke="#fc8d62" stroke-width="0.6" opacity="0.8"/>
<rect x="568.65" y="366.2" width="27.42" height="11.61" fill="url(#hb)" opacity="0.8"/>
<rect x="568.65" y="359.1" width="27.42" height="7.1" fill="url(#hq)" opacity="0.8"/>
<rect x="568.65" y="366.2" width="27.42" height="4.6" fill="url(#hd)" opacity="0.85"/>
<line x1="580.98" y1="356.1" x2="580.98" y2="365.1" stroke="#66c2a5" stroke-width="0.6" opacity="0.8"/>
<line x1="581.98" y1="371.81" x2="581.98" y2="382.81" stroke="#fc8d62" stroke-width="0.6" opacity="0.8"/>
<rect x="596.06" y="366.2" width="8.44" height="16.34" fill="url(#hb)" opacity="0.8"/>
<rect x="596.06" y="356.31" width="8.44" height="9.89" fill="url(#hq)" opacity="0.8"/>
<rect x="596.06" y="366.2" width="8.44" height="6.67" fill="url(#hd)" opacity="0.85"/>
<line x1="599.86" y1="353.31" x2="599.86" y2="362.31" stroke="#66c2a5" stroke-width="0.6" opacity="0.8"/>
<line x1="600.86" y1="376.54" x2="600.86" y2="387.54" stroke="#fc8d62" stroke-width="0.6" opacity="0.8"/>
<rect x="604.5" y="366.2" width="11.6" height="18.49" fill="url(#hb)" opacity="0.8"/>
<rect x="604.5" y="355.45" width="11.6" height="10.75" fill="url(#hq)" opacity="0.8"/>
<rect x="604.5" y="366.2" width="11.6" height="7.74" fill="url(#hd)" opacity="0.85"/>
<line x1="609.72" y1="352.45" x2="609.72" y2="361.45" stroke="#66c2a5" stroke-width="0.6" opacity="0.8"/>
<line x1="610.72" y1="378.69" x2="610.72" y2="389.69" stroke="#fc8d62" stroke-width="0.6" opacity="0.8"/>
<line x1="546.5" y1="366.2" x2="616.1" y2="366.2" stroke="#888" stroke-width="0.5"/>
<rect x="546.5" y="331.5" width="69.6" height="68.7" fill="none" stroke="#bdbdbd" stroke-width="0.9"/>
<line x1="544" y1="344.7" x2="549" y2="344.7" stroke="#222" stroke-width="0.9"/>
<line x1="613.6" y1="344.7" x2="618.6" y2="344.7" stroke="#222" stroke-width="0.9"/>
<line x1="544" y1="366.2" x2="549" y2="366.2" stroke="#222" stroke-width="0.9"/>
<line x1="613.6" y1="366.2" x2="618.6" y2="366.2" stroke="#222" stroke-width="0.9"/>
<line x1="544" y1="387.7" x2="549" y2="387.7" stroke="#222" stroke-width="0.9"/>
<line x1="613.6" y1="387.7" x2="618.6" y2="387.7" stroke="#222" stroke-width="0.9"/>
<line x1="565.48" y1="397.2" x2="565.48" y2="400.2" stroke="#222" stroke-width="0.9"/>
<text x="561.78" y="412.7" font-size="11" text-anchor="middle" fill="#222" textLength="26.8" lengthAdjust="spacingAndGlyphs">1975</text>
<line x1="591.85" y1="397.2" x2="591.85" y2="400.2" stroke="#222" stroke-width="0.9"/>
<text x="595.15" y="412.7" font-size="11" text-anchor="middle" fill="#222" textLength="26.8" lengthAdjust="spacingAndGlyphs">2000</text>
<text x="581.3" y="342.7" font-size="11" text-anchor="middle" fill="#222" textLength="46.9" lengthAdjust="spacingAndGlyphs">4 - 5 km</text>
<rect x="50.7" y="421.3" width="14.3" height="69" fill="#e9e9e9"/>
<rect x="65" y="421.3" width="2.7" height="69" fill="#e9e9e9"/>
<rect x="107.2" y="421.3" width="12.6" height="69" fill="#e9e9e9"/>
<line x1="50.7" y1="476.6" x2="119.8" y2="476.6" stroke="#e3e3e3" stroke-width="0.8"/>
<line x1="50.7" y1="462.9" x2="119.8" y2="462.9" stroke="#e3e3e3" stroke-width="0.8"/>
<line x1="50.7" y1="449.2" x2="119.8" y2="449.2" stroke="#e3e3e3" stroke-width="0.8"/>
<line x1="50.7" y1="435.5" x2="119.8" y2="435.5" stroke="#e3e3e3" stroke-width="0.8"/>
<polyline points="64.2,456.8 65.98,457.49 68.56,458.47 71.26,459.69 73.4,461.1 74.73,462.84 75.64,464.89 76.4,466.96 77.3,468.8 78.42,470.43 79.61,471.95 80.79,473.23 81.9,474.1 82.87,474.55 83.75,474.64 84.66,474.39 85.7,473.8 86.96,472.73 88.35,471.22 89.77,469.55 91.1,468 92.27,466.58 93.36,465.17 94.46,463.83 95.7,462.6 97.15,461.51 98.75,460.53 100.35,459.63 101.8,458.8 103.16,458 104.48,457.26 105.61,456.64 106.4,456.2" fill="none" stroke="#333" stroke-width="0.6" stroke-linejoin="round"/>
<polyline points="67.3,457.78 67.69,457.66 68.2,457.64 68.81,456.75 69.49,456.05 70.23,455.7 71,455.83 71.8,455.15 72.6,455.09 73.41,454.35 74.25,454.51 75.13,454.62 76.04,453.72 76.98,454.33 77.95,454.36 78.96,454.35 80,453.44 81.1,453.39 82.27,454.02 83.5,453.41 84.74,453.19 85.99,453.48 87.22,453.09 88.39,453.08 89.5,453.09 90.54,452.92 91.54,453.57 92.51,453.46 93.44,452.96 94.36,453.09 95.25,453.04 96.13,453.59 97,453.98 97.88,453.98 98.76,453.93 99.63,454.61 100.48,455.02 101.3,454.6 102.06,455.02 102.77,455.53 103.4,455.8 103.96,456.17 104.46,456.46 104.91,456.47 105.3,456.92 105.64,457.04 105.94,456.79 106.19,457.04 106.4,457.28" fill="none" stroke="#fbe48f" stroke-width="0.6" stroke-linejoin="round"/>
<polyline points="67.3,456.45 67.69,455.96 68.2,456.29 68.81,455.15 69.49,454.54 70.23,454.9 71,453.76 71.8,453.51 72.6,453.36 73.41,453.1 74.25,453.03 75.13,453.04 76.04,452.55 76.98,452.22 77.95,452.7 78.96,452.58 80,452.28 81.1,451.97 82.27,452.12 83.5,451.76 84.74,451.76 85.99,451.87 87.22,452.16 88.39,451.9 89.5,451.71 90.54,452.05 91.54,452.16 92.51,452.45 93.44,452.08 94.36,451.74 95.25,452.6 96.13,452.71 97,452.19 97.88,452.54 98.76,453.18 99.63,453.02 100.48,453.12 101.3,454.06 102.06,454.42 102.77,453.87 103.4,455 103.96,454.65 104.46,454.84 104.91,454.84 105.3,455.06 105.64,456.08 105.94,455.57 106.19,455.83 106.4,456.08" fill="none" stroke="#62c462" stroke-width="0.6" stroke-linejoin="round"/>
<polyline points="50.7,424.35 51.1,425.24 51.63,426.29 52.26,427.62 52.96,430.38 53.7,432.25 54.44,433.25 55.15,435.34 55.8,436.57 56.4,438.67 57,440.25 57.6,440.87 58.18,442.25 58.76,444.5 59.32,445.2 59.87,446.21 60.4,447.33 60.92,448.89 61.42,450.56 61.91,451.21 62.39,452.08 62.86,453.91 63.32,454.79 63.76,454.99 64.2,455.81 64.6,456.34 64.95,455.92 65.28,456.62 65.61,456.87 65.95,456.44 66.33,456.38 66.77,455.56 67.3,456.58 67.94,457.02 68.67,457.6 69.48,457.7 70.32,458.93 71.16,458.79 71.98,459.97 72.74,459.59 73.4,460.34 73.96,459.76 74.45,459.81 74.88,460.27 75.27,460.04 75.66,458.77 76.07,459.12 76.5,458.2 77,459.05 77.56,459.07 78.15,458.47 78.78,458.45 79.42,458.69 80.06,459.28 80.7,458.7 81.32,458.83 81.9,459.37 82.44,459.51 82.96,458.93 83.45,458.72 83.94,458.63 84.42,457.93 84.92,458.78 85.45,458.15 86,458.51 86.58,458.58 87.18,457.61 87.8,457.93 88.42,458.25 89.07,458.02 89.73,458.64 90.41,458.36 91.1,459.42 91.82,458.77 92.59,459.48 93.38,459.71 94.18,459.97 94.98,459.74 95.76,459.88 96.5,459.85 97.2,460.15 97.85,459.55 98.46,459.95 99.03,459.41 99.59,459.58 100.14,458.77 100.69,458.99 101.24,458.31 101.8,458.21 102.36,457.5 102.91,457.48 103.45,456.49 104,457.12 104.56,456.41 105.14,455.42 105.75,455.49 106.4,454.96 107.09,455.44 107.81,454.61 108.56,454.7 109.34,453.9 110.13,453.66 110.94,453.4 111.77,453.56 112.6,452.51 113.5,451.71 114.5,450.91 115.54,449.63 116.59,448.71 117.58,447.42 118.48,446.66 119.24,445.32 119.8,444.53" fill="none" stroke="#2f9a8c" stroke-width="0.6" stroke-linejoin="round"/>
<polyline points="50.7,424.98 51.1,426.01 51.63,427.37 52.26,429.18 52.96,430.82 53.7,433.24 54.44,434.72 55.15,436.26 55.8,438.4 56.4,439.9 57,440.67 57.6,442.98 58.18,444.14 58.76,444.77 59.32,446.04 59.87,447.36 60.4,449.59 60.92,449.76 61.42,450.86 61.91,451.99 62.39,453.13 62.86,454.27 63.32,455.62 63.76,456.21 64.2,456.42 64.6,457.24 64.95,457.93 65.28,456.97 65.61,457.27 65.95,457.49 66.33,457.35 66.77,457.47 67.3,457.67 67.94,458.33 68.67,457.91 69.48,459.2 70.32,459.95 71.16,459.83 71.98,461.11 72.74,460.97 73.4,461.87 73.96,460.81 74.45,460.65 74.88,461.08 75.27,460.16 75.66,460.8 76.07,459.62 76.5,459.51 77,459.57 77.56,460.03 78.15,460.01 78.78,460.23 79.42,460.02 80.06,459.78 80.7,459.79 81.32,459.79 81.9,460.08 82.44,459.62 82.96,459.48 83.45,459.7 83.94,459.2 84.42,459.3 84.92,459.91 85.45,459.82 86,459.53 86.58,458.81 87.18,459.51 87.8,459.21 88.42,458.98 89.07,459.4 89.73,460.34 90.41,459.57 91.1,459.54 91.82,460.73 92.59,460.67 93.38,460.93 94.18,461.02 94.98,460.76 95.76,461.28 96.5,461.55 97.2,461.19 97.85,460.95 98.46,460.73 99.03,460.45 99.59,460.57 100.14,460.46 100.69,460.19 101.24,459.13 101.8,458.59 102.36,458.75 102.91,458.32 103.45,457.88 104,457.66 104.56,457.87 105.14,457.45 105.75,456.66 106.4,456.94 107.09,456.29 107.81,455.97 108.56,455.18 109.34,455.82 110.13,455.02 110.94,455.21 111.77,454.22 112.6,453.16 113.5,453.25 114.5,452.43 115.54,451.1 116.59,450.17 117.58,448.33 118.48,447.77 119.24,446.66 119.8,445.44" fill="none" stroke="#2a6cae" stroke-width="0.7" stroke-linejoin="round"/>
<polyline points="50.7,426.76 51.1,427.26 51.63,428.72 52.26,430.15 52.96,432.05 53.7,433.88 54.44,436.11 55.15,437.24 55.8,438.89 56.4,440.12 57,441.74 57.6,443.65 58.18,444.33 58.76,446.22 59.32,447.32 59.87,448.2 60.4,449.81 60.92,451.54 61.42,451.89 61.91,453.44 62.39,454.49 62.86,455.68 63.32,456.11 63.76,457.1 64.2,458.28 64.6,458.61 64.95,458.4 65.28,458.88 65.61,458.25 65.95,458.1 66.33,458.61 66.77,458.28 67.3,458.26 67.94,458.78 68.67,459.18 69.48,459.83 70.32,460.86 71.16,461.28 71.98,461.51 72.74,461.87 73.4,462.03 73.96,462.19 74.45,461.95 74.88,462.54 75.27,462.25 75.66,461.36 76.07,461.25 76.5,461.23 77,460.76 77.56,460.7 78.15,460.49 78.78,460.41 79.42,460.56 80.06,460.61 80.7,461.21 81.32,461.08 81.9,461.41 82.44,460.83 82.96,460.34 83.45,460.25 83.94,461.12 84.42,460.11 84.92,460.17 85.45,460.63 86,459.7 86.58,460.56 87.18,460.71 87.8,460.86 88.42,459.94 89.07,461.07 89.73,460.84 90.41,461.32 91.1,461.41 91.82,461.39 92.59,461.08 93.38,461.94 94.18,461.85 94.98,462.61 95.76,461.67 96.5,462.58 97.2,462.9 97.85,461.91 98.46,462.32 99.03,461.66 99.59,461.69 100.14,461 100.69,460.52 101.24,460.69 101.8,460.38 102.36,459.59 102.91,459.64 103.45,458.53 104,459.16 104.56,458.52 105.14,458 105.75,457.68 106.4,457.79 107.09,457.46 107.81,457.09 108.56,456.89 109.34,456.86 110.13,456.37 110.94,455.57 111.77,455.42 112.6,454.69 113.5,453.42 114.5,452.74 115.54,451.51 116.59,449.98 117.58,449.88 118.48,448.5 119.24,447.54 119.8,447.46" fill="none" stroke="#3b2a8e" stroke-width="0.6" stroke-linejoin="round"/>
<rect x="50.7" y="421.3" width="69.1" height="69" fill="none" stroke="#bdbdbd" stroke-width="0.9"/>
<line x1="48.2" y1="490.3" x2="53.2" y2="490.3" stroke="#222" stroke-width="0.9"/>
<line x1="117.3" y1="490.3" x2="122.3" y2="490.3" stroke="#222" stroke-width="0.9"/>
<line x1="48.2" y1="476.6" x2="53.2" y2="476.6" stroke="#222" stroke-width="0.9"/>
<line x1="117.3" y1="476.6" x2="122.3" y2="476.6" stroke="#222" stroke-width="0.9"/>
<line x1="48.2" y1="462.9" x2="53.2" y2="462.9" stroke="#222" stroke-width="0.9"/>
<line x1="117.3" y1="462.9" x2="122.3" y2="462.9" stroke="#222" stroke-width="0.9"/>
<line x1="48.2" y1="449.2" x2="53.2" y2="449.2" stroke="#222" stroke-width="0.9"/>
<line x1="117.3" y1="449.2" x2="122.3" y2="449.2" stroke="#222" stroke-width="0.9"/>
<line x1="48.2" y1="435.5" x2="53.2" y2="435.5" stroke="#222" stroke-width="0.9"/>
<line x1="117.3" y1="435.5" x2="122.3" y2="435.5" stroke="#222" stroke-width="0.9"/>
<line x1="48.2" y1="421.8" x2="53.2" y2="421.8" stroke="#222" stroke-width="0.9"/>
<line x1="117.3" y1="421.8" x2="122.3" y2="421.8" stroke="#222" stroke-width="0.9"/>
<line x1="51.2" y1="487.3" x2="51.2" y2="491.8" stroke="#222" stroke-width="0.9"/>
<line x1="75.7" y1="487.3" x2="75.7" y2="491.8" stroke="#222" stroke-width="0.9"/>
<line x1="100.6" y1="487.3" x2="100.6" y2="491.8" stroke="#222" stroke-width="0.9"/>
<text x="51.2" y="502.6" font-size="11" text-anchor="middle" fill="#222" textLength="6.4" lengthAdjust="spacingAndGlyphs">0</text>
<text x="100.6" y="502.6" font-size="11" text-anchor="middle" fill="#222" textLength="6.4" lengthAdjust="spacingAndGlyphs">4</text>
<text x="85.25" y="431.6" font-size="11" text-anchor="middle" fill="#222" textLength="39" lengthAdjust="spacingAndGlyphs">2.5 km</text>
<text x="45" y="494.2" font-size="11" text-anchor="end" fill="#222" textLength="6.4" lengthAdjust="spacingAndGlyphs">0</text>
<text x="45" y="466.8" font-size="11" text-anchor="end" fill="#222" textLength="19.2" lengthAdjust="spacingAndGlyphs">400</text>
<text x="45" y="439.4" font-size="11" text-anchor="end" fill="#222" textLength="19.2" lengthAdjust="spacingAndGlyphs">800</text>
<rect x="133.7" y="421.3" width="15" height="69" fill="#e9e9e9"/>
<rect x="196.4" y="421.3" width="6.4" height="69" fill="#e9e9e9"/>
<line x1="133.7" y1="476.6" x2="202.8" y2="476.6" stroke="#e3e3e3" stroke-width="0.8"/>
<line x1="133.7" y1="462.9" x2="202.8" y2="462.9" stroke="#e3e3e3" stroke-width="0.8"/>
<line x1="133.7" y1="449.2" x2="202.8" y2="449.2" stroke="#e3e3e3" stroke-width="0.8"/>
<line x1="133.7" y1="435.5" x2="202.8" y2="435.5" stroke="#e3e3e3" stroke-width="0.8"/>
<polyline points="151,451.9 151.52,452.64 152.26,453.71 153.15,454.82 154.1,455.7 155.04,456.22 156.02,456.54 157.19,456.82 158.7,457.2 160.71,457.74 163.11,458.34 165.6,458.96 167.9,459.5 170.04,459.88 172.13,460.16 174.03,460.51 175.6,461.1 176.72,461.95 177.49,462.98 178.09,464.21 178.7,465.7 179.33,467.75 179.9,470.23 180.44,472.55 181,474.1 181.52,474.73 182.01,474.76 182.56,474.28 183.3,473.4 184.29,471.97 185.46,469.99 186.7,467.79 187.9,465.7 189.1,463.7 190.34,461.66 191.51,459.71 192.5,458 193.29,456.52 193.94,455.22 194.44,454.15 194.8,453.4" fill="none" stroke="#333" stroke-width="0.6" stroke-linejoin="round"/>
<polyline points="146.4,445.62 146.47,445.67 146.45,445.71 146.42,446.18 146.44,446.03 146.61,446.94 146.99,446.71 147.66,447.25 148.7,447.42 150.19,446.72 152.1,447.21 154.31,446.14 156.73,446.28 159.25,446.22 161.78,445.13 164.19,445.63 166.4,445.1 168.45,444.76 170.45,445.46 172.41,445.23 174.34,445.45 176.24,446.03 178.12,446.23 179.97,446.29 181.8,446.63 183.69,446.58 185.65,446.66 187.63,447.39 189.57,447.46 191.4,447.2 193.05,447.77 194.47,448.13 195.6,447.76 196.39,447.57 196.87,447.44 197.13,447.2 197.21,447.52 197.19,447.46 197.12,447.27 197.07,446.62 197.1,446.91" fill="none" stroke="#fbe48f" stroke-width="0.6" stroke-linejoin="round"/>
<polyline points="146.4,444.35 146.47,444.46 146.45,444.72 146.42,444.93 146.44,444.76 146.61,445.1 146.99,445.47 147.66,446.08 148.7,446 150.19,445.43 152.1,445.71 154.31,445.25 156.73,444.76 159.25,444.8 161.78,444.27 164.19,444.28 166.4,443.96 168.45,444.04 170.45,444.31 172.41,443.8 174.34,444.72 176.24,444.46 178.12,444.66 179.97,445.1 181.8,444.55 183.69,445.18 185.65,445.64 187.63,445.59 189.57,446.27 191.4,446.39 193.05,446.26 194.47,446.67 195.6,446.73 196.39,446.36 196.87,446.5 197.13,446.4 197.21,445.95 197.19,445.61 197.12,445.53 197.07,445.34 197.1,445.37" fill="none" stroke="#62c462" stroke-width="0.6" stroke-linejoin="round"/>
<polyline points="133.7,432.88 134.21,432.62 134.9,434.19 135.71,434.84 136.62,435.77 137.57,436.29 138.53,437.03 139.45,438.09 140.3,439.16 141.1,439.86 141.9,439.84 142.69,440.77 143.48,440.59 144.24,441.7 144.99,441.9 145.71,442.15 146.4,443.12 147.06,444.23 147.69,444.93 148.3,445.91 148.89,446.12 149.45,447.31 149.99,448.24 150.51,448.87 151,448.99 151.45,450.15 151.85,450.76 152.21,450.61 152.55,450.71 152.89,451.66 153.25,451.69 153.65,451.56 154.1,451.29 154.57,451.58 155.04,451.65 155.51,450.89 156.02,450.17 156.57,450.47 157.19,450.14 157.89,449.41 158.7,449.93 159.62,449.28 160.64,449.4 161.74,449.37 162.91,448.48 164.13,448.5 165.38,448.61 166.64,448.53 167.9,448.86 169.17,448.37 170.49,449.35 171.84,449.5 173.21,449.12 174.59,450.06 175.97,449.42 177.34,450.33 178.7,450.01 180.08,450.63 181.52,449.89 182.99,450.08 184.44,450.03 185.84,449.66 187.16,449.26 188.36,450.09 189.4,449.71 190.28,449.75 191.01,450.4 191.64,450.19 192.18,450.79 192.65,450.95 193.1,452.12 193.54,451.51 194,451.74 194.44,451.77 194.82,450.66 195.16,449.22 195.48,449.14 195.81,448.21 196.18,446.64 196.6,445.76 197.1,444.97 197.73,444.19 198.48,443.21 199.3,441.85 200.14,441.25 200.97,441.54 201.71,440.83 202.34,439.99 202.8,439.54" fill="none" stroke="#2f9a8c" stroke-width="0.6" stroke-linejoin="round"/>
<polyline points="133.7,434.12 134.21,434.37 134.9,434.18 135.71,435.89 136.62,436.01 137.57,437.62 138.53,438.39 139.45,439.31 140.3,440.16 141.1,440.39 141.9,441.39 142.69,441.78 143.48,442.41 144.24,442.07 144.99,443.09 145.71,444.11 146.4,443.92 147.06,444.72 147.69,446.17 148.3,447.23 148.89,447.75 149.45,448.86 149.99,448.8 150.51,449.55 151,449.99 151.45,451.06 151.85,451.94 152.21,451.94 152.55,451.87 152.89,452.94 153.25,452.11 153.65,452.43 154.1,453.15 154.57,452.52 155.04,452.57 155.51,452.17 156.02,451.47 156.57,450.94 157.19,451.49 157.89,450.94 158.7,450.33 159.62,450.42 160.64,449.59 161.74,450.55 162.91,450.13 164.13,450.37 165.38,449.25 166.64,449.83 167.9,449.34 169.17,450.08 170.49,449.95 171.84,450.02 173.21,450.61 174.59,450.53 175.97,451.24 177.34,450.6 178.7,451.72 180.08,451.08 181.52,451.1 182.99,451.47 184.44,450.81 185.84,451.2 187.16,450.26 188.36,451.07 189.4,450.26 190.28,451.31 191.01,451.69 191.64,451.91 192.18,452.08 192.65,452.2 193.1,452.86 193.54,453.17 194,452.42 194.44,451.84 194.82,451.29 195.16,451.36 195.48,449.98 195.81,449.11 196.18,447.32 196.6,446.42 197.1,446.02 197.73,444.61 198.48,443.99 199.3,443.15 200.14,442.19 200.97,442.62 201.71,441.46 202.34,441.21 202.8,440.03" fill="none" stroke="#2a6cae" stroke-width="0.7" stroke-linejoin="round"/>
<polyline points="133.7,435.11 134.21,434.87 134.9,435.21 135.71,436.79 136.62,437.4 137.57,438.71 138.53,439.01 139.45,440.39 140.3,440.9 141.1,441.24 141.9,442.27 142.69,442.1 143.48,443.15 144.24,443.87 144.99,443.66 145.71,444.99 146.4,445.28 147.06,445.56 147.69,446.79 148.3,448.32 148.89,448.04 149.45,449.56 149.99,450.13 150.51,450.86 151,452.09 151.45,452.12 151.85,452.59 152.21,452.92 152.55,453.72 152.89,452.95 153.25,454.22 153.65,453.97 154.1,454.13 154.57,454.02 155.04,452.95 155.51,452.78 156.02,452.51 156.57,452.59 157.19,451.67 157.89,451.38 158.7,451.89 159.62,451.18 160.64,450.97 161.74,450.87 162.91,450.57 164.13,451.22 165.38,451.24 166.64,450.49 167.9,450.85 169.17,450.4 170.49,451.58 171.84,451.27 173.21,451.12 174.59,451.32 175.97,451.66 177.34,452.67 178.7,452.55 180.08,451.91 181.52,451.71 182.99,451.55 184.44,451.7 185.84,451.71 187.16,451.57 188.36,451.94 189.4,452.08 190.28,451.9 191.01,452.36 191.64,453.27 192.18,453.48 192.65,453.48 193.1,453.51 193.54,453.58 194,454.2 194.44,453.61 194.82,453.2 195.16,451.83 195.48,451.01 195.81,449.24 196.18,449.23 196.6,447.27 197.1,446.97 197.73,445.86 198.48,445.77 199.3,445.03 200.14,443.47 200.97,442.85 201.71,442.66 202.34,442.08 202.8,441.55" fill="none" stroke="#3b2a8e" stroke-width="0.6" stroke-linejoin="round"/>
<rect x="133.7" y="421.3" width="69.1" height="69" fill="none" stroke="#bdbdbd" stroke-width="0.9"/>
<line x1="131.2" y1="490.3" x2="136.2" y2="490.3" stroke="#222" stroke-width="0.9"/>
<line x1="200.3" y1="490.3" x2="205.3" y2="490.3" stroke="#222" stroke-width="0.9"/>
<line x1="131.2" y1="476.6" x2="136.2" y2="476.6" stroke="#222" stroke-width="0.9"/>
<line x1="200.3" y1="476.6" x2="205.3" y2="476.6" stroke="#222" stroke-width="0.9"/>
<line x1="131.2" y1="462.9" x2="136.2" y2="462.9" stroke="#222" stroke-width="0.9"/>
<line x1="200.3" y1="462.9" x2="205.3" y2="462.9" stroke="#222" stroke-width="0.9"/>
<line x1="131.2" y1="449.2" x2="136.2" y2="449.2" stroke="#222" stroke-width="0.9"/>
<line x1="200.3" y1="449.2" x2="205.3" y2="449.2" stroke="#222" stroke-width="0.9"/>
<line x1="131.2" y1="435.5" x2="136.2" y2="435.5" stroke="#222" stroke-width="0.9"/>
<line x1="200.3" y1="435.5" x2="205.3" y2="435.5" stroke="#222" stroke-width="0.9"/>
<line x1="131.2" y1="421.8" x2="136.2" y2="421.8" stroke="#222" stroke-width="0.9"/>
<line x1="200.3" y1="421.8" x2="205.3" y2="421.8" stroke="#222" stroke-width="0.9"/>
<line x1="133.7" y1="487.3" x2="133.7" y2="491.8" stroke="#222" stroke-width="0.9"/>
<line x1="157.5" y1="487.3" x2="157.5" y2="491.8" stroke="#222" stroke-width="0.9"/>
<line x1="181.5" y1="487.3" x2="181.5" y2="491.8" stroke="#222" stroke-width="0.9"/>
<text x="133.7" y="502.6" font-size="11" text-anchor="middle" fill="#222" textLength="6.4" lengthAdjust="spacingAndGlyphs">0</text>
<text x="181.5" y="502.6" font-size="11" text-anchor="middle" fill="#222" textLength="6.4" lengthAdjust="spacingAndGlyphs">4</text>
<text x="168.25" y="431.6" font-size="11" text-anchor="middle" fill="#222" textLength="26" lengthAdjust="spacingAndGlyphs">5 km</text>
<rect x="216.7" y="421.3" width="21.9" height="69" fill="#e9e9e9"/>
<rect x="279.4" y="421.3" width="6.4" height="69" fill="#e9e9e9"/>
<line x1="216.7" y1="476.6" x2="285.8" y2="476.6" stroke="#e3e3e3" stroke-width="0.8"/>
<line x1="216.7" y1="462.9" x2="285.8" y2="462.9" stroke="#e3e3e3" stroke-width="0.8"/>
<line x1="216.7" y1="449.2" x2="285.8" y2="449.2" stroke="#e3e3e3" stroke-width="0.8"/>
<line x1="216.7" y1="435.5" x2="285.8" y2="435.5" stroke="#e3e3e3" stroke-width="0.8"/>
<polyline points="241.7,447.3 242.82,447.57 244.42,447.93 246.21,448.54 247.9,449.6 249.39,451.32 250.86,453.56 252.36,455.91 254,458 255.81,459.69 257.75,461.19 259.74,462.65 261.7,464.2 263.61,465.89 265.51,467.66 267.43,469.41 269.4,471.1 271.65,472.82 274.08,474.58 276.27,476.12 277.8,477.2" fill="none" stroke="#333" stroke-width="0.6" stroke-linejoin="round"/>
<polyline points="240,446.39 240.09,445.97 240.16,445.26 240.25,444.98 240.37,444.91 240.55,444.51 240.81,443.7 241.19,444.01 241.7,443.5 242.32,442.59 243.02,442.84 243.81,442.02 244.69,441.92 245.68,441.29 246.79,440.41 248.03,440.07 249.4,439.76 250.92,440.02 252.58,439.37 254.36,439.58 256.27,440.06 258.28,439.38 260.38,440.04 262.55,439.4 264.8,439.59 267.3,440.02 270.15,440.23 273.19,439.95 276.26,439.72 279.22,440.47 281.9,440.24 284.14,440.88 285.8,440.29" fill="none" stroke="#fbe48f" stroke-width="0.6" stroke-linejoin="round"/>
<polyline points="240,444.5 240.09,444.68 240.16,444.57 240.25,444.29 240.37,443.8 240.55,443.55 240.81,443.15 241.19,442.48 241.7,441.92 242.32,441.42 243.02,441.31 243.81,440.89 244.69,439.7 245.68,440.05 246.79,439.11 248.03,439.37 249.4,438.49 250.92,439.05 252.58,438.41 254.36,438.55 256.27,438.14 258.28,438.55 260.38,438.01 262.55,438.51 264.8,438.45 267.3,438.42 270.15,438.04 273.19,439.04 276.26,439.04 279.22,438.79 281.9,439.07 284.14,439.44 285.8,439.64" fill="none" stroke="#62c462" stroke-width="0.6" stroke-linejoin="round"/>
<polyline points="221.8,420.48 221.89,420.28 222,421.73 222.12,422.12 222.26,423.46 222.44,424.78 222.67,426.15 222.95,426.73 223.3,427.58 223.72,428.99 224.2,430.03 224.73,430.4 225.31,431.19 225.93,431.54 226.57,432.66 227.23,433.55 227.9,434.32 228.58,435.23 229.28,435.5 230.01,435.93 230.76,436.5 231.53,437.53 232.33,437.4 233.15,438.99 234,438.93 234.92,439.74 235.92,441.73 236.97,442.45 238.04,443.35 239.08,444.13 240.06,445.28 240.95,446.15 241.7,445.87 242.29,447.08 242.73,445.74 243.07,445.68 243.35,445.45 243.62,444.26 243.92,443.89 244.3,443.95 244.8,442.94 245.39,442.39 246,442.91 246.66,442.78 247.37,442.51 248.14,442.13 248.97,442.25 249.89,441.95 250.9,441.55 252.03,441.59 253.27,441.14 254.61,441.38 256.01,441.14 257.45,441.73 258.9,442 260.32,442.51 261.7,442.3 263.02,442.08 264.32,441.98 265.6,441.81 266.89,442.5 268.19,442.11 269.54,442.75 270.93,442.44 272.4,442.62 274.04,442.23 275.87,442.18 277.82,442.4 279.77,442.86 281.64,443.17 283.33,443.26 284.75,443.63 285.8,443.83" fill="none" stroke="#2f9a8c" stroke-width="0.6" stroke-linejoin="round"/>
<polyline points="221.8,420.81 221.89,421.84 222,422.82 222.12,423.85 222.26,424.68 222.44,425.74 222.67,426.74 222.95,428.26 223.3,429.15 223.72,429.61 224.2,431.24 224.73,431.31 225.31,432.01 225.93,432.45 226.57,434.29 227.23,434.65 227.9,435.47 228.58,436.49 229.28,436.66 230.01,437.65 230.76,437.95 231.53,438.46 232.33,439.05 233.15,439.48 234,439.91 234.92,441.69 235.92,442.65 236.97,443.32 238.04,444.65 239.08,446 240.06,445.93 240.95,446.78 241.7,446.97 242.29,447.92 242.73,447.05 243.07,447.07 243.35,447.02 243.62,446.05 243.92,445.44 244.3,445.18 244.8,444.5 245.39,444.62 246,443.49 246.66,443.17 247.37,443.28 248.14,443.43 248.97,443.15 249.89,442.66 250.9,442.29 252.03,442.73 253.27,442.25 254.61,442.66 256.01,442.24 257.45,442.32 258.9,443.15 260.32,443.53 261.7,442.94 263.02,443.15 264.32,443.41 265.6,442.86 266.89,443.95 268.19,442.89 269.54,443.16 270.93,443 272.4,443.74 274.04,443.25 275.87,443.57 277.82,443.43 279.77,444 281.64,444.57 283.33,444.3 284.75,444.29 285.8,443.93" fill="none" stroke="#2a6cae" stroke-width="0.7" stroke-linejoin="round"/>
<polyline points="221.8,422.81 221.89,423.31 222,423.43 222.12,424.69 222.26,425.2 222.44,427.38 222.67,428.32 222.95,429.51 223.3,430.4 223.72,430.76 224.2,431.69 224.73,432.94 225.31,433.78 225.93,433.5 226.57,434.53 227.23,435.25 227.9,436.52 228.58,436.38 229.28,437.16 230.01,438.4 230.76,438.46 231.53,439.38 232.33,439.74 233.15,441.33 234,441.81 234.92,442.24 235.92,442.92 236.97,444.14 238.04,445.04 239.08,446.18 240.06,447.37 240.95,448.09 241.7,448.71 242.29,449.01 242.73,447.99 243.07,447.71 243.35,447.95 243.62,446.66 243.92,446.32 244.3,445.92 244.8,445.98 245.39,444.96 246,444.85 246.66,443.98 247.37,444.12 248.14,443.82 248.97,443.89 249.89,444.01 250.9,443.28 252.03,443.94 253.27,443.93 254.61,444.08 256.01,443.66 257.45,443.67 258.9,443.49 260.32,444.01 261.7,444.21 263.02,443.86 264.32,444.45 265.6,444.17 266.89,444.4 268.19,444.2 269.54,444.93 270.93,443.98 272.4,444.78 274.04,445.08 275.87,444.84 277.82,444.49 279.77,445.19 281.64,445.46 283.33,445.31 284.75,445.23 285.8,445.16" fill="none" stroke="#3b2a8e" stroke-width="0.6" stroke-linejoin="round"/>
<rect x="216.7" y="421.3" width="69.1" height="69" fill="none" stroke="#bdbdbd" stroke-width="0.9"/>
<line x1="214.2" y1="490.3" x2="219.2" y2="490.3" stroke="#222" stroke-width="0.9"/>
<line x1="283.3" y1="490.3" x2="288.3" y2="490.3" stroke="#222" stroke-width="0.9"/>
<line x1="214.2" y1="476.6" x2="219.2" y2="476.6" stroke="#222" stroke-width="0.9"/>
<line x1="283.3" y1="476.6" x2="288.3" y2="476.6" stroke="#222" stroke-width="0.9"/>
<line x1="214.2" y1="462.9" x2="219.2" y2="462.9" stroke="#222" stroke-width="0.9"/>
<line x1="283.3" y1="462.9" x2="288.3" y2="462.9" stroke="#222" stroke-width="0.9"/>
<line x1="214.2" y1="449.2" x2="219.2" y2="449.2" stroke="#222" stroke-width="0.9"/>
<line x1="283.3" y1="449.2" x2="288.3" y2="449.2" stroke="#222" stroke-width="0.9"/>
<line x1="214.2" y1="435.5" x2="219.2" y2="435.5" stroke="#222" stroke-width="0.9"/>
<line x1="283.3" y1="435.5" x2="288.3" y2="435.5" stroke="#222" stroke-width="0.9"/>
<line x1="214.2" y1="421.8" x2="219.2" y2="421.8" stroke="#222" stroke-width="0.9"/>
<line x1="283.3" y1="421.8" x2="288.3" y2="421.8" stroke="#222" stroke-width="0.9"/>
<line x1="216.7" y1="487.3" x2="216.7" y2="491.8" stroke="#222" stroke-width="0.9"/>
<line x1="242.2" y1="487.3" x2="242.2" y2="491.8" stroke="#222" stroke-width="0.9"/>
<line x1="267.8" y1="487.3" x2="267.8" y2="491.8" stroke="#222" stroke-width="0.9"/>
<text x="216.7" y="502.6" font-size="11" text-anchor="middle" fill="#222" textLength="6.4" lengthAdjust="spacingAndGlyphs">0</text>
<text x="267.8" y="502.6" font-size="11" text-anchor="middle" fill="#222" textLength="6.4" lengthAdjust="spacingAndGlyphs">5</text>
<text x="251.25" y="431.6" font-size="11" text-anchor="middle" fill="#222" textLength="39" lengthAdjust="spacingAndGlyphs">7.5 km</text>
<rect x="298.7" y="421.3" width="18.9" height="69" fill="#e9e9e9"/>
<rect x="355.2" y="421.3" width="13.1" height="69" fill="#e9e9e9"/>
<line x1="298.7" y1="476.6" x2="368.3" y2="476.6" stroke="#e3e3e3" stroke-width="0.8"/>
<line x1="298.7" y1="462.9" x2="368.3" y2="462.9" stroke="#e3e3e3" stroke-width="0.8"/>
<line x1="298.7" y1="449.2" x2="368.3" y2="449.2" stroke="#e3e3e3" stroke-width="0.8"/>
<line x1="298.7" y1="435.5" x2="368.3" y2="435.5" stroke="#e3e3e3" stroke-width="0.8"/>
<polyline points="318.3,437.7 318.66,438.77 319.16,440.28 319.8,442.12 320.6,444.2 321.57,446.67 322.71,449.53 323.97,452.42 325.3,455 326.73,456.98 328.26,458.61 329.84,460.34 331.4,462.6 333,465.87 334.64,469.8 336.19,473.58 337.5,476.4 338.49,478 339.24,478.84 339.9,479.15 340.6,479.2 341.34,479.19 342.06,478.93 342.82,478.11 343.7,476.4 344.76,473.46 345.96,469.54 347.17,465.22 348.3,461.1 349.36,457.08 350.39,452.93 351.32,449.01 352.1,445.7 352.69,443.05 353.14,440.89 353.46,439.2 353.7,438" fill="none" stroke="#333" stroke-width="0.6" stroke-linejoin="round"/>
<polyline points="318.3,436.52 319.25,436.86 320.44,436.54 321.85,436.97 323.46,436.07 325.24,435.52 327.17,435.95 329.23,435.5 331.4,435.08 333.9,435.42 336.85,435.68 340.07,435.24 343.37,435.52 346.57,435.65 349.48,435.31 351.92,435.24 353.7,435.54" fill="none" stroke="#fbe48f" stroke-width="0.6" stroke-linejoin="round"/>
<polyline points="318.3,435.84 319.25,435.93 320.44,435.68 321.85,435.09 323.46,435.35 325.24,434.6 327.17,434.32 329.23,434.06 331.4,434.36 333.9,434 336.85,433.64 340.07,434.48 343.37,433.87 346.57,433.86 349.48,433.8 351.92,434.45 353.7,433.89" fill="none" stroke="#62c462" stroke-width="0.6" stroke-linejoin="round"/>
<polyline points="298.7,427.34 299.09,428.13 299.59,427.8 300.2,429.46 300.87,429.94 301.59,430.37 302.34,432.07 303.08,432.98 303.8,433.32 304.51,433.56 305.25,434.85 306.01,435.38 306.79,435.7 307.57,436.07 308.35,436.87 309.13,437.47 309.9,438.48 310.69,438.74 311.51,438.12 312.35,439.32 313.19,439.93 313.99,440.08 314.74,439.58 315.42,439.95 316,440.32 316.45,439.98 316.77,439.54 317,439.43 317.19,438.49 317.38,437.37 317.6,437.28 317.89,437.22 318.3,437.38 318.8,436.24 319.34,436.99 319.93,436.82 320.56,436.54 321.25,436.7 322,436.69 322.82,437.66 323.7,437.53 324.68,436.64 325.75,437.16 326.91,437.35 328.11,436.41 329.35,436.4 330.59,436.57 331.82,436.99 333,436.34 334.14,437.25 335.25,437.05 336.36,437.34 337.46,436.85 338.59,437.4 339.74,437.2 340.94,438.33 342.2,438.43 343.59,437.78 345.13,437.76 346.75,437.62 348.38,438.55 349.96,437.84 351.42,438.52 352.69,437.76 353.7,436.85 354.43,436.1 354.94,435.01 355.27,432.77 355.47,431.22 355.6,430.06 355.7,427.4 355.81,426.03 356,425.08 356.2,424.69 356.36,424.92 356.48,424.55 356.61,424.44 356.75,424.39 356.93,423.75 357.17,424.06 357.5,424.68 357.92,425.62 358.39,426.48 358.93,427.31 359.51,428.07 360.12,428.07 360.76,429.9 361.43,430.31 362.1,430.9 362.84,432.1 363.68,432.7 364.58,433.02 365.49,432.85 366.36,433.34 367.15,434.12 367.81,434.12 368.3,434.26" fill="none" stroke="#2f9a8c" stroke-width="0.6" stroke-linejoin="round"/>
<polyline points="298.7,428.2 299.09,428.74 299.59,429.15 300.2,430.34 300.87,431.21 301.59,431.41 302.34,433.05 303.08,434.01 303.8,433.92 304.51,435.06 305.25,435.29 306.01,435.96 306.79,436.55 307.57,437.66 308.35,438.39 309.13,438.23 309.9,438.85 310.69,439.85 311.51,440 312.35,440.05 313.19,440.5 313.99,441.16 314.74,441.01 315.42,441.22 316,440.42 316.45,441.38 316.77,440.69 317,440.64 317.19,440.14 317.38,439.46 317.6,438.19 317.89,438.33 318.3,437.96 318.8,437.59 319.34,438.11 319.93,437.75 320.56,437.45 321.25,438.39 322,437.69 322.82,438.05 323.7,438.3 324.68,437.92 325.75,438.25 326.91,438.46 328.11,437.45 329.35,437.88 330.59,437.53 331.82,438 333,438.3 334.14,438.42 335.25,438.57 336.36,437.95 337.46,439.01 338.59,438.25 339.74,438.46 340.94,439.2 342.2,438.73 343.59,438.74 345.13,438.8 346.75,439.57 348.38,439.04 349.96,439.01 351.42,439.78 352.69,438.74 353.7,437.7 354.43,437.58 354.94,435.8 355.27,434.58 355.47,432.41 355.6,430.7 355.7,429.09 355.81,427.11 356,426.47 356.2,426.06 356.36,425.07 356.48,425.51 356.61,425.16 356.75,425.38 356.93,425.79 357.17,425.34 357.5,426.14 357.92,426.01 358.39,427.41 358.93,427.89 359.51,428.51 360.12,429.14 360.76,430.15 361.43,431.18 362.1,432.48 362.84,432.38 363.68,433.48 364.58,433.69 365.49,434.4 366.36,434.39 367.15,434.46 367.81,435.66 368.3,435.07" fill="none" stroke="#2a6cae" stroke-width="0.7" stroke-linejoin="round"/>
<polyline points="298.7,429.52 299.09,429.23 299.59,430.43 300.2,431.47 300.87,431.7 301.59,433.47 302.34,433.6 303.08,434.14 303.8,435.9 304.51,436.61 305.25,436.86 306.01,437.02 306.79,437.9 307.57,438.61 308.35,439.29 309.13,439.07 309.9,439.98 310.69,440.94 311.51,440.82 312.35,441.37 313.19,442.02 313.99,441.75 314.74,441.39 315.42,441.92 316,441.49 316.45,441.62 316.77,441.1 317,441.04 317.19,440.62 317.38,439.96 317.6,439.67 317.89,439.16 318.3,438.49 318.8,438.86 319.34,438.8 319.93,438.66 320.56,438.77 321.25,438.98 322,439.62 322.82,439.43 323.7,439.38 324.68,438.99 325.75,439.36 326.91,439.64 328.11,439.19 329.35,438.61 330.59,439.48 331.82,439.41 333,438.87 334.14,438.54 335.25,439.05 336.36,439.17 337.46,439.93 338.59,440.2 339.74,440.35 340.94,440.4 342.2,439.76 343.59,440.44 345.13,440.27 346.75,440.24 348.38,440.76 349.96,440.73 351.42,440.74 352.69,439.9 353.7,439.18 354.43,438.6 354.94,436.23 355.27,434.96 355.47,433.11 355.6,431.23 355.7,429.83 355.81,428.09 356,428.18 356.2,426.95 356.36,427.12 356.48,426.04 356.61,425.72 356.75,426.36 356.93,426.89 357.17,426.39 357.5,427.39 357.92,427.95 358.39,428.58 358.93,429 359.51,430.33 360.12,430.13 360.76,431.76 361.43,432.35 362.1,432.84 362.84,433.11 363.68,434.19 364.58,435.17 365.49,435.51 366.36,435.44 367.15,436.11 367.81,436.03 368.3,436" fill="none" stroke="#3b2a8e" stroke-width="0.6" stroke-linejoin="round"/>
<rect x="298.7" y="421.3" width="69.6" height="69" fill="none" stroke="#bdbdbd" stroke-width="0.9"/>
<line x1="296.2" y1="490.3" x2="301.2" y2="490.3" stroke="#222" stroke-width="0.9"/>
<line x1="365.8" y1="490.3" x2="370.8" y2="490.3" stroke="#222" stroke-width="0.9"/>
<line x1="296.2" y1="476.6" x2="301.2" y2="476.6" stroke="#222" stroke-width="0.9"/>
<line x1="365.8" y1="476.6" x2="370.8" y2="476.6" stroke="#222" stroke-width="0.9"/>
<line x1="296.2" y1="462.9" x2="301.2" y2="462.9" stroke="#222" stroke-width="0.9"/>
<line x1="365.8" y1="462.9" x2="370.8" y2="462.9" stroke="#222" stroke-width="0.9"/>
<line x1="296.2" y1="449.2" x2="301.2" y2="449.2" stroke="#222" stroke-width="0.9"/>
<line x1="365.8" y1="449.2" x2="370.8" y2="449.2" stroke="#222" stroke-width="0.9"/>
<line x1="296.2" y1="435.5" x2="301.2" y2="435.5" stroke="#222" stroke-width="0.9"/>
<line x1="365.8" y1="435.5" x2="370.8" y2="435.5" stroke="#222" stroke-width="0.9"/>
<line x1="296.2" y1="421.8" x2="301.2" y2="421.8" stroke="#222" stroke-width="0.9"/>
<line x1="365.8" y1="421.8" x2="370.8" y2="421.8" stroke="#222" stroke-width="0.9"/>
<line x1="298.7" y1="487.3" x2="298.7" y2="491.8" stroke="#222" stroke-width="0.9"/>
<line x1="326.8" y1="487.3" x2="326.8" y2="491.8" stroke="#222" stroke-width="0.9"/>
<line x1="355.2" y1="487.3" x2="355.2" y2="491.8" stroke="#222" stroke-width="0.9"/>
<text x="298.7" y="502.6" font-size="11" text-anchor="middle" fill="#222" textLength="6.4" lengthAdjust="spacingAndGlyphs">0</text>
<text x="355.2" y="502.6" font-size="11" text-anchor="middle" fill="#222" textLength="6.4" lengthAdjust="spacingAndGlyphs">5</text>
<text x="333.5" y="431.6" font-size="11" text-anchor="middle" fill="#222" textLength="32.5" lengthAdjust="spacingAndGlyphs">10 km</text>
<rect x="379.7" y="421.3" width="10.9" height="69" fill="#e9e9e9"/>
<rect x="436.2" y="421.3" width="13.1" height="69" fill="#e9e9e9"/>
<line x1="379.7" y1="476.6" x2="449.3" y2="476.6" stroke="#e3e3e3" stroke-width="0.8"/>
<line x1="379.7" y1="462.9" x2="449.3" y2="462.9" stroke="#e3e3e3" stroke-width="0.8"/>
<line x1="379.7" y1="449.2" x2="449.3" y2="449.2" stroke="#e3e3e3" stroke-width="0.8"/>
<line x1="379.7" y1="435.5" x2="449.3" y2="435.5" stroke="#e3e3e3" stroke-width="0.8"/>
<polyline points="394,446.5 395.43,447.99 397.51,450.12 399.73,452.54 401.6,454.9 402.98,457.21 404.14,459.62 405.2,461.99 406.3,464.2 407.49,466.36 408.71,468.51 409.86,470.32 410.9,471.5 411.72,471.91 412.4,471.74 413.07,471.14 413.9,470.3 414.9,469.12 416,467.56 417.2,465.85 418.5,464.2 419.94,462.65 421.51,461.1 423.12,459.55 424.7,458 426.3,456.45 427.94,454.9 429.49,453.37 430.8,451.9 431.86,450.37 432.73,448.82 433.41,447.45 433.9,446.5" fill="none" stroke="#333" stroke-width="0.6" stroke-linejoin="round"/>
<polyline points="390.9,443.62 391.7,442.76 392.75,442.44 393.99,442.7 395.38,442.54 396.88,441.44 398.45,441.15 400.04,440.97 401.6,440.71 403.21,440.64 404.93,440.31 406.72,440.34 408.55,439.84 410.38,439.69 412.18,439.39 413.89,439.69 415.5,439.67 417,439.12 418.44,439.43 419.81,439.62 421.14,439.56 422.44,440 423.71,439.55 424.96,440.16 426.2,440.56 427.48,439.86 428.82,440.92 430.16,440.93 431.47,440.92 432.69,440.79 433.78,441.52 434.7,441.33 435.4,442.04" fill="none" stroke="#fbe48f" stroke-width="0.6" stroke-linejoin="round"/>
<polyline points="390.9,441.53 391.7,441.56 392.75,441.66 393.99,440.8 395.38,441.28 396.88,440.57 398.45,440.35 400.04,439.54 401.6,439.26 403.21,439.16 404.93,439.28 406.72,438.67 408.55,439.09 410.38,438.28 412.18,438.32 413.89,437.62 415.5,437.78 417,437.67 418.44,438.51 419.81,438.51 421.14,438.68 422.44,438.79 423.71,438.86 424.96,438.54 426.2,438.69 427.48,438.68 428.82,438.97 430.16,439.39 431.47,439.9 432.69,440.28 433.78,439.54 434.7,440.57 435.4,440.05" fill="none" stroke="#62c462" stroke-width="0.6" stroke-linejoin="round"/>
<polyline points="379.7,434.47 380.22,434.18 380.93,434.97 381.78,434.97 382.71,434.42 383.68,435.75 384.64,435.18 385.53,435.64 386.3,436.6 386.98,436.95 387.63,437.77 388.24,437.63 388.82,438.12 389.37,439.77 389.9,439.37 390.41,440.8 390.9,441.25 391.33,441.07 391.67,442.28 391.97,442.86 392.26,444.11 392.57,444.22 392.94,445.5 393.41,445.64 394,445.43 394.71,445.15 395.51,444.97 396.38,445.01 397.32,445.12 398.32,445.01 399.37,443.68 400.47,443.75 401.6,443.7 402.79,443.5 404.04,442.72 405.35,442.18 406.71,441.9 408.1,441.63 409.52,441.7 410.96,441.82 412.4,441.72 413.89,442.12 415.46,441.19 417.07,441.49 418.7,441.84 420.31,442.32 421.86,442.2 423.34,441.87 424.7,442.56 425.97,442.3 427.18,442.61 428.33,444.04 429.42,444 430.45,444.32 431.41,445.16 432.29,444.33 433.1,445.05 433.8,444.34 434.38,443.55 434.86,443.19 435.29,442.47 435.68,441.48 436.08,440.96 436.51,439.26 437,439.01 437.52,437.95 438.03,437.43 438.54,436.03 439.06,435.74 439.62,434.88 440.22,434.34 440.87,433.07 441.6,432.69 442.47,431.43 443.49,429.9 444.6,429.32 445.74,427.63 446.84,427.05 447.84,425.67 448.68,424.86 449.3,424.45" fill="none" stroke="#2f9a8c" stroke-width="0.6" stroke-linejoin="round"/>
<polyline points="379.7,435.8 380.22,435.89 380.93,436.15 381.78,435.71 382.71,435.99 383.68,435.97 384.64,436.18 385.53,436.75 386.3,437.06 386.98,437.72 387.63,437.95 388.24,439.26 388.82,439.5 389.37,440.81 389.9,440.71 390.41,441.31 390.9,442.13 391.33,443.23 391.67,442.99 391.97,443.94 392.26,445.33 392.57,445.96 392.94,445.64 393.41,446.75 394,446.11 394.71,446.28 395.51,446.11 396.38,446.03 397.32,445.42 398.32,446.11 399.37,445.52 400.47,445.03 401.6,443.87 402.79,444.42 404.04,443.62 405.35,443.96 406.71,443.36 408.1,443.47 409.52,442.75 410.96,442.37 412.4,442.22 413.89,442.63 415.46,442.88 417.07,442.81 418.7,443.47 420.31,443.56 421.86,443.69 423.34,443.69 424.7,443.86 425.97,443.41 427.18,444.07 428.33,445.02 429.42,444.82 430.45,445.29 431.41,445.92 432.29,446.22 433.1,446.23 433.8,445.97 434.38,445.03 434.86,443.65 435.29,443.53 435.68,442.41 436.08,441.74 436.51,440.12 437,440.12 437.52,438.49 438.03,438.37 438.54,437.16 439.06,437.33 439.62,436.51 440.22,434.71 440.87,434.57 441.6,433.36 442.47,432.64 443.49,431.12 444.6,430.44 445.74,429.21 446.84,427.84 447.84,426.98 448.68,426.08 449.3,425.46" fill="none" stroke="#2a6cae" stroke-width="0.7" stroke-linejoin="round"/>
<polyline points="379.7,436.51 380.22,436.09 380.93,436.62 381.78,436.19 382.71,437.65 383.68,437.65 384.64,437.89 385.53,437.79 386.3,438.52 386.98,439.04 387.63,439.91 388.24,439.98 388.82,440.6 389.37,441.01 389.9,442.23 390.41,443.07 390.9,443.39 391.33,443.38 391.67,443.92 391.97,444.63 392.26,446.16 392.57,446.28 392.94,447.13 393.41,447.45 394,447.94 394.71,447.95 395.51,447.5 396.38,447.2 397.32,446.46 398.32,446.74 399.37,445.69 400.47,445.8 401.6,445.9 402.79,445 404.04,445.13 405.35,444.14 406.71,444.89 408.1,443.95 409.52,444.57 410.96,444.36 412.4,444.23 413.89,443.54 415.46,443.81 417.07,444.22 418.7,443.99 420.31,444.24 421.86,444.01 423.34,444.94 424.7,444.18 425.97,445.44 427.18,445.14 428.33,445.88 429.42,446.09 430.45,447.06 431.41,447.39 432.29,447.58 433.1,447.29 433.8,446.93 434.38,446.27 434.86,445.74 435.29,444.2 435.68,443.43 436.08,442.52 436.51,441.67 437,441.01 437.52,440.44 438.03,439.11 438.54,438.87 439.06,438.34 439.62,437.28 440.22,435.75 440.87,435.32 441.6,434.79 442.47,433.46 443.49,432.99 444.6,431.39 445.74,430.4 446.84,429.29 447.84,427.81 448.68,426.92 449.3,426.21" fill="none" stroke="#3b2a8e" stroke-width="0.6" stroke-linejoin="round"/>
<rect x="379.7" y="421.3" width="69.6" height="69" fill="none" stroke="#bdbdbd" stroke-width="0.9"/>
<line x1="377.2" y1="490.3" x2="382.2" y2="490.3" stroke="#222" stroke-width="0.9"/>
<line x1="446.8" y1="490.3" x2="451.8" y2="490.3" stroke="#222" stroke-width="0.9"/>
<line x1="377.2" y1="476.6" x2="382.2" y2="476.6" stroke="#222" stroke-width="0.9"/>
<line x1="446.8" y1="476.6" x2="451.8" y2="476.6" stroke="#222" stroke-width="0.9"/>
<line x1="377.2" y1="462.9" x2="382.2" y2="462.9" stroke="#222" stroke-width="0.9"/>
<line x1="446.8" y1="462.9" x2="451.8" y2="462.9" stroke="#222" stroke-width="0.9"/>
<line x1="377.2" y1="449.2" x2="382.2" y2="449.2" stroke="#222" stroke-width="0.9"/>
<line x1="446.8" y1="449.2" x2="451.8" y2="449.2" stroke="#222" stroke-width="0.9"/>
<line x1="377.2" y1="435.5" x2="382.2" y2="435.5" stroke="#222" stroke-width="0.9"/>
<line x1="446.8" y1="435.5" x2="451.8" y2="435.5" stroke="#222" stroke-width="0.9"/>
<line x1="377.2" y1="421.8" x2="382.2" y2="421.8" stroke="#222" stroke-width="0.9"/>
<line x1="446.8" y1="421.8" x2="451.8" y2="421.8" stroke="#222" stroke-width="0.9"/>
<line x1="379.7" y1="487.3" x2="379.7" y2="491.8" stroke="#222" stroke-width="0.9"/>
<line x1="399.9" y1="487.3" x2="399.9" y2="491.8" stroke="#222" stroke-width="0.9"/>
<line x1="420.1" y1="487.3" x2="420.1" y2="491.8" stroke="#222" stroke-width="0.9"/>
<text x="379.7" y="502.6" font-size="11" text-anchor="middle" fill="#222" textLength="6.4" lengthAdjust="spacingAndGlyphs">0</text>
<text x="420.1" y="502.6" font-size="11" text-anchor="middle" fill="#222" textLength="6.4" lengthAdjust="spacingAndGlyphs">2</text>
<text x="414.5" y="431.6" font-size="11" text-anchor="middle" fill="#222" textLength="39" lengthAdjust="spacingAndGlyphs">2.5 km</text>
<rect x="463.1" y="421.3" width="11.1" height="69" fill="#e9e9e9"/>
<rect x="522.3" y="421.3" width="10.4" height="69" fill="#e9e9e9"/>
<line x1="463.1" y1="476.6" x2="532.7" y2="476.6" stroke="#e3e3e3" stroke-width="0.8"/>
<line x1="463.1" y1="462.9" x2="532.7" y2="462.9" stroke="#e3e3e3" stroke-width="0.8"/>
<line x1="463.1" y1="449.2" x2="532.7" y2="449.2" stroke="#e3e3e3" stroke-width="0.8"/>
<line x1="463.1" y1="435.5" x2="532.7" y2="435.5" stroke="#e3e3e3" stroke-width="0.8"/>
<polyline points="477,438 478.06,438.9 479.57,440.14 481.32,441.86 483.1,444.2 484.99,447.53 487.04,451.66 489.06,455.88 490.8,459.5 492.16,462.36 493.26,464.84 494.29,466.97 495.4,468.8 496.63,470.54 497.88,472.09 499.17,473.07 500.5,473.1 501.87,471.92 503.29,469.79 504.73,467.09 506.2,464.2 507.7,461.02 509.22,457.41 510.77,453.72 512.3,450.3 513.97,446.99 515.73,443.68 517.3,440.81 518.4,438.8" fill="none" stroke="#333" stroke-width="0.6" stroke-linejoin="round"/>
<polyline points="477,436.87 478.39,436.75 480.2,436.64 482.35,436.63 484.76,435.76 487.35,436.01 490.05,435.5 492.75,435.07 495.4,434.72 498.21,435.43 501.37,435.14 504.7,435.27 508.05,434.95 511.26,435.29 514.16,435.49 516.59,435.9 518.4,435.03" fill="none" stroke="#fbe48f" stroke-width="0.6" stroke-linejoin="round"/>
<polyline points="477,435.94 478.39,435.9 480.2,434.87 482.35,434.49 484.76,434.47 487.35,434.24 490.05,433.89 492.75,434.16 495.4,433.22 498.21,433.27 501.37,433.52 504.7,434.12 508.05,433.91 511.26,434.14 514.16,434.01 516.59,434.27 518.4,434.45" fill="none" stroke="#62c462" stroke-width="0.6" stroke-linejoin="round"/>
<polyline points="463.1,427.51 463.53,427.76 464.11,428.11 464.8,427.9 465.56,428.03 466.35,427.03 467.13,427.29 467.86,427.64 468.5,427.68 469.05,427.96 469.56,428.34 470.04,429.35 470.5,429.29 470.95,430.43 471.41,430.62 471.89,430.87 472.4,431.82 472.95,432.32 473.54,433.52 474.14,434.35 474.76,434.95 475.36,434.97 475.95,435.85 476.5,437.14 477,436.89 477.37,437.61 477.57,437.53 477.7,438.63 477.82,438.04 478.04,437.92 478.42,438.32 479.04,438.46 480,439.25 481.35,438.92 483.05,438.53 485,437.76 487.12,438.51 489.31,437.4 491.48,436.91 493.54,437.79 495.4,437.05 497.1,437.35 498.73,437.54 500.31,437.68 501.84,437.33 503.34,437.85 504.81,437.95 506.26,438.17 507.7,437.38 509.14,437.73 510.59,437.79 512.03,438.78 513.43,438.04 514.79,438.75 516.08,438.31 517.29,438.41 518.4,438.05 519.38,437.51 520.22,436.07 520.97,435.59 521.66,434.12 522.33,432.49 523.02,431.45 523.76,430.21 524.6,429.97 525.58,428.3 526.68,427.46 527.85,425.43 529.04,424.69 530.17,423.54 531.2,421.67 532.06,421.46 532.7,419.63" fill="none" stroke="#2f9a8c" stroke-width="0.6" stroke-linejoin="round"/>
<polyline points="463.1,429.6 463.53,429.01 464.11,428.61 464.8,428.77 465.56,428.34 466.35,429.16 467.13,428.73 467.86,428.51 468.5,429.5 469.05,428.87 469.56,429.2 470.04,430.41 470.5,430.22 470.95,431.42 471.41,431.63 471.89,432.82 472.4,433.06 472.95,433.42 473.54,433.99 474.14,435.4 474.76,435.92 475.36,436.13 475.95,436.78 476.5,437.17 477,438.65 477.37,438.45 477.57,438.46 477.7,439.48 477.82,439.39 478.04,439.94 478.42,439.64 479.04,440.15 480,439.21 481.35,439.59 483.05,439.53 485,439.4 487.12,438.72 489.31,439.16 491.48,438.99 493.54,437.82 495.4,437.99 497.1,437.92 498.73,438.6 500.31,438.31 501.84,438.5 503.34,438.62 504.81,438.42 506.26,439.26 507.7,439.4 509.14,439.38 510.59,439.52 512.03,438.88 513.43,440.06 514.79,439.92 516.08,439.74 517.29,439.67 518.4,439.56 519.38,438.6 520.22,437.18 520.97,436.34 521.66,435.29 522.33,434.06 523.02,433.48 523.76,431.77 524.6,430.01 525.58,429.06 526.68,427.82 527.85,426.71 529.04,425.36 530.17,424.01 531.2,422.62 532.06,422.25 532.7,421.11" fill="none" stroke="#2a6cae" stroke-width="0.7" stroke-linejoin="round"/>
<polyline points="463.1,430.02 463.53,430.35 464.11,429.93 464.8,430.14 465.56,429.62 466.35,429.74 467.13,430.01 467.86,430.11 468.5,430.5 469.05,430.71 469.56,431.1 470.04,431.2 470.5,431.95 470.95,431.83 471.41,432.91 471.89,433.37 472.4,434.04 472.95,434.82 473.54,435.01 474.14,436.54 474.76,436.59 475.36,437.41 475.95,437.89 476.5,438.76 477,439.48 477.37,439.79 477.57,440.4 477.7,440.8 477.82,440.42 478.04,440.09 478.42,440.16 479.04,440.97 480,441.15 481.35,440.18 483.05,440.5 485,439.96 487.12,440.38 489.31,440.29 491.48,439.55 493.54,439.24 495.4,438.8 497.1,438.95 498.73,438.89 500.31,438.91 501.84,439.36 503.34,439.83 504.81,439.38 506.26,439.47 507.7,439.82 509.14,439.73 510.59,440.4 512.03,440.08 513.43,439.98 514.79,440.13 516.08,440.85 517.29,440.02 518.4,440.09 519.38,439.25 520.22,438.61 520.97,437.57 521.66,436.67 522.33,434.88 523.02,434.4 523.76,432.62 524.6,431.52 525.58,429.92 526.68,429.47 527.85,427.91 529.04,426.35 530.17,425.38 531.2,424.31 532.06,422.74 532.7,422.22" fill="none" stroke="#3b2a8e" stroke-width="0.6" stroke-linejoin="round"/>
<rect x="463.1" y="421.3" width="69.6" height="69" fill="none" stroke="#bdbdbd" stroke-width="0.9"/>
<line x1="460.6" y1="490.3" x2="465.6" y2="490.3" stroke="#222" stroke-width="0.9"/>
<line x1="530.2" y1="490.3" x2="535.2" y2="490.3" stroke="#222" stroke-width="0.9"/>
<line x1="460.6" y1="476.6" x2="465.6" y2="476.6" stroke="#222" stroke-width="0.9"/>
<line x1="530.2" y1="476.6" x2="535.2" y2="476.6" stroke="#222" stroke-width="0.9"/>
<line x1="460.6" y1="462.9" x2="465.6" y2="462.9" stroke="#222" stroke-width="0.9"/>
<line x1="530.2" y1="462.9" x2="535.2" y2="462.9" stroke="#222" stroke-width="0.9"/>
<line x1="460.6" y1="449.2" x2="465.6" y2="449.2" stroke="#222" stroke-width="0.9"/>
<line x1="530.2" y1="449.2" x2="535.2" y2="449.2" stroke="#222" stroke-width="0.9"/>
<line x1="460.6" y1="435.5" x2="465.6" y2="435.5" stroke="#222" stroke-width="0.9"/>
<line x1="530.2" y1="435.5" x2="535.2" y2="435.5" stroke="#222" stroke-width="0.9"/>
<line x1="460.6" y1="421.8" x2="465.6" y2="421.8" stroke="#222" stroke-width="0.9"/>
<line x1="530.2" y1="421.8" x2="535.2" y2="421.8" stroke="#222" stroke-width="0.9"/>
<line x1="463.1" y1="487.3" x2="463.1" y2="491.8" stroke="#222" stroke-width="0.9"/>
<line x1="487.7" y1="487.3" x2="487.7" y2="491.8" stroke="#222" stroke-width="0.9"/>
<line x1="511.5" y1="487.3" x2="511.5" y2="491.8" stroke="#222" stroke-width="0.9"/>
<text x="463.1" y="502.6" font-size="11" text-anchor="middle" fill="#222" textLength="6.4" lengthAdjust="spacingAndGlyphs">0</text>
<text x="511.5" y="502.6" font-size="11" text-anchor="middle" fill="#222" textLength="6.4" lengthAdjust="spacingAndGlyphs">2</text>
<text x="497.9" y="431.6" font-size="11" text-anchor="middle" fill="#222" textLength="26" lengthAdjust="spacingAndGlyphs">4 km</text>
<rect x="546.5" y="421.3" width="13.5" height="69" fill="#e9e9e9"/>
<rect x="608" y="421.3" width="8.3" height="69" fill="#e9e9e9"/>
<line x1="546.5" y1="476.6" x2="616.3" y2="476.6" stroke="#e3e3e3" stroke-width="0.8"/>
<line x1="546.5" y1="462.9" x2="616.3" y2="462.9" stroke="#e3e3e3" stroke-width="0.8"/>
<line x1="546.5" y1="449.2" x2="616.3" y2="449.2" stroke="#e3e3e3" stroke-width="0.8"/>
<line x1="546.5" y1="435.5" x2="616.3" y2="435.5" stroke="#e3e3e3" stroke-width="0.8"/>
<polyline points="561.5,434.2 562.56,435.91 564.07,438.34 565.82,441.2 567.6,444.2 569.41,447.46 571.35,451.07 573.34,454.69 575.3,458 577.33,461.11 579.44,464.14 581.4,466.73 583,468.5 584.03,469.3 584.65,469.34 585.22,468.83 586.1,468 587.38,466.92 588.86,465.48 590.49,463.57 592.2,461.1 594.05,457.76 596.05,453.69 598.05,449.48 599.9,445.7 601.68,442.28 603.43,438.99 604.94,436.17 606,434.2" fill="none" stroke="#333" stroke-width="0.6" stroke-linejoin="round"/>
<polyline points="560.7,432.6 562.7,432.49 565.39,432.42 568.61,432.24 572.16,431.95 575.86,431.64 579.54,431.71 583.01,431.46 586.1,431.34 588.99,431.8 591.93,431.61 594.84,431.78 597.64,431.89 600.24,431.84 602.55,432.02 604.5,431.3 606,431.65" fill="none" stroke="#fbe48f" stroke-width="0.6" stroke-linejoin="round"/>
<polyline points="560.7,430.6 562.7,430.81 565.39,430.8 568.61,430.58 572.16,430.52 575.86,430.17 579.54,430.19 583.01,430.01 586.1,430.55 588.99,430.31 591.93,430.62 594.84,430.44 597.64,430.66 600.24,430.41 602.55,430.71 604.5,430.41 606,429.98" fill="none" stroke="#62c462" stroke-width="0.6" stroke-linejoin="round"/>
<polyline points="555.4,420.16 555.63,420.45 555.94,421.41 556.3,422.04 556.71,422.94 557.14,423.47 557.57,424.47 558,425.24 558.4,425.95 558.74,427.1 559.02,428 559.29,429.3 559.56,430.54 559.89,430.83 560.29,432.27 560.82,432.41 561.5,433.26 562.32,433.3 563.23,433.56 564.23,434.49 565.33,434.41 566.53,433.57 567.82,434.08 569.21,434.01 570.7,434.31 572.33,434.31 574.12,433.9 576.03,434.17 578.02,434.01 580.06,434.54 582.11,434.09 584.14,434.16 586.1,435 588.09,434.06 590.18,434.46 592.32,434.52 594.42,434.87 596.45,434.57 598.33,434.02 600,434.33 601.4,434.35 602.49,433.66 603.3,434 603.9,433.51 604.36,433.16 604.74,434.03 605.09,432.76 605.49,432.52 606,431.98 606.59,431.38 607.19,431.74 607.79,430.28 608.4,430.26 609,429.41 609.59,427.75 610.15,426.62 610.7,426.41 611.24,425.75 611.8,425.09 612.36,423.45 612.89,423.64 613.39,422.49 613.84,421.78 614.21,420.71 614.5,420.11" fill="none" stroke="#2f9a8c" stroke-width="0.6" stroke-linejoin="round"/>
<polyline points="555.4,421.67 555.63,422.1 555.94,423.21 556.3,422.88 556.71,424.26 557.14,425.28 557.57,426.18 558,426.55 558.4,427.29 558.74,428.88 559.02,429.54 559.29,430.72 559.56,431.01 559.89,432.47 560.29,432.67 560.82,434.12 561.5,434.88 562.32,434.22 563.23,435.43 564.23,435.77 565.33,435 566.53,434.75 567.82,435.46 569.21,434.94 570.7,434.74 572.33,435.76 574.12,435.57 576.03,435.04 578.02,435.64 580.06,435.38 582.11,435.43 584.14,435.66 586.1,435.87 588.09,435.95 590.18,435.43 592.32,435.67 594.42,436.03 596.45,435.41 598.33,435.28 600,435.61 601.4,435.42 602.49,434.63 603.3,434.62 603.9,434.55 604.36,434.66 604.74,434.99 605.09,434.04 605.49,434.08 606,433.92 606.59,433.21 607.19,431.83 607.79,431.75 608.4,431.21 609,430.1 609.59,428.85 610.15,428.13 610.7,427.89 611.24,426.31 611.8,425.99 612.36,424.84 612.89,424.22 613.39,423.26 613.84,423.01 614.21,422.32 614.5,421.33" fill="none" stroke="#2a6cae" stroke-width="0.7" stroke-linejoin="round"/>
<polyline points="555.4,422.49 555.63,423.2 555.94,424.26 556.3,424.21 556.71,424.77 557.14,425.81 557.57,426.71 558,427.45 558.4,427.99 558.74,429.62 559.02,429.91 559.29,431.04 559.56,431.87 559.89,432.62 560.29,433.48 560.82,434.41 561.5,435.03 562.32,436 563.23,436.14 564.23,436.4 565.33,436.75 566.53,435.77 567.82,436.47 569.21,436.46 570.7,435.85 572.33,436.19 574.12,436.13 576.03,436.25 578.02,436.89 580.06,436.71 582.11,435.98 584.14,436.71 586.1,436.05 588.09,436.23 590.18,435.92 592.32,436.57 594.42,436.25 596.45,436 598.33,436.28 600,435.98 601.4,436.13 602.49,435.72 603.3,435.64 603.9,435.93 604.36,435.63 604.74,435.23 605.09,435.03 605.49,434.44 606,434.87 606.59,433.76 607.19,433.3 607.79,433.08 608.4,432.12 609,430.96 609.59,430.35 610.15,429.24 610.7,428.29 611.24,427.87 611.8,427.01 612.36,426.58 612.89,424.68 613.39,424.34 613.84,424.16 614.21,423.08 614.5,422.45" fill="none" stroke="#3b2a8e" stroke-width="0.6" stroke-linejoin="round"/>
<rect x="546.5" y="421.3" width="69.8" height="69" fill="none" stroke="#bdbdbd" stroke-width="0.9"/>
<line x1="544" y1="490.3" x2="549" y2="490.3" stroke="#222" stroke-width="0.9"/>
<line x1="613.8" y1="490.3" x2="618.8" y2="490.3" stroke="#222" stroke-width="0.9"/>
<line x1="544" y1="476.6" x2="549" y2="476.6" stroke="#222" stroke-width="0.9"/>
<line x1="613.8" y1="476.6" x2="618.8" y2="476.6" stroke="#222" stroke-width="0.9"/>
<line x1="544" y1="462.9" x2="549" y2="462.9" stroke="#222" stroke-width="0.9"/>
<line x1="613.8" y1="462.9" x2="618.8" y2="462.9" stroke="#222" stroke-width="0.9"/>
<line x1="544" y1="449.2" x2="549" y2="449.2" stroke="#222" stroke-width="0.9"/>
<line x1="613.8" y1="449.2" x2="618.8" y2="449.2" stroke="#222" stroke-width="0.9"/>
<line x1="544" y1="435.5" x2="549" y2="435.5" stroke="#222" stroke-width="0.9"/>
<line x1="613.8" y1="435.5" x2="618.8" y2="435.5" stroke="#222" stroke-width="0.9"/>
<line x1="544" y1="421.8" x2="549" y2="421.8" stroke="#222" stroke-width="0.9"/>
<line x1="613.8" y1="421.8" x2="618.8" y2="421.8" stroke="#222" stroke-width="0.9"/>
<line x1="546.5" y1="487.3" x2="546.5" y2="491.8" stroke="#222" stroke-width="0.9"/>
<line x1="570.7" y1="487.3" x2="570.7" y2="491.8" stroke="#222" stroke-width="0.9"/>
<line x1="594.5" y1="487.3" x2="594.5" y2="491.8" stroke="#222" stroke-width="0.9"/>
<text x="546.5" y="502.6" font-size="11" text-anchor="middle" fill="#222" textLength="6.4" lengthAdjust="spacingAndGlyphs">0</text>
<text x="594.5" y="502.6" font-size="11" text-anchor="middle" fill="#222" textLength="6.4" lengthAdjust="spacingAndGlyphs">2</text>
<text x="581.4" y="431.6" font-size="11" text-anchor="middle" fill="#222" textLength="26" lengthAdjust="spacingAndGlyphs">5 km</text>
<text x="9.8" y="360" font-size="12" text-anchor="middle" fill="#222" textLength="108.2" lengthAdjust="spacingAndGlyphs" transform="rotate(-90 9.8 360)">Elevation change</text>
<g transform="translate(27.6 383.75) rotate(-90)">
<text x="0" y="0" font-size="12" fill="#222" textLength="33.75" lengthAdjust="spacingAndGlyphs">(m yr</text>
<text x="34.3" y="-6.8" font-size="8.5" fill="#222" textLength="11.3" lengthAdjust="spacingAndGlyphs">−1</text>
<text x="46.3" y="0" font-size="12" fill="#222" textLength="4.6" lengthAdjust="spacingAndGlyphs">)</text>
</g>
<text x="19" y="461.2" font-size="12" text-anchor="middle" fill="#222" textLength="86.5" lengthAdjust="spacingAndGlyphs" transform="rotate(-90 19 461.2)">Elevation (m)</text>
<text x="266.1" y="517.2" font-size="12" fill="#222" textLength="136.5" lengthAdjust="spacingAndGlyphs">Lateral distance (km)</text>
<rect x="626" y="335.7" width="58.3" height="62.8" rx="4" ry="4" fill="#fff" stroke="#b0b0b0" stroke-width="1"/>
<rect x="629" y="340.3" width="22.4" height="10.3" fill="url(#hd)" opacity="0.85"/>
<rect x="629" y="361" width="22.4" height="10.4" fill="url(#hq)" opacity="0.8"/>
<rect x="629" y="381.7" width="22.4" height="10.4" fill="url(#hb)" opacity="0.8"/>
<text x="662.8" y="345.3" font-size="9.5" text-anchor="middle" fill="#222" textLength="10" lengthAdjust="spacingAndGlyphs" font-style="italic">dh</text>
<line x1="656.8" y1="347.2" x2="668.8" y2="347.2" stroke="#222" stroke-width="0.6"/>
<text x="662.8" y="355.2" font-size="9.5" text-anchor="middle" fill="#222" textLength="9" lengthAdjust="spacingAndGlyphs" font-style="italic">dt</text>
<path d="M657.3,362.6 L668,362.6 L662.65,371.4 Z M659.6,364.0 L665.7,364.0 L662.65,369.0 Z" fill="#222" fill-rule="evenodd"/>
<text x="667.8" y="371.3" font-size="13.5" fill="#222" textLength="7" lengthAdjust="spacingAndGlyphs" font-style="italic">q</text>
<text x="656.6" y="391.8" font-size="14.5" fill="#222" textLength="9" lengthAdjust="spacingAndGlyphs" font-style="italic">b</text>
<circle cx="662.2" cy="380.3" r="0.8" fill="#222"/>
<text x="667.2" y="391.8" font-size="10.5" fill="#222" textLength="15.5" lengthAdjust="spacingAndGlyphs">clim</text>
</svg></body></html>
